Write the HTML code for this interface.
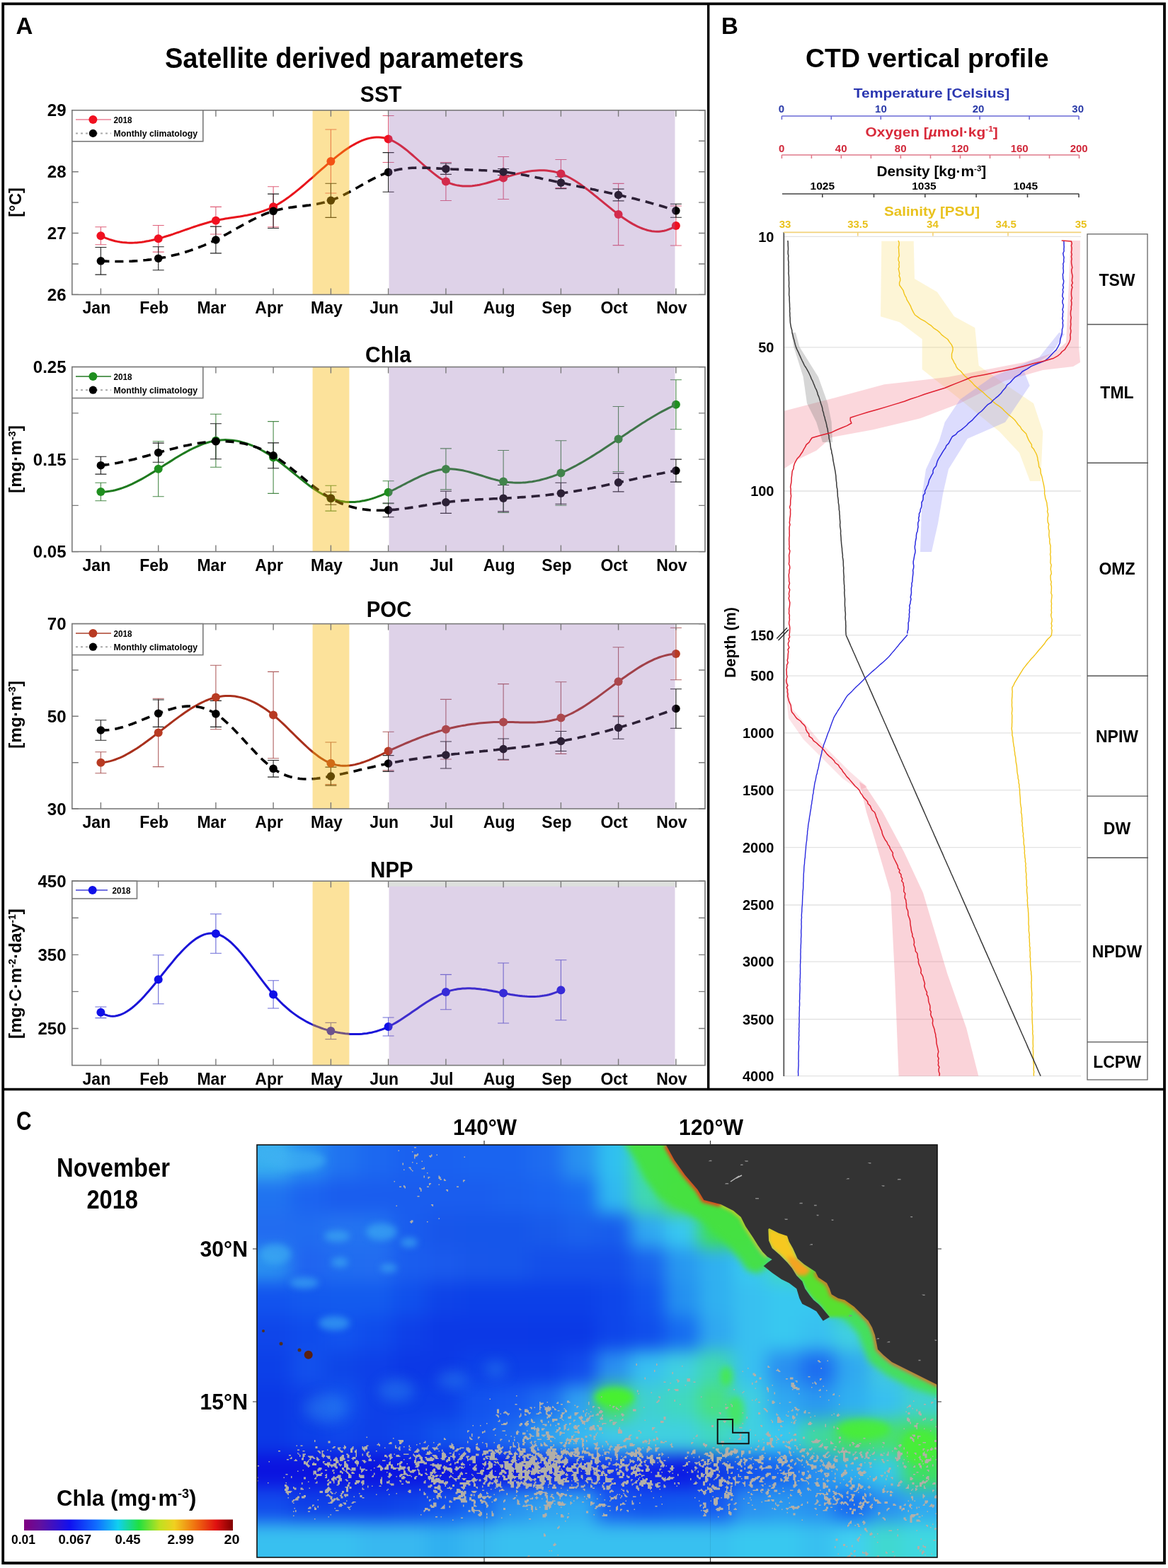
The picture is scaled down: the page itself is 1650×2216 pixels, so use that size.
<!DOCTYPE html><html><head><meta charset="utf-8"><title>Figure</title><style>html,body{margin:0;padding:0;background:#fff;overflow:hidden}svg{display:block}</style></head><body>
<svg width="1650" height="2216" viewBox="0 0 1650 2216" font-family='"Liberation Sans", Arial, sans-serif' font-weight="bold" fill="#000">
<rect width="1650" height="2216" fill="#fff"/>
<text x="22.5" y="48" font-size="33">A</text>
<text x="1019" y="48" font-size="33">B</text>
<text x="23" y="1597" font-size="36" textLength="21.5" lengthAdjust="spacingAndGlyphs">C</text>
<text x="233" y="95.8" font-size="40" textLength="507" lengthAdjust="spacingAndGlyphs">Satellite derived parameters</text>
<text x="1138" y="95.3" font-size="36" textLength="343.5" lengthAdjust="spacingAndGlyphs">CTD vertical profile</text>
<g>
<text x="508.8" y="143.6" font-size="32" textLength="58.6" lengthAdjust="spacingAndGlyphs">SST</text>
<path d="M142.4,320.7 V345.7 M134.4,320.7 H150.4 M134.4,345.7 H150.4 M223.7,318.5 V356.1 M215.7,318.5 H231.7 M215.7,356.1 H231.7 M304.9,292.4 V331 M296.9,292.4 H312.9 M296.9,331 H312.9 M386.1,263.7 V320.7 M378.1,263.7 H394.1 M378.1,320.7 H394.1 M467.4,183 V273 M459.4,183 H475.4 M459.4,273 H475.4 M548.6,163.5 V229.5 M540.6,163.5 H556.6 M540.6,229.5 H556.6 M629.9,229.5 V283.5 M621.9,229.5 H637.9 M621.9,283.5 H637.9 M711.1,221.5 V281.5 M703.1,221.5 H719.1 M703.1,281.5 H719.1 M792.4,225.5 V265.5 M784.4,225.5 H800.4 M784.4,265.5 H800.4 M873.6,259.4 V346.6 M865.6,259.4 H881.6 M865.6,346.6 H881.6 M954.9,291 V347 M946.9,291 H962.9 M946.9,347 H962.9" stroke="#e0607a" stroke-width="1.1" fill="none"/>
<path d="M142.4,349.5 V388.1 M134.4,349.5 H150.4 M134.4,388.1 H150.4 M223.7,348.7 V381.7 M215.7,348.7 H231.7 M215.7,381.7 H231.7 M304.9,320.1 V357.9 M296.9,320.1 H312.9 M296.9,357.9 H312.9 M386.1,274.1 V322.5 M378.1,274.1 H394.1 M378.1,322.5 H394.1 M467.4,259.2 V307.4 M459.4,259.2 H475.4 M459.4,307.4 H475.4 M548.6,215.6 V271.2 M540.6,215.6 H556.6 M540.6,271.2 H556.6 M629.9,231 V246.4 M621.9,231 H637.9 M621.9,246.4 H637.9 M711.1,238.5 V247.5 M703.1,238.5 H719.1 M703.1,247.5 H719.1 M792.4,249.8 V266.6 M784.4,249.8 H800.4 M784.4,266.6 H800.4 M873.6,267.1 V283.9 M865.6,267.1 H881.6 M865.6,283.9 H881.6 M954.9,288.3 V307.3 M946.9,288.3 H962.9 M946.9,307.3 H962.9" stroke="#222" stroke-width="1.1" fill="none"/>
<path d="M142.4,333.2 L145.8,334.8 L149.2,336.3 L152.6,337.6 L155.9,338.8 L159.3,339.8 L162.7,340.7 L166.1,341.4 L169.5,342 L172.9,342.5 L176.3,342.8 L179.6,343.1 L183,343.2 L186.4,343.2 L189.8,343.1 L193.2,342.9 L196.6,342.6 L200,342.2 L203.3,341.7 L206.7,341.1 L210.1,340.5 L213.5,339.8 L216.9,339 L220.3,338.2 L223.7,337.3 L227,336.4 L230.4,335.4 L233.8,334.3 L237.2,333.3 L240.6,332.2 L244,331.1 L247.3,329.9 L250.7,328.7 L254.1,327.6 L257.5,326.4 L260.9,325.2 L264.3,324 L267.7,322.8 L271,321.7 L274.4,320.5 L277.8,319.4 L281.2,318.3 L284.6,317.2 L288,316.2 L291.4,315.2 L294.7,314.2 L298.1,313.3 L301.5,312.5 L304.9,311.7 L308.3,311 L311.7,310.3 L315.1,309.7 L318.4,309.1 L321.8,308.6 L325.2,308 L328.6,307.5 L332,307 L335.4,306.5 L338.8,306 L342.1,305.4 L345.5,304.8 L348.9,304.2 L352.3,303.5 L355.7,302.8 L359.1,302 L362.5,301.1 L365.8,300.2 L369.2,299.1 L372.6,298 L376,296.7 L379.4,295.3 L382.8,293.8 L386.1,292.2 L389.5,290.4 L392.9,288.5 L396.3,286.4 L399.7,284.3 L403.1,282 L406.5,279.6 L409.8,277.1 L413.2,274.5 L416.6,271.9 L420,269.2 L423.4,266.4 L426.8,263.5 L430.2,260.6 L433.5,257.7 L436.9,254.7 L440.3,251.8 L443.7,248.8 L447.1,245.7 L450.5,242.7 L453.9,239.7 L457.2,236.8 L460.6,233.8 L464,230.9 L467.4,228 L470.8,225.2 L474.2,222.4 L477.6,219.7 L480.9,217.1 L484.3,214.5 L487.7,212.1 L491.1,209.8 L494.5,207.6 L497.9,205.5 L501.3,203.6 L504.6,201.8 L508,200.1 L511.4,198.7 L514.8,197.4 L518.2,196.3 L521.6,195.4 L525,194.7 L528.3,194.2 L531.7,194 L535.1,194 L538.5,194.2 L541.9,194.7 L545.3,195.5 L548.6,196.5 L552,197.8 L555.4,199.4 L558.8,201.2 L562.2,203.3 L565.6,205.5 L569,208 L572.3,210.5 L575.7,213.2 L579.1,216.1 L582.5,219 L585.9,222 L589.3,225 L592.7,228 L596,231 L599.4,234.1 L602.8,237 L606.2,239.9 L609.6,242.7 L613,245.4 L616.4,248 L619.7,250.4 L623.1,252.7 L626.5,254.7 L629.9,256.5 L633.3,258.1 L636.7,259.4 L640.1,260.5 L643.4,261.4 L646.8,262.1 L650.2,262.6 L653.6,263 L657,263.1 L660.4,263.1 L663.8,263 L667.1,262.7 L670.5,262.3 L673.9,261.8 L677.3,261.2 L680.7,260.4 L684.1,259.6 L687.5,258.8 L690.8,257.8 L694.2,256.8 L697.6,255.8 L701,254.7 L704.4,253.7 L707.8,252.6 L711.1,251.5 L714.5,250.4 L717.9,249.4 L721.3,248.4 L724.7,247.4 L728.1,246.4 L731.5,245.5 L734.8,244.7 L738.2,243.9 L741.6,243.2 L745,242.6 L748.4,242 L751.8,241.5 L755.2,241.2 L758.5,240.9 L761.9,240.8 L765.3,240.7 L768.7,240.8 L772.1,241 L775.5,241.4 L778.9,241.9 L782.2,242.5 L785.6,243.4 L789,244.3 L792.4,245.5 L795.8,246.8 L799.2,248.3 L802.6,250 L805.9,251.8 L809.3,253.8 L812.7,255.8 L816.1,258 L819.5,260.3 L822.9,262.7 L826.3,265.2 L829.6,267.7 L833,270.4 L836.4,273 L839.8,275.8 L843.2,278.5 L846.6,281.3 L850,284.1 L853.3,286.8 L856.7,289.6 L860.1,292.4 L863.5,295.1 L866.9,297.8 L870.3,300.4 L873.6,303 L877,305.5 L880.4,307.9 L883.8,310.2 L887.2,312.5 L890.6,314.6 L894,316.6 L897.3,318.4 L900.7,320.1 L904.1,321.7 L907.5,323 L910.9,324.2 L914.3,325.3 L917.7,326.1 L921,326.7 L924.4,327.1 L927.8,327.2 L931.2,327.2 L934.6,326.8 L938,326.2 L941.4,325.4 L944.7,324.2 L948.1,322.8 L951.5,321.1 L954.9,319" stroke="#e8141c" stroke-width="3" fill="none"/>
<circle cx="142.4" cy="333.2" r="6" fill="#f01020"/><circle cx="223.7" cy="337.3" r="6" fill="#f01020"/><circle cx="304.9" cy="311.7" r="6" fill="#f01020"/><circle cx="386.1" cy="292.2" r="6" fill="#f01020"/><circle cx="467.4" cy="228" r="6" fill="#f01020"/><circle cx="548.6" cy="196.5" r="6" fill="#f01020"/><circle cx="629.9" cy="256.5" r="6" fill="#f01020"/><circle cx="711.1" cy="251.5" r="6" fill="#f01020"/><circle cx="792.4" cy="245.5" r="6" fill="#f01020"/><circle cx="873.6" cy="303" r="6" fill="#f01020"/><circle cx="954.9" cy="319" r="6" fill="#f01020"/>
<path d="M142.4,368.8 L145.8,369 L149.2,369.1 L152.6,369.3 L155.9,369.4 L159.3,369.4 L162.7,369.5 L166.1,369.5 L169.5,369.5 L172.9,369.5 L176.3,369.4 L179.6,369.3 L183,369.2 L186.4,369.1 L189.8,368.9 L193.2,368.7 L196.6,368.4 L200,368.2 L203.3,367.8 L206.7,367.5 L210.1,367.1 L213.5,366.7 L216.9,366.2 L220.3,365.7 L223.7,365.2 L227,364.6 L230.4,364 L233.8,363.4 L237.2,362.7 L240.6,361.9 L244,361.1 L247.3,360.3 L250.7,359.5 L254.1,358.5 L257.5,357.6 L260.9,356.6 L264.3,355.5 L267.7,354.4 L271,353.3 L274.4,352.1 L277.8,350.8 L281.2,349.5 L284.6,348.2 L288,346.8 L291.4,345.3 L294.7,343.8 L298.1,342.3 L301.5,340.7 L304.9,339 L308.3,337.3 L311.7,335.5 L315.1,333.7 L318.4,331.8 L321.8,330 L325.2,328.1 L328.6,326.2 L332,324.2 L335.4,322.3 L338.8,320.4 L342.1,318.5 L345.5,316.6 L348.9,314.8 L352.3,313 L355.7,311.2 L359.1,309.5 L362.5,307.8 L365.8,306.2 L369.2,304.7 L372.6,303.2 L376,301.8 L379.4,300.6 L382.8,299.4 L386.1,298.3 L389.5,297.3 L392.9,296.5 L396.3,295.7 L399.7,295 L403.1,294.4 L406.5,293.8 L409.8,293.3 L413.2,292.9 L416.6,292.4 L420,292 L423.4,291.6 L426.8,291.3 L430.2,290.9 L433.5,290.4 L436.9,290 L440.3,289.5 L443.7,289 L447.1,288.5 L450.5,287.8 L453.9,287.1 L457.2,286.3 L460.6,285.4 L464,284.4 L467.4,283.3 L470.8,282.1 L474.2,280.7 L477.6,279.3 L480.9,277.7 L484.3,276.1 L487.7,274.4 L491.1,272.6 L494.5,270.8 L497.9,269 L501.3,267.1 L504.6,265.2 L508,263.3 L511.4,261.4 L514.8,259.5 L518.2,257.6 L521.6,255.7 L525,253.9 L528.3,252.2 L531.7,250.5 L535.1,248.9 L538.5,247.4 L541.9,245.9 L545.3,244.6 L548.6,243.4 L552,242.3 L555.4,241.4 L558.8,240.5 L562.2,239.8 L565.6,239.1 L569,238.6 L572.3,238.2 L575.7,237.8 L579.1,237.5 L582.5,237.3 L585.9,237.2 L589.3,237.1 L592.7,237.1 L596,237.1 L599.4,237.1 L602.8,237.3 L606.2,237.4 L609.6,237.5 L613,237.7 L616.4,237.9 L619.7,238.1 L623.1,238.3 L626.5,238.5 L629.9,238.7 L633.3,238.9 L636.7,239 L640.1,239.2 L643.4,239.3 L646.8,239.4 L650.2,239.5 L653.6,239.7 L657,239.8 L660.4,239.9 L663.8,240 L667.1,240.1 L670.5,240.2 L673.9,240.4 L677.3,240.5 L680.7,240.7 L684.1,240.8 L687.5,241 L690.8,241.2 L694.2,241.5 L697.6,241.7 L701,242 L704.4,242.3 L707.8,242.6 L711.1,243 L714.5,243.4 L717.9,243.8 L721.3,244.3 L724.7,244.8 L728.1,245.3 L731.5,245.8 L734.8,246.4 L738.2,247 L741.6,247.6 L745,248.3 L748.4,248.9 L751.8,249.6 L755.2,250.2 L758.5,250.9 L761.9,251.6 L765.3,252.4 L768.7,253.1 L772.1,253.8 L775.5,254.5 L778.9,255.3 L782.2,256 L785.6,256.7 L789,257.5 L792.4,258.2 L795.8,258.9 L799.2,259.6 L802.6,260.4 L805.9,261.1 L809.3,261.8 L812.7,262.5 L816.1,263.2 L819.5,263.9 L822.9,264.6 L826.3,265.3 L829.6,266 L833,266.7 L836.4,267.4 L839.8,268.1 L843.2,268.9 L846.6,269.6 L850,270.3 L853.3,271 L856.7,271.7 L860.1,272.5 L863.5,273.2 L866.9,274 L870.3,274.7 L873.6,275.5 L877,276.3 L880.4,277.1 L883.8,277.9 L887.2,278.7 L890.6,279.5 L894,280.3 L897.3,281.1 L900.7,282 L904.1,282.8 L907.5,283.7 L910.9,284.6 L914.3,285.5 L917.7,286.4 L921,287.4 L924.4,288.3 L927.8,289.3 L931.2,290.3 L934.6,291.3 L938,292.3 L941.4,293.4 L944.7,294.5 L948.1,295.6 L951.5,296.7 L954.9,297.8" stroke="#000" stroke-width="3.6" fill="none" stroke-dasharray="12 8"/>
<circle cx="142.4" cy="368.8" r="5.8" fill="#000"/><circle cx="223.7" cy="365.2" r="5.8" fill="#000"/><circle cx="304.9" cy="339" r="5.8" fill="#000"/><circle cx="386.1" cy="298.3" r="5.8" fill="#000"/><circle cx="467.4" cy="283.3" r="5.8" fill="#000"/><circle cx="548.6" cy="243.4" r="5.8" fill="#000"/><circle cx="629.9" cy="238.7" r="5.8" fill="#000"/><circle cx="711.1" cy="243" r="5.8" fill="#000"/><circle cx="792.4" cy="258.2" r="5.8" fill="#000"/><circle cx="873.6" cy="275.5" r="5.8" fill="#000"/><circle cx="954.9" cy="297.8" r="5.8" fill="#000"/>
<rect x="441.6" y="155.8" width="51.8" height="260.6" fill="rgb(247,182,5)" fill-opacity="0.4"/>
<rect x="549.5" y="155.8" width="404" height="260.6" fill="rgb(145,105,178)" fill-opacity="0.3"/>
<rect x="101.8" y="155.8" width="894.2" height="260.6" fill="none" stroke="#7a7a7a" stroke-width="1.6"/>
<path d="M142.4,416.4 v-9 M142.4,155.8 v9 M223.7,416.4 v-9 M223.7,155.8 v9 M304.9,416.4 v-9 M304.9,155.8 v9 M386.1,416.4 v-9 M386.1,155.8 v9 M467.4,416.4 v-9 M467.4,155.8 v9 M548.6,416.4 v-9 M548.6,155.8 v9 M629.9,416.4 v-9 M629.9,155.8 v9 M711.1,416.4 v-9 M711.1,155.8 v9 M792.4,416.4 v-9 M792.4,155.8 v9 M873.6,416.4 v-9 M873.6,155.8 v9 M954.9,416.4 v-9 M954.9,155.8 v9 M101.8,155.8 h9 M996,155.8 h-9 M101.8,242.7 h9 M996,242.7 h-9 M101.8,329.5 h9 M996,329.5 h-9 M101.8,416.4 h9 M996,416.4 h-9 M101.8,199.2 h9 M996,199.2 h-9 M101.8,286.1 h9 M996,286.1 h-9 M101.8,373 h9 M996,373 h-9" stroke="#7a7a7a" stroke-width="1.4" fill="none"/>
<text x="93.5" y="164.4" font-size="24" text-anchor="end">29</text>
<text x="93.5" y="251.3" font-size="24" text-anchor="end">28</text>
<text x="93.5" y="338.1" font-size="24" text-anchor="end">27</text>
<text x="93.5" y="425" font-size="24" text-anchor="end">26</text>
<text x="136.4" y="443.4" font-size="23" text-anchor="middle">Jan</text>
<text x="217.7" y="443.4" font-size="23" text-anchor="middle">Feb</text>
<text x="298.9" y="443.4" font-size="23" text-anchor="middle">Mar</text>
<text x="380.1" y="443.4" font-size="23" text-anchor="middle">Apr</text>
<text x="461.4" y="443.4" font-size="23" text-anchor="middle">May</text>
<text x="542.6" y="443.4" font-size="23" text-anchor="middle">Jun</text>
<text x="623.9" y="443.4" font-size="23" text-anchor="middle">Jul</text>
<text x="705.1" y="443.4" font-size="23" text-anchor="middle">Aug</text>
<text x="786.4" y="443.4" font-size="23" text-anchor="middle">Sep</text>
<text x="867.6" y="443.4" font-size="23" text-anchor="middle">Oct</text>
<text x="948.9" y="443.4" font-size="23" text-anchor="middle">Nov</text>
<text transform="translate(30,286) rotate(-90)" font-size="24" text-anchor="middle" textLength="41.7" lengthAdjust="spacingAndGlyphs">[°C]</text>
<rect x="101.8" y="155.8" width="185" height="44" fill="#fff" stroke="#7a7a7a" stroke-width="1.6"/><path d="M107,169.1 H157" stroke="#f0a0b0" stroke-width="2"/><circle cx="131.4" cy="169.1" r="6" fill="#f01020"/><path d="M107,188.4 H157" stroke="#aaa" stroke-width="2" stroke-dasharray="3 4"/><circle cx="131.4" cy="188.4" r="5.6" fill="#000"/><text x="160.5" y="174.1" font-size="13.5" textLength="26" lengthAdjust="spacingAndGlyphs">2018</text><text x="160.5" y="193.4" font-size="13.5" textLength="118.5" lengthAdjust="spacingAndGlyphs">Monthly climatology</text>
</g>
<g>
<text x="516.1" y="511.6" font-size="32" textLength="64.9" lengthAdjust="spacingAndGlyphs">Chla</text>
<path d="M142.4,682.3 V707.7 M134.4,682.3 H150.4 M134.4,707.7 H150.4 M223.7,623.8 V701.8 M215.7,623.8 H231.7 M215.7,701.8 H231.7 M304.9,585.2 V660.2 M296.9,585.2 H312.9 M296.9,660.2 H312.9 M386.1,595.6 V697.4 M378.1,595.6 H394.1 M378.1,697.4 H394.1 M467.4,686.3 V722.1 M459.4,686.3 H475.4 M459.4,722.1 H475.4 M548.6,679.7 V711.7 M540.6,679.7 H556.6 M540.6,711.7 H556.6 M629.9,633.9 V691.9 M621.9,633.9 H637.9 M621.9,691.9 H637.9 M711.1,636.5 V724.5 M703.1,636.5 H719.1 M703.1,724.5 H719.1 M792.4,622.8 V714.2 M784.4,622.8 H800.4 M784.4,714.2 H800.4 M873.6,574.5 V666.5 M865.6,574.5 H881.6 M865.6,666.5 H881.6 M954.9,536.8 V606.8 M946.9,536.8 H962.9 M946.9,606.8 H962.9" stroke="#4a8a4a" stroke-width="1.1" fill="none"/>
<path d="M142.4,645.3 V670.1 M134.4,645.3 H150.4 M134.4,670.1 H150.4 M223.7,626.1 V653.3 M215.7,626.1 H231.7 M215.7,653.3 H231.7 M304.9,598.8 V648.8 M296.9,598.8 H312.9 M296.9,648.8 H312.9 M386.1,625.9 V661.7 M378.1,625.9 H394.1 M378.1,661.7 H394.1 M467.4,695.2 V713.2 M459.4,695.2 H475.4 M459.4,713.2 H475.4 M548.6,711 V730.8 M540.6,711 H556.6 M540.6,730.8 H556.6 M629.9,694.2 V725.4 M621.9,694.2 H637.9 M621.9,725.4 H637.9 M711.1,685.5 V722.9 M703.1,685.5 H719.1 M703.1,722.9 H719.1 M792.4,682.2 V712.2 M784.4,682.2 H800.4 M784.4,712.2 H800.4 M873.6,668.9 V694.9 M865.6,668.9 H881.6 M865.6,694.9 H881.6 M954.9,649.1 V681.1 M946.9,649.1 H962.9 M946.9,681.1 H962.9" stroke="#222" stroke-width="1.1" fill="none"/>
<path d="M142.4,695 L145.8,695 L149.2,694.9 L152.6,694.5 L155.9,694.1 L159.3,693.5 L162.7,692.7 L166.1,691.8 L169.5,690.8 L172.9,689.7 L176.3,688.4 L179.6,687.1 L183,685.6 L186.4,684.1 L189.8,682.4 L193.2,680.7 L196.6,678.9 L200,677.1 L203.3,675.2 L206.7,673.2 L210.1,671.2 L213.5,669.1 L216.9,667.1 L220.3,664.9 L223.7,662.8 L227,660.7 L230.4,658.5 L233.8,656.3 L237.2,654.2 L240.6,652.1 L244,649.9 L247.3,647.8 L250.7,645.8 L254.1,643.8 L257.5,641.8 L260.9,639.9 L264.3,638 L267.7,636.2 L271,634.5 L274.4,632.8 L277.8,631.3 L281.2,629.8 L284.6,628.4 L288,627.2 L291.4,626 L294.7,625 L298.1,624.1 L301.5,623.3 L304.9,622.7 L308.3,622.2 L311.7,621.9 L315.1,621.7 L318.4,621.6 L321.8,621.7 L325.2,621.9 L328.6,622.2 L332,622.7 L335.4,623.3 L338.8,624 L342.1,624.9 L345.5,625.9 L348.9,627 L352.3,628.2 L355.7,629.5 L359.1,631 L362.5,632.5 L365.8,634.2 L369.2,636 L372.6,637.9 L376,639.9 L379.4,642 L382.8,644.2 L386.1,646.5 L389.5,648.9 L392.9,651.4 L396.3,653.9 L399.7,656.6 L403.1,659.2 L406.5,661.9 L409.8,664.7 L413.2,667.4 L416.6,670.2 L420,672.9 L423.4,675.7 L426.8,678.4 L430.2,681 L433.5,683.6 L436.9,686.2 L440.3,688.7 L443.7,691 L447.1,693.3 L450.5,695.5 L453.9,697.5 L457.2,699.4 L460.6,701.2 L464,702.8 L467.4,704.2 L470.8,705.5 L474.2,706.5 L477.6,707.4 L480.9,708.2 L484.3,708.7 L487.7,709.2 L491.1,709.4 L494.5,709.6 L497.9,709.5 L501.3,709.4 L504.6,709.1 L508,708.7 L511.4,708.1 L514.8,707.5 L518.2,706.7 L521.6,705.9 L525,704.9 L528.3,703.8 L531.7,702.7 L535.1,701.4 L538.5,700.1 L541.9,698.7 L545.3,697.2 L548.6,695.7 L552,694.1 L555.4,692.5 L558.8,690.8 L562.2,689 L565.6,687.3 L569,685.5 L572.3,683.8 L575.7,682 L579.1,680.3 L582.5,678.6 L585.9,676.9 L589.3,675.3 L592.7,673.7 L596,672.2 L599.4,670.8 L602.8,669.4 L606.2,668.2 L609.6,667 L613,666 L616.4,665.1 L619.7,664.3 L623.1,663.7 L626.5,663.2 L629.9,662.9 L633.3,662.8 L636.7,662.8 L640.1,662.9 L643.4,663.2 L646.8,663.7 L650.2,664.2 L653.6,664.8 L657,665.6 L660.4,666.4 L663.8,667.3 L667.1,668.2 L670.5,669.2 L673.9,670.2 L677.3,671.3 L680.7,672.3 L684.1,673.4 L687.5,674.5 L690.8,675.5 L694.2,676.5 L697.6,677.4 L701,678.3 L704.4,679.1 L707.8,679.9 L711.1,680.5 L714.5,681 L717.9,681.5 L721.3,681.8 L724.7,682.1 L728.1,682.2 L731.5,682.3 L734.8,682.2 L738.2,682.1 L741.6,681.9 L745,681.6 L748.4,681.1 L751.8,680.7 L755.2,680.1 L758.5,679.4 L761.9,678.7 L765.3,677.8 L768.7,676.9 L772.1,676 L775.5,674.9 L778.9,673.8 L782.2,672.6 L785.6,671.3 L789,669.9 L792.4,668.5 L795.8,667 L799.2,665.5 L802.6,663.8 L805.9,662.2 L809.3,660.4 L812.7,658.7 L816.1,656.8 L819.5,654.9 L822.9,653 L826.3,651 L829.6,649 L833,647 L836.4,644.9 L839.8,642.8 L843.2,640.6 L846.6,638.5 L850,636.3 L853.3,634.1 L856.7,631.8 L860.1,629.6 L863.5,627.3 L866.9,625.1 L870.3,622.8 L873.6,620.5 L877,618.2 L880.4,615.9 L883.8,613.7 L887.2,611.4 L890.6,609.1 L894,606.9 L897.3,604.7 L900.7,602.5 L904.1,600.3 L907.5,598.1 L910.9,596 L914.3,593.8 L917.7,591.8 L921,589.7 L924.4,587.7 L927.8,585.7 L931.2,583.8 L934.6,581.9 L938,580.1 L941.4,578.3 L944.7,576.6 L948.1,575 L951.5,573.3 L954.9,571.8" stroke="#1e7a1e" stroke-width="3" fill="none"/>
<circle cx="142.4" cy="695" r="6" fill="#1f8f1f"/><circle cx="223.7" cy="662.8" r="6" fill="#1f8f1f"/><circle cx="304.9" cy="622.7" r="6" fill="#1f8f1f"/><circle cx="386.1" cy="646.5" r="6" fill="#1f8f1f"/><circle cx="467.4" cy="704.2" r="6" fill="#1f8f1f"/><circle cx="548.6" cy="695.7" r="6" fill="#1f8f1f"/><circle cx="629.9" cy="662.9" r="6" fill="#1f8f1f"/><circle cx="711.1" cy="680.5" r="6" fill="#1f8f1f"/><circle cx="792.4" cy="668.5" r="6" fill="#1f8f1f"/><circle cx="873.6" cy="620.5" r="6" fill="#1f8f1f"/><circle cx="954.9" cy="571.8" r="6" fill="#1f8f1f"/>
<path d="M142.4,657.7 L145.8,657.3 L149.2,656.9 L152.6,656.5 L155.9,656 L159.3,655.4 L162.7,654.8 L166.1,654.2 L169.5,653.5 L172.9,652.8 L176.3,652.1 L179.6,651.3 L183,650.5 L186.4,649.7 L189.8,648.9 L193.2,648 L196.6,647.1 L200,646.2 L203.3,645.3 L206.7,644.4 L210.1,643.5 L213.5,642.5 L216.9,641.6 L220.3,640.6 L223.7,639.7 L227,638.8 L230.4,637.8 L233.8,636.9 L237.2,636 L240.6,635.1 L244,634.2 L247.3,633.4 L250.7,632.5 L254.1,631.7 L257.5,630.9 L260.9,630.1 L264.3,629.4 L267.7,628.7 L271,628 L274.4,627.4 L277.8,626.8 L281.2,626.2 L284.6,625.7 L288,625.3 L291.4,624.9 L294.7,624.5 L298.1,624.2 L301.5,624 L304.9,623.8 L308.3,623.7 L311.7,623.6 L315.1,623.6 L318.4,623.7 L321.8,623.9 L325.2,624.1 L328.6,624.4 L332,624.8 L335.4,625.2 L338.8,625.8 L342.1,626.4 L345.5,627.1 L348.9,628 L352.3,628.9 L355.7,629.9 L359.1,631 L362.5,632.2 L365.8,633.5 L369.2,635 L372.6,636.5 L376,638.1 L379.4,639.9 L382.8,641.8 L386.1,643.8 L389.5,645.9 L392.9,648.2 L396.3,650.5 L399.7,652.9 L403.1,655.4 L406.5,658 L409.8,660.7 L413.2,663.3 L416.6,666.1 L420,668.8 L423.4,671.6 L426.8,674.4 L430.2,677.1 L433.5,679.9 L436.9,682.6 L440.3,685.3 L443.7,687.9 L447.1,690.5 L450.5,693 L453.9,695.5 L457.2,697.8 L460.6,700.1 L464,702.2 L467.4,704.2 L470.8,706.1 L474.2,707.8 L477.6,709.4 L480.9,711 L484.3,712.3 L487.7,713.6 L491.1,714.8 L494.5,715.8 L497.9,716.7 L501.3,717.6 L504.6,718.3 L508,719 L511.4,719.6 L514.8,720 L518.2,720.4 L521.6,720.8 L525,721 L528.3,721.2 L531.7,721.3 L535.1,721.3 L538.5,721.3 L541.9,721.2 L545.3,721.1 L548.6,720.9 L552,720.7 L555.4,720.4 L558.8,720.1 L562.2,719.7 L565.6,719.4 L569,719 L572.3,718.5 L575.7,718.1 L579.1,717.6 L582.5,717.1 L585.9,716.6 L589.3,716 L592.7,715.5 L596,714.9 L599.4,714.4 L602.8,713.8 L606.2,713.3 L609.6,712.8 L613,712.2 L616.4,711.7 L619.7,711.2 L623.1,710.7 L626.5,710.2 L629.9,709.8 L633.3,709.4 L636.7,709 L640.1,708.6 L643.4,708.3 L646.8,708 L650.2,707.7 L653.6,707.4 L657,707.1 L660.4,706.9 L663.8,706.6 L667.1,706.4 L670.5,706.2 L673.9,706 L677.3,705.8 L680.7,705.7 L684.1,705.5 L687.5,705.3 L690.8,705.2 L694.2,705 L697.6,704.8 L701,704.7 L704.4,704.5 L707.8,704.4 L711.1,704.2 L714.5,704 L717.9,703.9 L721.3,703.7 L724.7,703.5 L728.1,703.3 L731.5,703.1 L734.8,702.8 L738.2,702.6 L741.6,702.4 L745,702.1 L748.4,701.9 L751.8,701.6 L755.2,701.3 L758.5,701 L761.9,700.7 L765.3,700.4 L768.7,700 L772.1,699.7 L775.5,699.3 L778.9,698.9 L782.2,698.5 L785.6,698.1 L789,697.7 L792.4,697.2 L795.8,696.7 L799.2,696.2 L802.6,695.7 L805.9,695.2 L809.3,694.6 L812.7,694.1 L816.1,693.5 L819.5,692.9 L822.9,692.3 L826.3,691.6 L829.6,691 L833,690.3 L836.4,689.7 L839.8,689 L843.2,688.3 L846.6,687.6 L850,687 L853.3,686.2 L856.7,685.5 L860.1,684.8 L863.5,684.1 L866.9,683.4 L870.3,682.6 L873.6,681.9 L877,681.2 L880.4,680.4 L883.8,679.7 L887.2,678.9 L890.6,678.2 L894,677.5 L897.3,676.7 L900.7,676 L904.1,675.3 L907.5,674.5 L910.9,673.8 L914.3,673.1 L917.7,672.4 L921,671.7 L924.4,671 L927.8,670.3 L931.2,669.6 L934.6,668.9 L938,668.2 L941.4,667.6 L944.7,666.9 L948.1,666.3 L951.5,665.7 L954.9,665.1" stroke="#000" stroke-width="3.6" fill="none" stroke-dasharray="12 8"/>
<circle cx="142.4" cy="657.7" r="5.8" fill="#000"/><circle cx="223.7" cy="639.7" r="5.8" fill="#000"/><circle cx="304.9" cy="623.8" r="5.8" fill="#000"/><circle cx="386.1" cy="643.8" r="5.8" fill="#000"/><circle cx="467.4" cy="704.2" r="5.8" fill="#000"/><circle cx="548.6" cy="720.9" r="5.8" fill="#000"/><circle cx="629.9" cy="709.8" r="5.8" fill="#000"/><circle cx="711.1" cy="704.2" r="5.8" fill="#000"/><circle cx="792.4" cy="697.2" r="5.8" fill="#000"/><circle cx="873.6" cy="681.9" r="5.8" fill="#000"/><circle cx="954.9" cy="665.1" r="5.8" fill="#000"/>
<rect x="441.6" y="518.6" width="51.8" height="261" fill="rgb(247,182,5)" fill-opacity="0.4"/>
<rect x="549.5" y="518.6" width="404" height="261" fill="rgb(145,105,178)" fill-opacity="0.3"/>
<rect x="101.8" y="518.6" width="894.2" height="261" fill="none" stroke="#7a7a7a" stroke-width="1.6"/>
<path d="M142.4,779.6 v-9 M142.4,518.6 v9 M223.7,779.6 v-9 M223.7,518.6 v9 M304.9,779.6 v-9 M304.9,518.6 v9 M386.1,779.6 v-9 M386.1,518.6 v9 M467.4,779.6 v-9 M467.4,518.6 v9 M548.6,779.6 v-9 M548.6,518.6 v9 M629.9,779.6 v-9 M629.9,518.6 v9 M711.1,779.6 v-9 M711.1,518.6 v9 M792.4,779.6 v-9 M792.4,518.6 v9 M873.6,779.6 v-9 M873.6,518.6 v9 M954.9,779.6 v-9 M954.9,518.6 v9 M101.8,518.6 h9 M996,518.6 h-9 M101.8,649.1 h9 M996,649.1 h-9 M101.8,779.6 h9 M996,779.6 h-9 M101.8,583.9 h9 M996,583.9 h-9 M101.8,714.4 h9 M996,714.4 h-9" stroke="#7a7a7a" stroke-width="1.4" fill="none"/>
<text x="93.5" y="527.2" font-size="24" text-anchor="end">0.25</text>
<text x="93.5" y="657.7" font-size="24" text-anchor="end">0.15</text>
<text x="93.5" y="788.2" font-size="24" text-anchor="end">0.05</text>
<text x="136.4" y="806.6" font-size="23" text-anchor="middle">Jan</text>
<text x="217.7" y="806.6" font-size="23" text-anchor="middle">Feb</text>
<text x="298.9" y="806.6" font-size="23" text-anchor="middle">Mar</text>
<text x="380.1" y="806.6" font-size="23" text-anchor="middle">Apr</text>
<text x="461.4" y="806.6" font-size="23" text-anchor="middle">May</text>
<text x="542.6" y="806.6" font-size="23" text-anchor="middle">Jun</text>
<text x="623.9" y="806.6" font-size="23" text-anchor="middle">Jul</text>
<text x="705.1" y="806.6" font-size="23" text-anchor="middle">Aug</text>
<text x="786.4" y="806.6" font-size="23" text-anchor="middle">Sep</text>
<text x="867.6" y="806.6" font-size="23" text-anchor="middle">Oct</text>
<text x="948.9" y="806.6" font-size="23" text-anchor="middle">Nov</text>
<text transform="translate(30,649) rotate(-90)" font-size="24" text-anchor="middle" textLength="96" lengthAdjust="spacingAndGlyphs">[mg·m<tspan dy="-8" font-size="14">-3</tspan><tspan dy="8">]</tspan></text>
<rect x="101.8" y="518.6" width="185" height="44" fill="#fff" stroke="#7a7a7a" stroke-width="1.6"/><path d="M107,531.9 H157" stroke="#5a9a5a" stroke-width="2"/><circle cx="131.4" cy="531.9" r="6" fill="#1f8f1f"/><path d="M107,551.2 H157" stroke="#aaa" stroke-width="2" stroke-dasharray="3 4"/><circle cx="131.4" cy="551.2" r="5.6" fill="#000"/><text x="160.5" y="536.9" font-size="13.5" textLength="26" lengthAdjust="spacingAndGlyphs">2018</text><text x="160.5" y="556.2" font-size="13.5" textLength="118.5" lengthAdjust="spacingAndGlyphs">Monthly climatology</text>
</g>
<g>
<text x="517.8" y="872.3" font-size="32" textLength="63.6" lengthAdjust="spacingAndGlyphs">POC</text>
<path d="M142.4,1062.8 V1092.8 M134.4,1062.8 H150.4 M134.4,1092.8 H150.4 M223.7,987.2 V1083.6 M215.7,987.2 H231.7 M215.7,1083.6 H231.7 M304.9,940.3 V1030.7 M296.9,940.3 H312.9 M296.9,1030.7 H312.9 M386.1,949.4 V1071.8 M378.1,949.4 H394.1 M378.1,1071.8 H394.1 M467.4,1049 V1108.6 M459.4,1049 H475.4 M459.4,1108.6 H475.4 M548.6,1034.3 V1088.9 M540.6,1034.3 H556.6 M540.6,1088.9 H556.6 M629.9,988.4 V1073 M621.9,988.4 H637.9 M621.9,1073 H637.9 M711.1,966.6 V1074.2 M703.1,966.6 H719.1 M703.1,1074.2 H719.1 M792.4,963.8 V1065.4 M784.4,963.8 H800.4 M784.4,1065.4 H800.4 M873.6,914.8 V1011.8 M865.6,914.8 H881.6 M865.6,1011.8 H881.6 M954.9,887.3 V960.7 M946.9,887.3 H962.9 M946.9,960.7 H962.9" stroke="#b06060" stroke-width="1.1" fill="none"/>
<path d="M142.4,1017.7 V1046.3 M134.4,1017.7 H150.4 M134.4,1046.3 H150.4 M223.7,989 V1027.4 M215.7,989 H231.7 M215.7,1027.4 H231.7 M304.9,990.4 V1027.4 M296.9,990.4 H312.9 M296.9,1027.4 H312.9 M386.1,1074.5 V1098.1 M378.1,1074.5 H394.1 M378.1,1098.1 H394.1 M467.4,1084.1 V1110.1 M459.4,1084.1 H475.4 M459.4,1110.1 H475.4 M548.6,1067.6 V1090.4 M540.6,1067.6 H556.6 M540.6,1090.4 H556.6 M629.9,1048 V1086 M621.9,1048 H637.9 M621.9,1086 H637.9 M711.1,1044 V1073.2 M703.1,1044 H719.1 M703.1,1073.2 H719.1 M792.4,1033.5 V1061.5 M784.4,1033.5 H800.4 M784.4,1061.5 H800.4 M873.6,1012.7 V1044.3 M865.6,1012.7 H881.6 M865.6,1044.3 H881.6 M954.9,973.7 V1029.3 M946.9,973.7 H962.9 M946.9,1029.3 H962.9" stroke="#222" stroke-width="1.1" fill="none"/>
<path d="M142.4,1077.8 L145.8,1077.5 L149.2,1077 L152.6,1076.4 L155.9,1075.6 L159.3,1074.6 L162.7,1073.5 L166.1,1072.2 L169.5,1070.8 L172.9,1069.3 L176.3,1067.6 L179.6,1065.8 L183,1063.9 L186.4,1061.9 L189.8,1059.8 L193.2,1057.7 L196.6,1055.4 L200,1053.1 L203.3,1050.7 L206.7,1048.2 L210.1,1045.7 L213.5,1043.2 L216.9,1040.6 L220.3,1038 L223.7,1035.4 L227,1032.8 L230.4,1030.1 L233.8,1027.5 L237.2,1024.8 L240.6,1022.2 L244,1019.6 L247.3,1017.1 L250.7,1014.6 L254.1,1012.1 L257.5,1009.7 L260.9,1007.3 L264.3,1005 L267.7,1002.8 L271,1000.6 L274.4,998.6 L277.8,996.7 L281.2,994.8 L284.6,993.1 L288,991.5 L291.4,990 L294.7,988.7 L298.1,987.5 L301.5,986.4 L304.9,985.5 L308.3,984.8 L311.7,984.2 L315.1,983.8 L318.4,983.5 L321.8,983.5 L325.2,983.5 L328.6,983.8 L332,984.1 L335.4,984.7 L338.8,985.4 L342.1,986.2 L345.5,987.2 L348.9,988.4 L352.3,989.7 L355.7,991.1 L359.1,992.7 L362.5,994.4 L365.8,996.3 L369.2,998.4 L372.6,1000.5 L376,1002.8 L379.4,1005.3 L382.8,1007.9 L386.1,1010.6 L389.5,1013.5 L392.9,1016.4 L396.3,1019.5 L399.7,1022.7 L403.1,1025.9 L406.5,1029.2 L409.8,1032.6 L413.2,1035.9 L416.6,1039.3 L420,1042.6 L423.4,1045.9 L426.8,1049.2 L430.2,1052.4 L433.5,1055.5 L436.9,1058.6 L440.3,1061.5 L443.7,1064.3 L447.1,1066.9 L450.5,1069.4 L453.9,1071.7 L457.2,1073.8 L460.6,1075.7 L464,1077.4 L467.4,1078.8 L470.8,1080 L474.2,1080.9 L477.6,1081.6 L480.9,1082 L484.3,1082.3 L487.7,1082.3 L491.1,1082.1 L494.5,1081.8 L497.9,1081.3 L501.3,1080.6 L504.6,1079.8 L508,1078.9 L511.4,1077.8 L514.8,1076.7 L518.2,1075.4 L521.6,1074.1 L525,1072.6 L528.3,1071.2 L531.7,1069.6 L535.1,1068.1 L538.5,1066.5 L541.9,1064.8 L545.3,1063.2 L548.6,1061.6 L552,1060 L555.4,1058.4 L558.8,1056.9 L562.2,1055.3 L565.6,1053.8 L569,1052.4 L572.3,1050.9 L575.7,1049.5 L579.1,1048.1 L582.5,1046.7 L585.9,1045.3 L589.3,1044 L592.7,1042.7 L596,1041.4 L599.4,1040.2 L602.8,1039 L606.2,1037.9 L609.6,1036.7 L613,1035.6 L616.4,1034.6 L619.7,1033.5 L623.1,1032.6 L626.5,1031.6 L629.9,1030.7 L633.3,1029.8 L636.7,1029 L640.1,1028.2 L643.4,1027.5 L646.8,1026.8 L650.2,1026.1 L653.6,1025.4 L657,1024.9 L660.4,1024.3 L663.8,1023.8 L667.1,1023.3 L670.5,1022.9 L673.9,1022.5 L677.3,1022.1 L680.7,1021.8 L684.1,1021.5 L687.5,1021.2 L690.8,1021 L694.2,1020.8 L697.6,1020.6 L701,1020.5 L704.4,1020.5 L707.8,1020.4 L711.1,1020.4 L714.5,1020.4 L717.9,1020.5 L721.3,1020.6 L724.7,1020.6 L728.1,1020.7 L731.5,1020.8 L734.8,1020.9 L738.2,1021 L741.6,1021 L745,1021.1 L748.4,1021.1 L751.8,1021 L755.2,1020.9 L758.5,1020.8 L761.9,1020.5 L765.3,1020.3 L768.7,1019.9 L772.1,1019.4 L775.5,1018.9 L778.9,1018.3 L782.2,1017.5 L785.6,1016.7 L789,1015.7 L792.4,1014.6 L795.8,1013.4 L799.2,1012 L802.6,1010.5 L805.9,1009 L809.3,1007.3 L812.7,1005.5 L816.1,1003.6 L819.5,1001.6 L822.9,999.6 L826.3,997.4 L829.6,995.2 L833,993 L836.4,990.6 L839.8,988.3 L843.2,985.9 L846.6,983.4 L850,980.9 L853.3,978.4 L856.7,975.9 L860.1,973.4 L863.5,970.9 L866.9,968.3 L870.3,965.8 L873.6,963.3 L877,960.8 L880.4,958.3 L883.8,955.9 L887.2,953.5 L890.6,951.2 L894,948.9 L897.3,946.7 L900.7,944.5 L904.1,942.4 L907.5,940.4 L910.9,938.5 L914.3,936.6 L917.7,934.9 L921,933.3 L924.4,931.7 L927.8,930.3 L931.2,929 L934.6,927.9 L938,926.9 L941.4,926 L944.7,925.2 L948.1,924.7 L951.5,924.2 L954.9,924" stroke="#a8301c" stroke-width="3" fill="none"/>
<circle cx="142.4" cy="1077.8" r="6" fill="#b83a22"/><circle cx="223.7" cy="1035.4" r="6" fill="#b83a22"/><circle cx="304.9" cy="985.5" r="6" fill="#b83a22"/><circle cx="386.1" cy="1010.6" r="6" fill="#b83a22"/><circle cx="467.4" cy="1078.8" r="6" fill="#b83a22"/><circle cx="548.6" cy="1061.6" r="6" fill="#b83a22"/><circle cx="629.9" cy="1030.7" r="6" fill="#b83a22"/><circle cx="711.1" cy="1020.4" r="6" fill="#b83a22"/><circle cx="792.4" cy="1014.6" r="6" fill="#b83a22"/><circle cx="873.6" cy="963.3" r="6" fill="#b83a22"/><circle cx="954.9" cy="924" r="6" fill="#b83a22"/>
<path d="M142.4,1032 L145.8,1032 L149.2,1031.9 L152.6,1031.7 L155.9,1031.3 L159.3,1030.8 L162.7,1030.2 L166.1,1029.4 L169.5,1028.6 L172.9,1027.7 L176.3,1026.6 L179.6,1025.5 L183,1024.4 L186.4,1023.2 L189.8,1021.9 L193.2,1020.6 L196.6,1019.2 L200,1017.8 L203.3,1016.4 L206.7,1015 L210.1,1013.6 L213.5,1012.2 L216.9,1010.9 L220.3,1009.5 L223.7,1008.2 L227,1006.9 L230.4,1005.7 L233.8,1004.5 L237.2,1003.4 L240.6,1002.4 L244,1001.5 L247.3,1000.6 L250.7,999.9 L254.1,999.3 L257.5,998.8 L260.9,998.4 L264.3,998.1 L267.7,998 L271,998.1 L274.4,998.3 L277.8,998.7 L281.2,999.3 L284.6,1000 L288,1000.9 L291.4,1002.1 L294.7,1003.5 L298.1,1005 L301.5,1006.9 L304.9,1008.9 L308.3,1011.2 L311.7,1013.7 L315.1,1016.4 L318.4,1019.3 L321.8,1022.4 L325.2,1025.6 L328.6,1029 L332,1032.5 L335.4,1036 L338.8,1039.6 L342.1,1043.3 L345.5,1047 L348.9,1050.7 L352.3,1054.4 L355.7,1058 L359.1,1061.6 L362.5,1065.2 L365.8,1068.6 L369.2,1072 L372.6,1075.2 L376,1078.2 L379.4,1081.1 L382.8,1083.8 L386.1,1086.3 L389.5,1088.6 L392.9,1090.6 L396.3,1092.4 L399.7,1094.1 L403.1,1095.5 L406.5,1096.7 L409.8,1097.8 L413.2,1098.7 L416.6,1099.4 L420,1100 L423.4,1100.5 L426.8,1100.8 L430.2,1101 L433.5,1101 L436.9,1101 L440.3,1100.8 L443.7,1100.6 L447.1,1100.3 L450.5,1099.9 L453.9,1099.4 L457.2,1098.9 L460.6,1098.3 L464,1097.7 L467.4,1097.1 L470.8,1096.4 L474.2,1095.8 L477.6,1095.1 L480.9,1094.3 L484.3,1093.6 L487.7,1092.8 L491.1,1092.1 L494.5,1091.3 L497.9,1090.5 L501.3,1089.7 L504.6,1088.9 L508,1088.1 L511.4,1087.4 L514.8,1086.6 L518.2,1085.8 L521.6,1085 L525,1084.2 L528.3,1083.4 L531.7,1082.6 L535.1,1081.9 L538.5,1081.1 L541.9,1080.4 L545.3,1079.7 L548.6,1079 L552,1078.3 L555.4,1077.7 L558.8,1077 L562.2,1076.4 L565.6,1075.8 L569,1075.2 L572.3,1074.7 L575.7,1074.1 L579.1,1073.6 L582.5,1073.1 L585.9,1072.6 L589.3,1072.1 L592.7,1071.6 L596,1071.1 L599.4,1070.7 L602.8,1070.2 L606.2,1069.8 L609.6,1069.4 L613,1069 L616.4,1068.6 L619.7,1068.2 L623.1,1067.8 L626.5,1067.4 L629.9,1067 L633.3,1066.6 L636.7,1066.3 L640.1,1065.9 L643.4,1065.5 L646.8,1065.2 L650.2,1064.8 L653.6,1064.5 L657,1064.1 L660.4,1063.8 L663.8,1063.4 L667.1,1063.1 L670.5,1062.8 L673.9,1062.4 L677.3,1062.1 L680.7,1061.7 L684.1,1061.4 L687.5,1061.1 L690.8,1060.7 L694.2,1060.4 L697.6,1060 L701,1059.7 L704.4,1059.3 L707.8,1059 L711.1,1058.6 L714.5,1058.2 L717.9,1057.9 L721.3,1057.5 L724.7,1057.1 L728.1,1056.7 L731.5,1056.3 L734.8,1055.9 L738.2,1055.5 L741.6,1055.1 L745,1054.7 L748.4,1054.2 L751.8,1053.8 L755.2,1053.3 L758.5,1052.9 L761.9,1052.4 L765.3,1051.9 L768.7,1051.4 L772.1,1050.9 L775.5,1050.4 L778.9,1049.8 L782.2,1049.3 L785.6,1048.7 L789,1048.1 L792.4,1047.5 L795.8,1046.9 L799.2,1046.3 L802.6,1045.6 L805.9,1044.9 L809.3,1044.3 L812.7,1043.6 L816.1,1042.9 L819.5,1042.1 L822.9,1041.4 L826.3,1040.6 L829.6,1039.9 L833,1039.1 L836.4,1038.3 L839.8,1037.5 L843.2,1036.6 L846.6,1035.8 L850,1034.9 L853.3,1034 L856.7,1033.2 L860.1,1032.3 L863.5,1031.3 L866.9,1030.4 L870.3,1029.5 L873.6,1028.5 L877,1027.5 L880.4,1026.5 L883.8,1025.5 L887.2,1024.5 L890.6,1023.5 L894,1022.5 L897.3,1021.4 L900.7,1020.3 L904.1,1019.2 L907.5,1018.2 L910.9,1017 L914.3,1015.9 L917.7,1014.8 L921,1013.6 L924.4,1012.5 L927.8,1011.3 L931.2,1010.1 L934.6,1008.9 L938,1007.7 L941.4,1006.5 L944.7,1005.3 L948.1,1004 L951.5,1002.8 L954.9,1001.5" stroke="#000" stroke-width="3.6" fill="none" stroke-dasharray="12 8"/>
<circle cx="142.4" cy="1032" r="5.8" fill="#000"/><circle cx="223.7" cy="1008.2" r="5.8" fill="#000"/><circle cx="304.9" cy="1008.9" r="5.8" fill="#000"/><circle cx="386.1" cy="1086.3" r="5.8" fill="#000"/><circle cx="467.4" cy="1097.1" r="5.8" fill="#000"/><circle cx="548.6" cy="1079" r="5.8" fill="#000"/><circle cx="629.9" cy="1067" r="5.8" fill="#000"/><circle cx="711.1" cy="1058.6" r="5.8" fill="#000"/><circle cx="792.4" cy="1047.5" r="5.8" fill="#000"/><circle cx="873.6" cy="1028.5" r="5.8" fill="#000"/><circle cx="954.9" cy="1001.5" r="5.8" fill="#000"/>
<rect x="441.6" y="881.6" width="51.8" height="261.4" fill="rgb(247,182,5)" fill-opacity="0.4"/>
<rect x="549.5" y="881.6" width="404" height="261.4" fill="rgb(145,105,178)" fill-opacity="0.3"/>
<rect x="101.8" y="881.6" width="894.2" height="261.4" fill="none" stroke="#7a7a7a" stroke-width="1.6"/>
<path d="M142.4,1143 v-9 M142.4,881.6 v9 M223.7,1143 v-9 M223.7,881.6 v9 M304.9,1143 v-9 M304.9,881.6 v9 M386.1,1143 v-9 M386.1,881.6 v9 M467.4,1143 v-9 M467.4,881.6 v9 M548.6,1143 v-9 M548.6,881.6 v9 M629.9,1143 v-9 M629.9,881.6 v9 M711.1,1143 v-9 M711.1,881.6 v9 M792.4,1143 v-9 M792.4,881.6 v9 M873.6,1143 v-9 M873.6,881.6 v9 M954.9,1143 v-9 M954.9,881.6 v9 M101.8,881.6 h9 M996,881.6 h-9 M101.8,1012.3 h9 M996,1012.3 h-9 M101.8,1143 h9 M996,1143 h-9 M101.8,947 h9 M996,947 h-9 M101.8,1077.7 h9 M996,1077.7 h-9" stroke="#7a7a7a" stroke-width="1.4" fill="none"/>
<text x="93.5" y="890.2" font-size="24" text-anchor="end">70</text>
<text x="93.5" y="1020.9" font-size="24" text-anchor="end">50</text>
<text x="93.5" y="1151.6" font-size="24" text-anchor="end">30</text>
<text x="136.4" y="1170" font-size="23" text-anchor="middle">Jan</text>
<text x="217.7" y="1170" font-size="23" text-anchor="middle">Feb</text>
<text x="298.9" y="1170" font-size="23" text-anchor="middle">Mar</text>
<text x="380.1" y="1170" font-size="23" text-anchor="middle">Apr</text>
<text x="461.4" y="1170" font-size="23" text-anchor="middle">May</text>
<text x="542.6" y="1170" font-size="23" text-anchor="middle">Jun</text>
<text x="623.9" y="1170" font-size="23" text-anchor="middle">Jul</text>
<text x="705.1" y="1170" font-size="23" text-anchor="middle">Aug</text>
<text x="786.4" y="1170" font-size="23" text-anchor="middle">Sep</text>
<text x="867.6" y="1170" font-size="23" text-anchor="middle">Oct</text>
<text x="948.9" y="1170" font-size="23" text-anchor="middle">Nov</text>
<text transform="translate(30,1010) rotate(-90)" font-size="24" text-anchor="middle" textLength="96" lengthAdjust="spacingAndGlyphs">[mg·m<tspan dy="-8" font-size="14">-3</tspan><tspan dy="8">]</tspan></text>
<rect x="101.8" y="881.6" width="185" height="44" fill="#fff" stroke="#7a7a7a" stroke-width="1.6"/><path d="M107,894.9 H157" stroke="#c07060" stroke-width="2"/><circle cx="131.4" cy="894.9" r="6" fill="#b83a22"/><path d="M107,914.2 H157" stroke="#aaa" stroke-width="2" stroke-dasharray="3 4"/><circle cx="131.4" cy="914.2" r="5.6" fill="#000"/><text x="160.5" y="899.9" font-size="13.5" textLength="26" lengthAdjust="spacingAndGlyphs">2018</text><text x="160.5" y="919.2" font-size="13.5" textLength="118.5" lengthAdjust="spacingAndGlyphs">Monthly climatology</text>
</g>
<g>
<text x="523.3" y="1239.5" font-size="32" textLength="60.2" lengthAdjust="spacingAndGlyphs">NPP</text>
<path d="M142.4,1423 V1438.6 M134.4,1423 H150.4 M134.4,1438.6 H150.4 M223.7,1349.8 V1418.8 M215.7,1349.8 H231.7 M215.7,1418.8 H231.7 M304.9,1291.8 V1347.2 M296.9,1291.8 H312.9 M296.9,1347.2 H312.9 M386.1,1385.8 V1425 M378.1,1385.8 H394.1 M378.1,1425 H394.1 M467.4,1445.4 V1468.6 M459.4,1445.4 H475.4 M459.4,1468.6 H475.4 M548.6,1438 V1464 M540.6,1438 H556.6 M540.6,1464 H556.6 M629.9,1377.4 V1426.8 M621.9,1377.4 H637.9 M621.9,1426.8 H637.9 M711.1,1361 V1446 M703.1,1361 H719.1 M703.1,1446 H719.1 M792.4,1356.8 V1441.8 M784.4,1356.8 H800.4 M784.4,1441.8 H800.4" stroke="#6a6ad8" stroke-width="1.1" fill="none"/>
<path d="M142.4,1430.8 L145.8,1432.8 L149.2,1434.3 L152.6,1435.4 L155.9,1436 L159.3,1436.2 L162.7,1435.9 L166.1,1435.3 L169.5,1434.3 L172.9,1433 L176.3,1431.3 L179.6,1429.3 L183,1427 L186.4,1424.5 L189.8,1421.7 L193.2,1418.7 L196.6,1415.4 L200,1412 L203.3,1408.4 L206.7,1404.6 L210.1,1400.8 L213.5,1396.8 L216.9,1392.7 L220.3,1388.5 L223.7,1384.3 L227,1380.1 L230.4,1375.8 L233.8,1371.6 L237.2,1367.3 L240.6,1363.2 L244,1359.1 L247.3,1355 L250.7,1351.1 L254.1,1347.4 L257.5,1343.7 L260.9,1340.3 L264.3,1337 L267.7,1333.9 L271,1331.1 L274.4,1328.5 L277.8,1326.1 L281.2,1324.1 L284.6,1322.4 L288,1320.9 L291.4,1319.9 L294.7,1319.2 L298.1,1318.9 L301.5,1319 L304.9,1319.5 L308.3,1320.5 L311.7,1321.8 L315.1,1323.6 L318.4,1325.8 L321.8,1328.2 L325.2,1331 L328.6,1334.1 L332,1337.5 L335.4,1341.1 L338.8,1344.9 L342.1,1348.8 L345.5,1353 L348.9,1357.3 L352.3,1361.6 L355.7,1366.1 L359.1,1370.6 L362.5,1375.1 L365.8,1379.7 L369.2,1384.2 L372.6,1388.6 L376,1393 L379.4,1397.3 L382.8,1401.4 L386.1,1405.4 L389.5,1409.2 L392.9,1412.8 L396.3,1416.3 L399.7,1419.6 L403.1,1422.7 L406.5,1425.7 L409.8,1428.5 L413.2,1431.1 L416.6,1433.6 L420,1436 L423.4,1438.2 L426.8,1440.3 L430.2,1442.3 L433.5,1444.2 L436.9,1445.9 L440.3,1447.5 L443.7,1449 L447.1,1450.4 L450.5,1451.7 L453.9,1453 L457.2,1454.1 L460.6,1455.1 L464,1456.1 L467.4,1457 L470.8,1457.8 L474.2,1458.6 L477.6,1459.2 L480.9,1459.8 L484.3,1460.3 L487.7,1460.8 L491.1,1461.1 L494.5,1461.4 L497.9,1461.5 L501.3,1461.6 L504.6,1461.6 L508,1461.4 L511.4,1461.2 L514.8,1460.8 L518.2,1460.4 L521.6,1459.8 L525,1459.2 L528.3,1458.4 L531.7,1457.5 L535.1,1456.4 L538.5,1455.3 L541.9,1454 L545.3,1452.6 L548.6,1451 L552,1449.3 L555.4,1447.5 L558.8,1445.6 L562.2,1443.6 L565.6,1441.5 L569,1439.3 L572.3,1437.1 L575.7,1434.8 L579.1,1432.5 L582.5,1430.1 L585.9,1427.8 L589.3,1425.4 L592.7,1423.1 L596,1420.8 L599.4,1418.5 L602.8,1416.3 L606.2,1414.2 L609.6,1412.1 L613,1410.1 L616.4,1408.3 L619.7,1406.5 L623.1,1404.9 L626.5,1403.4 L629.9,1402.1 L633.3,1400.9 L636.7,1399.9 L640.1,1399.1 L643.4,1398.4 L646.8,1397.8 L650.2,1397.4 L653.6,1397.1 L657,1396.9 L660.4,1396.8 L663.8,1396.8 L667.1,1396.9 L670.5,1397.1 L673.9,1397.4 L677.3,1397.7 L680.7,1398.2 L684.1,1398.6 L687.5,1399.1 L690.8,1399.7 L694.2,1400.3 L697.6,1400.9 L701,1401.5 L704.4,1402.2 L707.8,1402.8 L711.1,1403.5 L714.5,1404.1 L717.9,1404.8 L721.3,1405.4 L724.7,1405.9 L728.1,1406.5 L731.5,1407 L734.8,1407.4 L738.2,1407.8 L741.6,1408.1 L745,1408.3 L748.4,1408.4 L751.8,1408.5 L755.2,1408.4 L758.5,1408.3 L761.9,1408 L765.3,1407.6 L768.7,1407.1 L772.1,1406.5 L775.5,1405.7 L778.9,1404.7 L782.2,1403.6 L785.6,1402.4 L789,1400.9 L792.4,1399.3" stroke="#1a14d8" stroke-width="3" fill="none"/>
<circle cx="142.4" cy="1430.8" r="6" fill="#1010e8"/><circle cx="223.7" cy="1384.3" r="6" fill="#1010e8"/><circle cx="304.9" cy="1319.5" r="6" fill="#1010e8"/><circle cx="386.1" cy="1405.4" r="6" fill="#1010e8"/><circle cx="467.4" cy="1457" r="6" fill="#1010e8"/><circle cx="548.6" cy="1451" r="6" fill="#1010e8"/><circle cx="629.9" cy="1402.1" r="6" fill="#1010e8"/><circle cx="711.1" cy="1403.5" r="6" fill="#1010e8"/><circle cx="792.4" cy="1399.3" r="6" fill="#1010e8"/>
<rect x="441.6" y="1245.2" width="51.8" height="260.4" fill="rgb(247,182,5)" fill-opacity="0.4"/>
<rect x="549.5" y="1245.2" width="404" height="260.4" fill="rgb(145,105,178)" fill-opacity="0.3"/>
<rect x="549.5" y="1245.2" width="404" height="7.5" fill="rgb(221,224,221)"/>
<rect x="101.8" y="1245.2" width="894.2" height="260.4" fill="none" stroke="#7a7a7a" stroke-width="1.6"/>
<path d="M142.4,1505.6 v-9 M142.4,1245.2 v9 M223.7,1505.6 v-9 M223.7,1245.2 v9 M304.9,1505.6 v-9 M304.9,1245.2 v9 M386.1,1505.6 v-9 M386.1,1245.2 v9 M467.4,1505.6 v-9 M467.4,1245.2 v9 M548.6,1505.6 v-9 M548.6,1245.2 v9 M629.9,1505.6 v-9 M629.9,1245.2 v9 M711.1,1505.6 v-9 M711.1,1245.2 v9 M792.4,1505.6 v-9 M792.4,1245.2 v9 M873.6,1505.6 v-9 M873.6,1245.2 v9 M954.9,1505.6 v-9 M954.9,1245.2 v9 M101.8,1245.2 h9 M996,1245.2 h-9 M101.8,1349.4 h9 M996,1349.4 h-9 M101.8,1453.5 h9 M996,1453.5 h-9 M101.8,1297.3 h9 M996,1297.3 h-9 M101.8,1401.4 h9 M996,1401.4 h-9" stroke="#7a7a7a" stroke-width="1.4" fill="none"/>
<text x="93.5" y="1253.8" font-size="24" text-anchor="end">450</text>
<text x="93.5" y="1358" font-size="24" text-anchor="end">350</text>
<text x="93.5" y="1462.1" font-size="24" text-anchor="end">250</text>
<text x="136.4" y="1532.6" font-size="23" text-anchor="middle">Jan</text>
<text x="217.7" y="1532.6" font-size="23" text-anchor="middle">Feb</text>
<text x="298.9" y="1532.6" font-size="23" text-anchor="middle">Mar</text>
<text x="380.1" y="1532.6" font-size="23" text-anchor="middle">Apr</text>
<text x="461.4" y="1532.6" font-size="23" text-anchor="middle">May</text>
<text x="542.6" y="1532.6" font-size="23" text-anchor="middle">Jun</text>
<text x="623.9" y="1532.6" font-size="23" text-anchor="middle">Jul</text>
<text x="705.1" y="1532.6" font-size="23" text-anchor="middle">Aug</text>
<text x="786.4" y="1532.6" font-size="23" text-anchor="middle">Sep</text>
<text x="867.6" y="1532.6" font-size="23" text-anchor="middle">Oct</text>
<text x="948.9" y="1532.6" font-size="23" text-anchor="middle">Nov</text>
<text transform="translate(30,1376) rotate(-90)" font-size="24" text-anchor="middle" textLength="184" lengthAdjust="spacingAndGlyphs">[mg·C·m<tspan dy="-8" font-size="14">-2</tspan><tspan dy="8">·day</tspan><tspan dy="-8" font-size="14">-1</tspan><tspan dy="8">]</tspan></text>
<rect x="101.8" y="1245.2" width="91.7" height="24.8" fill="#fff" stroke="#7a7a7a" stroke-width="1.6"/><path d="M107,1258.1 H152" stroke="#7070e0" stroke-width="2"/><circle cx="130.7" cy="1258.1" r="6" fill="#1010e8"/><text x="158.5" y="1263.1" font-size="13.5" textLength="26" lengthAdjust="spacingAndGlyphs">2018</text>
</g>
<g id="panelB">
<path d="M1107.3,334.4 H1527 M1107.3,490.9 H1527 M1107.3,694 H1527 M1107.3,897.6 H1527 M1107.3,955.2 H1527 M1107.3,1035.8 H1527 M1107.3,1116.7 H1527 M1107.3,1197.7 H1527 M1107.3,1279 H1527 M1107.3,1359.2 H1527 M1107.3,1440.5 H1527 M1107.3,1520.7 H1527" stroke="#e2e2e2" stroke-width="1.3"/>
<path d="M1245.3,340.7 L1244,447.3 L1270.7,455.3 L1302.7,479.3 L1302.7,522 L1353.3,562 L1412,610 L1440,640 L1455,680 L1470,680 L1473.3,610 L1460,570 L1420,543.3 L1382.7,516.7 L1377.3,463.3 L1348,447.3 L1324,412.7 L1292,394 L1290.7,340.7 Z" fill="rgb(250,222,120)" fill-opacity="0.3" />
<path d="M1512,340 L1526,340 L1524,490 L1526,512 L1516,518 L1473.3,523 L1420,538 L1356,570 L1300,591.3 L1233.3,607.3 L1174.7,618 L1153.3,636.7 L1130,648 L1108,662 L1108,580.7 L1180,562 L1249.3,543.3 L1340,532.7 L1446.7,512 L1490,498 L1506,484 L1510,400 Z" fill="rgb(240,110,130)" fill-opacity="0.28" />
<path d="M1496,470 L1504,472 L1484.7,500 L1446.7,524.7 L1454.7,545 L1420,596.7 L1366.7,620 L1340,663 L1332,698 L1325,740 L1316,780 L1300,780 L1302.7,698 L1308,663.3 L1326.7,623.3 L1334.7,596.7 L1356,564.7 L1401.3,532.7 L1468,505 Z" fill="rgb(140,140,250)" fill-opacity="0.3" />
<path d="M1118,470 L1121.3,490 L1134.7,532.7 L1140,570 L1153.3,596.7 L1162,625 L1176,625 L1174.7,596.7 L1169.3,570 L1156,532.7 L1129.3,490 L1124,470 Z" fill="rgb(120,120,120)" fill-opacity="0.3" />
<path d="M1214,1105 L1223.8,1147.3 L1240,1200 L1258.2,1261.8 L1263.9,1376.4 L1269.6,1520.7 L1382.3,1520.7 L1365.1,1452.7 L1338.4,1376.4 L1304,1261.8 L1277.3,1204.5 L1246.7,1147.3 L1222,1110 Z" fill="rgb(240,110,130)" fill-opacity="0.3" />
<path d="M1112,960 L1118,1000 L1135,1020 L1160,1050 L1200,1090 L1225,1112 L1214,1117 L1190,1100 L1160,1070 L1135,1045 L1114,1015 L1108,960 Z" fill="rgb(240,110,130)" fill-opacity="0.2" />
<path d="M1269,340 L1270.2,343.1 L1270.1,346.2 L1269.3,349.2 L1269.7,352.3 L1269.7,355.4 L1270,358.5 L1270.3,361.5 L1269.2,364.6 L1269.1,367.7 L1270.4,370.8 L1269.8,373.8 L1270.4,376.9 L1269.2,380 L1270.1,383.3 L1270.8,386.6 L1270.2,389.9 L1271.6,393.1 L1271.7,396.4 L1270.5,399.7 L1270.7,403 L1273.5,406.8 L1276.1,410.7 L1277.1,414.5 L1278.4,417.6 L1280.2,420.6 L1281.1,423.6 L1283,426.7 L1284.9,429.8 L1286.5,432.8 L1287.6,435.9 L1289.1,438.9 L1290.6,441.9 L1292.5,445 L1296.8,448.1 L1301,451.2 L1306.9,454.2 L1311,457.3 L1315.7,460.4 L1318.8,463.6 L1323.9,466.8 L1327.5,469.9 L1330.2,473.1 L1334.3,476.3 L1338.8,479.5 L1341.3,483.3 L1344.2,487.1 L1345.9,490.9 L1346.1,494 L1345.5,497 L1344.5,500.1 L1344.5,503.1 L1344.6,506.2 L1346.5,509.3 L1347.8,512.3 L1349.9,515.4 L1350.9,518.4 L1353.2,521.5 L1357.4,524.8 L1360,528 L1362.9,531.3 L1366.8,534.6 L1370.4,537.9 L1373.6,541.1 L1376.4,544.4 L1380.3,547.7 L1384.2,550.9 L1388.5,554.2 L1391.9,557.5 L1395.5,560.8 L1399.5,564 L1402.5,567.3 L1406.4,570.6 L1411.3,573.8 L1415.5,577.1 L1418.7,580.4 L1422.2,583.7 L1425.7,586.9 L1430,590.2 L1433.5,593.5 L1435.9,596.7 L1438.2,600 L1441.4,603.2 L1443.1,606.5 L1446.3,609.7 L1449.7,613 L1450.7,616.1 L1452,619.1 L1453.3,622.2 L1455.2,625.2 L1457.4,628.3 L1457.4,631.4 L1460.2,634.4 L1461.8,637.5 L1463.5,640.5 L1464.8,643.6 L1465.7,646.8 L1466,650 L1466.9,653.1 L1467.4,656.3 L1467.6,659.5 L1469.7,662.7 L1470.1,665.9 L1470.3,669.1 L1471.5,672.2 L1472.3,675.4 L1472.9,678.6 L1473.7,681.8 L1474.4,685 L1475,688.2 L1475.5,691.3 L1475.7,694.5 L1475.5,697.7 L1476.3,700.9 L1476.7,704.1 L1477.8,707.3 L1478.8,710.5 L1479.1,713.6 L1479.6,716.8 L1480.1,720 L1479.5,723 L1480.6,726 L1480.6,729 L1479.9,732.1 L1480,735.1 L1480.3,738.1 L1481.7,741.1 L1481.1,744.1 L1481.2,747.1 L1482.2,750.2 L1482,753.2 L1481.8,756.2 L1482.2,759.2 L1483,762.2 L1482.7,765.2 L1483.1,768.3 L1484.1,771.3 L1483.9,774.3 L1483.9,777.3 L1484.2,780.3 L1483.5,783.4 L1484.2,786.4 L1484.3,789.4 L1484,792.4 L1483.9,795.5 L1485.2,798.5 L1484.6,801.5 L1484.2,804.6 L1484.9,807.6 L1485.3,810.6 L1484,813.6 L1484.1,816.7 L1484.3,819.7 L1485.3,822.7 L1484.5,825.8 L1485.4,828.8 L1485.4,831.8 L1485.2,834.9 L1484.8,837.9 L1486,840.9 L1485.8,843.9 L1485.4,847 L1485,850 L1485.6,853.1 L1485.2,856.3 L1485.5,859.4 L1485.1,862.5 L1485.6,865.7 L1484.7,868.8 L1485.1,871.9 L1486.1,875.1 L1486,878.2 L1485.1,881.3 L1486,884.5 L1485.1,887.6 L1486.1,890.7 L1485.8,893.9 L1485.4,897" stroke="#f2c418" stroke-width="1.4" fill="none" stroke-linejoin="round"/>
<path d="M1485.8,897.2 L1483.3,900.2 L1480.1,903.2 L1477.7,906.2 L1475.8,909.2 L1473.3,912.2 L1470.8,915.2 L1468,918.2 L1465.4,921.5 L1462.6,924.9 L1459.7,928.2 L1456.5,931.5 L1453.8,934.9 L1450.9,938.2 L1448.3,941.6 L1445.7,944.9 L1443.7,948.2 L1441.5,951.6 L1439.5,954.9 L1437.5,958.2 L1435.4,961.6 L1433.4,964.9 L1431.9,968.3 L1429.9,971.6 L1429.9,974.7 L1430.2,977.7 L1429.9,980.8 L1429.9,983.8 L1429.6,986.9 L1429.4,989.9 L1429.6,993 L1429.4,996 L1429.6,999.1 L1430,1002.2 L1429.7,1005.2 L1429.3,1008.3 L1429.8,1011.3 L1429.7,1014.4 L1429.6,1017.4 L1429.7,1020.5 L1429.5,1023.5 L1429.5,1026.6 L1429.1,1029.6 L1429.6,1032.7 L1430,1035.8 L1429.8,1038.8 L1430.7,1041.9 L1431,1044.9 L1431.2,1048 L1431.7,1051 L1432.1,1054.1 L1432.9,1057.1 L1432.9,1060.2 L1433.6,1063.3 L1433.7,1066.3 L1434.5,1069.4 L1434.9,1072.4 L1435,1075.5 L1435.5,1078.5 L1436.2,1081.6 L1436.5,1084.7 L1436.7,1087.7 L1436.9,1090.8 L1437.4,1093.8 L1438.1,1096.9 L1438.1,1099.9 L1439.1,1103 L1439,1106 L1439.9,1109.1 L1439.7,1112.1 L1440.5,1115.1 L1440.5,1118.1 L1440.6,1121.2 L1440.9,1124.2 L1441.2,1127.2 L1441.4,1130.2 L1441.4,1133.2 L1441.6,1136.2 L1442.1,1139.2 L1442.7,1142.2 L1442.7,1145.3 L1442.5,1148.3 L1443.4,1151.3 L1443.5,1154.3 L1443.9,1157.3 L1443.6,1160.3 L1444.3,1163.3 L1444,1166.3 L1444.7,1169.4 L1444.7,1172.4 L1444.9,1175.4 L1445.7,1178.4 L1445.3,1181.4 L1445.9,1184.4 L1446.4,1187.4 L1446.1,1190.5 L1446.4,1193.5 L1447.2,1196.5 L1447,1199.5 L1447.5,1202.5 L1447.2,1205.5 L1447.7,1208.5 L1447.8,1211.5 L1448.5,1214.6 L1448.3,1217.6 L1449.2,1220.6 L1448.7,1223.6 L1449.4,1226.7 L1449,1229.7 L1449.4,1232.8 L1450,1235.8 L1449.6,1238.9 L1449.8,1241.9 L1450.3,1245 L1450.2,1248 L1450.1,1251.1 L1451,1254.2 L1450.5,1257.2 L1450.6,1260.3 L1451,1263.3 L1451.3,1266.4 L1451.6,1269.4 L1451.2,1272.5 L1451.6,1275.6 L1451.5,1278.6 L1451.9,1281.7 L1452.4,1284.7 L1452.5,1287.8 L1452.8,1290.8 L1452.8,1293.9 L1453,1296.9 L1453.1,1300 L1453,1303.1 L1453,1306.1 L1453.5,1309.2 L1453.4,1312.2 L1453.3,1315.3 L1453.8,1318.3 L1454.3,1321.4 L1453.8,1324.4 L1454.3,1327.5 L1454.3,1330.6 L1454.6,1333.6 L1454.4,1336.7 L1455.2,1339.7 L1454.8,1342.8 L1455.3,1345.8 L1455.3,1348.9 L1455.1,1352 L1455.7,1355 L1455.5,1358.1 L1455.6,1361.1 L1455.7,1364.2 L1456,1367.2 L1456.1,1370.3 L1456.7,1373.3 L1456.7,1376.4 L1457.2,1379.4 L1457.2,1382.4 L1457.3,1385.4 L1456.8,1388.4 L1457.1,1391.4 L1457,1394.4 L1457.3,1397.4 L1457.4,1400.5 L1457.7,1403.5 L1457.7,1406.5 L1457.4,1409.5 L1457.6,1412.5 L1457.8,1415.5 L1457.4,1418.5 L1457.5,1421.5 L1457.9,1424.5 L1457.7,1427.5 L1458.3,1430.5 L1458,1433.5 L1458,1436.5 L1458.1,1439.5 L1458.2,1442.5 L1458.3,1445.5 L1458.6,1448.6 L1458.7,1451.6 L1458.6,1454.6 L1459,1457.6 L1458.7,1460.6 L1459.3,1463.6 L1459.4,1466.6 L1459.3,1469.6 L1459.2,1472.6 L1459.3,1475.6 L1459.5,1478.6 L1459.1,1481.6 L1459.5,1484.6 L1459.6,1487.6 L1459.5,1490.6 L1459.5,1493.6 L1460.1,1496.7 L1459.8,1499.7 L1460,1502.7 L1460.4,1505.7 L1460.3,1508.7 L1460.1,1511.7 L1460.7,1514.7 L1460.3,1517.7 L1460.5,1520.7" stroke="#f2c418" stroke-width="1.4" fill="none" stroke-linejoin="round"/>
<path d="M1112.9,340 L1113.2,343.1 L1113.2,346.2 L1113.4,349.2 L1113.5,352.3 L1113.2,355.4 L1113.2,358.5 L1113.8,361.5 L1113.5,364.6 L1113.6,367.7 L1114.1,370.8 L1113.8,373.8 L1114.1,376.9 L1114,380 L1114.2,383.1 L1113.9,386.2 L1114.3,389.2 L1114.5,392.3 L1114.4,395.4 L1114.6,398.5 L1114.6,401.5 L1114.4,404.6 L1114.8,407.7 L1114.8,410.8 L1114.7,413.8 L1114.6,416.9 L1115.2,420 L1115.1,423.3 L1115.3,426.5 L1115.5,429.8 L1115.5,433.1 L1115.8,436.4 L1115.5,439.6 L1115.9,442.9 L1115.8,446.2 L1116.2,449.4 L1116.2,452.7 L1116.4,456.2 L1117,459.6 L1117.6,463.1 L1118.7,466.5 L1119,470 L1120,473.5 L1120.7,477 L1121.8,480.4 L1122.6,483.9 L1123.5,487.4 L1124.6,490.9 L1126,494.1 L1127.6,497.3 L1128.9,500.4 L1130.4,503.6 L1131.8,506.8 L1133.3,510 L1134.9,513.2 L1136.3,516.3 L1138.5,519.5 L1140.3,522.7 L1142.1,525.8 L1143.6,529 L1145.1,532.2 L1146.2,535.3 L1148,538.5 L1149.2,541.7 L1150.5,544.8 L1151.7,548 L1153.4,551.2 L1154.6,554.4 L1155.3,557.6 L1156.8,560.9 L1157.8,564.1 L1158.8,567.3 L1159.7,570.5 L1160.9,573.8 L1161.8,577 L1162.2,580.3 L1163.4,583.5 L1163.9,586.8 L1165.1,590 L1165.7,593.3 L1166.8,596.6 L1167.6,599.9 L1168.1,603.1 L1169.2,606.4 L1169.5,609.7 L1170.1,613 L1171,616 L1171.1,619 L1171.8,622 L1172.4,625 L1173,628 L1173.3,631 L1173.7,634 L1174.7,637 L1174.9,640 L1175.9,643.3 L1176.5,646.6 L1176.8,650 L1177.5,653.3 L1178.1,656.6 L1178.8,660 L1179.4,663.3 L1180,666.6 L1180.4,669.7 L1180.9,672.9 L1181,676 L1181.3,679.2 L1181.8,682.3 L1181.8,685.4 L1182.2,688.6 L1182.9,691.7 L1183,694.9 L1183.3,698 L1183.3,701.2 L1183.9,704.3 L1184.3,707.4 L1184.3,710.6 L1185,713.7 L1185.3,716.9 L1185.3,720 L1185.9,723.1 L1185.9,726.2 L1186.3,729.2 L1186.3,732.3 L1186.6,735.4 L1186.9,738.5 L1186.6,741.5 L1186.8,744.6 L1187.4,747.7 L1187.7,750.8 L1187.5,753.8 L1187.8,756.9 L1188.1,760 L1188.2,763 L1188.5,766.1 L1188.7,769.1 L1189.1,772.1 L1189.5,775.2 L1189.6,778.2 L1189.9,781.2 L1190.4,784.3 L1190.3,787.3 L1190.9,790.3 L1191.3,793.4 L1191.3,796.4 L1191.4,799.6 L1191.8,802.7 L1191.6,805.9 L1191.7,809 L1192,812.2 L1192.3,815.3 L1192,818.5 L1192.3,821.6 L1192.4,824.8 L1192.8,827.9 L1192.7,831.1 L1193.1,834.2 L1192.8,837.4 L1193,840.5 L1193.3,843.7 L1193.6,846.8 L1193.5,850 L1193.4,853.2 L1193.5,856.3 L1193.9,859.5 L1193.8,862.7 L1194.3,865.9 L1194.4,869 L1194.1,872.2 L1194.3,875.4 L1194.7,878.6 L1194.7,881.7 L1194.9,884.9 L1194.8,888.1 L1194.8,891.3 L1195,894.4 L1195.2,897.6" stroke="#3a3a3a" stroke-width="1.5" fill="none" stroke-linejoin="round"/>
<path d="M1195.2,897.6 L1196.5,900.6 L1197.9,903.6 L1199.2,906.6 L1200.5,909.6 L1201.8,912.7 L1203.2,915.7 L1204.5,918.7 L1205.8,921.7 L1207.2,924.7 L1208.5,927.7 L1209.8,930.7 L1211.1,933.7 L1212.5,936.7 L1213.8,939.7 L1215.1,942.8 L1216.4,945.8 L1217.8,948.8 L1219.1,951.8 L1220.4,954.8 L1221.8,957.8 L1223.1,960.8 L1224.4,963.8 L1225.7,966.8 L1227.1,969.8 L1228.4,972.9 L1229.7,975.9 L1231.1,978.9 L1232.4,981.9 L1233.7,984.9 L1235,987.9 L1236.4,990.9 L1237.7,993.9 L1239,996.9 L1240.4,999.9 L1241.7,1003 L1243,1006 L1244.3,1009 L1245.7,1012 L1247,1015 L1248.3,1018 L1249.6,1021 L1251,1024 L1252.3,1027 L1253.6,1030 L1255,1033.1 L1256.3,1036.1 L1257.6,1039.1 L1258.9,1042.1 L1260.3,1045.1 L1261.6,1048.1 L1262.9,1051.1 L1264.3,1054.1 L1265.6,1057.1 L1266.9,1060.1 L1268.2,1063.2 L1269.6,1066.2 L1270.9,1069.2 L1272.2,1072.2 L1273.6,1075.2 L1274.9,1078.2 L1276.2,1081.2 L1277.5,1084.2 L1278.9,1087.2 L1280.2,1090.2 L1281.5,1093.3 L1282.8,1096.3 L1284.2,1099.3 L1285.5,1102.3 L1286.8,1105.3 L1288.2,1108.3 L1289.5,1111.3 L1290.8,1114.3 L1292.1,1117.3 L1293.5,1120.4 L1294.8,1123.4 L1296.1,1126.4 L1297.5,1129.4 L1298.8,1132.4 L1300.1,1135.4 L1301.4,1138.4 L1302.8,1141.4 L1304.1,1144.4 L1305.4,1147.4 L1306.8,1150.5 L1308.1,1153.5 L1309.4,1156.5 L1310.7,1159.5 L1312.1,1162.5 L1313.4,1165.5 L1314.7,1168.5 L1316,1171.5 L1317.4,1174.5 L1318.7,1177.5 L1320,1180.6 L1321.4,1183.6 L1322.7,1186.6 L1324,1189.6 L1325.3,1192.6 L1326.7,1195.6 L1328,1198.6 L1329.3,1201.6 L1330.7,1204.6 L1332,1207.6 L1333.3,1210.7 L1334.6,1213.7 L1336,1216.7 L1337.3,1219.7 L1338.6,1222.7 L1340,1225.7 L1341.3,1228.7 L1342.6,1231.7 L1343.9,1234.7 L1345.3,1237.7 L1346.6,1240.8 L1347.9,1243.8 L1349.3,1246.8 L1350.6,1249.8 L1351.9,1252.8 L1353.2,1255.8 L1354.6,1258.8 L1355.9,1261.8 L1357.2,1264.8 L1358.5,1267.8 L1359.9,1270.9 L1361.2,1273.9 L1362.5,1276.9 L1363.9,1279.9 L1365.2,1282.9 L1366.5,1285.9 L1367.8,1288.9 L1369.2,1291.9 L1370.5,1294.9 L1371.8,1297.9 L1373.2,1301 L1374.5,1304 L1375.8,1307 L1377.1,1310 L1378.5,1313 L1379.8,1316 L1381.1,1319 L1382.5,1322 L1383.8,1325 L1385.1,1328.1 L1386.4,1331.1 L1387.8,1334.1 L1389.1,1337.1 L1390.4,1340.1 L1391.7,1343.1 L1393.1,1346.1 L1394.4,1349.1 L1395.7,1352.1 L1397.1,1355.1 L1398.4,1358.2 L1399.7,1361.2 L1401,1364.2 L1402.4,1367.2 L1403.7,1370.2 L1405,1373.2 L1406.4,1376.2 L1407.7,1379.2 L1409,1382.2 L1410.3,1385.2 L1411.7,1388.3 L1413,1391.3 L1414.3,1394.3 L1415.7,1397.3 L1417,1400.3 L1418.3,1403.3 L1419.6,1406.3 L1421,1409.3 L1422.3,1412.3 L1423.6,1415.3 L1424.9,1418.4 L1426.3,1421.4 L1427.6,1424.4 L1428.9,1427.4 L1430.3,1430.4 L1431.6,1433.4 L1432.9,1436.4 L1434.2,1439.4 L1435.6,1442.4 L1436.9,1445.4 L1438.2,1448.5 L1439.6,1451.5 L1440.9,1454.5 L1442.2,1457.5 L1443.5,1460.5 L1444.9,1463.5 L1446.2,1466.5 L1447.5,1469.5 L1448.9,1472.5 L1450.2,1475.5 L1451.5,1478.6 L1452.8,1481.6 L1454.2,1484.6 L1455.5,1487.6 L1456.8,1490.6 L1458.1,1493.6 L1459.5,1496.6 L1460.8,1499.6 L1462.1,1502.6 L1463.5,1505.6 L1464.8,1508.7 L1466.1,1511.7 L1467.4,1514.7 L1468.8,1517.7 L1470.1,1520.7" stroke="#3a3a3a" stroke-width="1.5" fill="none" stroke-linejoin="round"/>
<path d="M1502.8,340 L1503,343 L1503,346 L1503.2,349 L1502.9,352 L1503.1,355 L1501.7,358 L1502.3,361 L1503.1,364 L1502.6,367 L1502.9,370 L1501.7,373 L1502.2,376 L1501.8,379 L1502.3,382 L1502.3,385 L1501.3,388 L1501.6,391 L1501.7,394 L1502.7,397 L1502.4,400 L1501.4,403.1 L1502.4,406.2 L1501.2,409.4 L1501.9,412.5 L1501.1,415.6 L1500.8,418.7 L1502.2,421.9 L1501,425 L1501,428.1 L1502.2,431.2 L1501.9,434.3 L1500.9,437.5 L1501.9,440.6 L1501.2,443.7 L1501.4,446.8 L1500.6,449.9 L1501.7,453.1 L1501.2,456.2 L1501.6,459.3 L1501.4,462.4 L1500.4,465.6 L1500.4,468.7 L1500.1,471.8 L1499.1,475.1 L1498.1,478.4 L1497.6,481.7 L1497.2,485 L1494.2,490.9 L1492,494.6 L1488.1,498.3 L1484.7,502 L1480.9,506 L1475.8,510 L1466,513.8 L1456.7,517.6 L1451.2,521.3 L1444.3,525 L1440.8,528.9 L1434.2,532.8 L1430.4,536.7 L1427.2,540.5 L1422.6,544.2 L1420.5,548 L1416.8,551.9 L1414.1,555.7 L1410.2,559.6 L1406.4,562.7 L1402.8,565.8 L1400.2,568.8 L1395.2,571.9 L1392.2,575 L1389.5,578 L1386.6,581 L1382.7,584 L1379.8,587 L1376.4,590.6 L1373.1,594.2 L1368.4,597.8 L1365.6,601 L1361.8,604.2 L1358.1,607.4 L1352.9,610.6 L1350.5,613.8 L1345.3,617 L1343.5,620.2 L1341.8,623.4 L1340.1,626.6 L1336.9,629.8 L1335.7,633 L1333.4,636.1 L1331.3,639.3 L1329.6,642.4 L1327.6,645.6 L1325.8,648.7 L1324.2,651.9 L1323.3,655 L1322.4,658.4 L1319.6,661.7 L1318,665 L1318.1,668.4 L1315.9,671.8 L1314.3,675.1 L1312.6,678.4 L1311.8,681.8 L1311,684.8 L1309.3,687.9 L1308.2,690.9 L1306.5,693.9 L1306.8,697 L1304.3,700 L1304.2,703.3 L1303.9,706.7 L1301.9,710 L1302,713.3 L1301.6,716.7 L1300.2,720 L1300,723.1 L1298.4,726.2 L1298.5,729.2 L1297.6,732.3 L1298.2,735.4 L1296.9,738.5 L1296.7,741.5 L1297.1,744.6 L1296.4,747.7 L1296.1,750.8 L1294.8,753.8 L1294.4,756.9 L1294.4,760 L1293.7,763 L1293.1,766.1 L1293,769.1 L1292.3,772.1 L1292.4,775.2 L1293.1,778.2 L1292.8,781.2 L1291.9,784.3 L1291.4,787.3 L1290.9,790.3 L1290.2,793.4 L1290.2,796.4 L1290.8,799.6 L1290.6,802.7 L1289.6,805.9 L1290,809 L1289.7,812.2 L1289.3,815.3 L1289,818.5 L1288.9,821.6 L1287.9,824.8 L1288.2,827.9 L1287.3,831.1 L1287.3,834.2 L1287.5,837.4 L1287.1,840.5 L1286.2,843.7 L1287,846.8 L1286.2,850 L1285.9,853 L1284.7,856.1 L1285.3,859.1 L1284.5,862.2 L1284.9,865.2 L1284.3,868.2 L1284.6,871.3 L1284,874.3 L1284,877.4 L1283,880.4 L1283.2,883.4 L1283.1,886.5 L1283,889.5 L1281.9,892.6 L1281.9,895.6" stroke="#2a2ae0" stroke-width="1.5" fill="none" stroke-linejoin="round"/>
<path d="M1282,897 L1279.3,900.3 L1276.4,903.5 L1273.6,906.8 L1270.7,910 L1268.2,913.3 L1265.4,916.6 L1262.8,919.8 L1259.8,923.1 L1257.3,926.3 L1254.3,929.6 L1250.9,932.8 L1247.3,936 L1243.6,939.1 L1240.1,942.3 L1236.5,945.5 L1232.8,948.6 L1229.3,951.8 L1225.8,955 L1222.4,958.1 L1219.5,961.2 L1216.2,964.4 L1213.1,967.5 L1209.7,970.6 L1206.5,973.7 L1203.6,976.9 L1200.4,980 L1197.1,983.1 L1195,986.1 L1193.2,989.2 L1191.4,992.2 L1189.4,995.3 L1187.7,998.4 L1185.7,1001.4 L1183.6,1004.5 L1181.9,1007.5 L1179.9,1010.6 L1178.2,1013.6 L1177,1016.8 L1175.7,1020.1 L1174.5,1023.3 L1173.4,1026.5 L1172.2,1029.8 L1171.1,1033 L1169.6,1036.2 L1168.5,1039.4 L1167.4,1042.7 L1166.2,1045.9 L1165.1,1049.1 L1163.7,1052.4 L1162.9,1055.6 L1162,1058.7 L1161.1,1061.8 L1160.6,1064.9 L1159.8,1068 L1159,1071.1 L1158.4,1074.2 L1157.6,1077.3 L1156.9,1080.4 L1156.4,1083.6 L1155.7,1086.7 L1154.7,1089.8 L1154.3,1092.9 L1153.2,1096 L1152.7,1099.1 L1152.2,1102.2 L1151.3,1105.3 L1150.7,1108.4 L1150.3,1111.4 L1149.8,1114.5 L1149.2,1117.5 L1149.1,1120.6 L1148.2,1123.6 L1147.9,1126.7 L1147.6,1129.7 L1146.9,1132.8 L1146.7,1135.8 L1145.9,1138.9 L1145.7,1142 L1145.2,1145 L1144.6,1148.1 L1144.3,1151.1 L1143.6,1154.2 L1143.3,1157.2 L1142.8,1160.3 L1142.2,1163.3 L1141.7,1166.4 L1141.5,1169.4 L1141.1,1172.4 L1140.6,1175.4 L1140.6,1178.4 L1140.1,1181.5 L1139.9,1184.5 L1139.7,1187.5 L1139.2,1190.5 L1138.8,1193.5 L1138.5,1196.5 L1138.4,1199.5 L1138,1202.5 L1137.7,1205.5 L1137.5,1208.5 L1137.4,1211.6 L1136.8,1214.6 L1136.6,1217.6 L1136.5,1220.6 L1136,1223.6 L1135.8,1226.7 L1135.7,1229.7 L1135.5,1232.8 L1135.2,1235.8 L1135.2,1238.9 L1135,1241.9 L1135.1,1245 L1134.7,1248 L1134.7,1251.1 L1134.7,1254.2 L1134.5,1257.2 L1134.1,1260.3 L1134.1,1263.3 L1133.8,1266.4 L1133.7,1269.4 L1133.6,1272.5 L1133.5,1275.6 L1133.4,1278.6 L1133,1281.7 L1132.8,1284.7 L1132.8,1287.8 L1132.5,1290.8 L1132.3,1293.9 L1132.5,1296.9 L1132,1300 L1132.2,1303 L1132,1306 L1132.2,1309 L1132.1,1312.1 L1131.7,1315.1 L1131.7,1318.1 L1131.9,1321.1 L1131.7,1324.1 L1131.5,1327.1 L1131.6,1330.2 L1131.5,1333.2 L1131.3,1336.2 L1131.3,1339.2 L1131,1342.2 L1131.1,1345.2 L1130.9,1348.3 L1131,1351.3 L1131,1354.3 L1130.7,1357.3 L1130.8,1360.3 L1130.5,1363.3 L1130.5,1366.3 L1130.6,1369.4 L1130.5,1372.4 L1130.6,1375.4 L1130.4,1378.4 L1130.4,1381.4 L1130.1,1384.4 L1130.3,1387.5 L1129.9,1390.5 L1130,1393.5 L1130.1,1396.5 L1130,1399.5 L1129.9,1402.5 L1129.7,1405.6 L1129.7,1408.6 L1129.7,1411.6 L1129.4,1414.6 L1129.6,1417.6 L1129.6,1420.7 L1129.3,1423.7 L1129.4,1426.7 L1129.2,1429.8 L1129.1,1432.8 L1129.2,1435.8 L1128.9,1438.9 L1129.1,1441.9 L1129.1,1444.9 L1128.8,1447.9 L1129,1451 L1128.6,1454 L1128.9,1457 L1128.6,1460.1 L1128.8,1463.1 L1128.5,1466.1 L1128.7,1469.2 L1128.3,1472.2 L1128.2,1475.2 L1128.5,1478.3 L1128.4,1481.3 L1128.3,1484.3 L1128,1487.4 L1128,1490.4 L1128,1493.4 L1127.9,1496.4 L1128.2,1499.5 L1128,1502.5 L1128.1,1505.5 L1127.9,1508.6 L1127.7,1511.6 L1127.5,1514.6 L1127.7,1517.7 L1127.6,1520.7" stroke="#2a2ae0" stroke-width="1.4" fill="none" stroke-linejoin="round"/>
<path d="M1499.7,340 L1513.4,341 L1514.3,344.1 L1513.4,347.2 L1514.1,350.3 L1513.9,353.4 L1513.4,356.5 L1514.2,359.6 L1513.4,362.7 L1514.1,365.8 L1513.5,368.9 L1513.6,372.1 L1514.2,375.2 L1514.8,378.3 L1513.7,381.4 L1513.9,384.5 L1514.6,387.6 L1515.1,390.7 L1514.6,393.8 L1514.3,396.9 L1515.3,400 L1513.7,403.1 L1514.9,406.1 L1513.9,409.2 L1513.5,412.2 L1513.4,415.3 L1513.6,418.3 L1514.3,421.4 L1513.2,424.5 L1513.8,427.5 L1513.8,430.6 L1513.2,433.6 L1513.4,436.7 L1512.6,439.8 L1512.4,442.8 L1512.6,445.9 L1513.3,448.9 L1512.7,452 L1512.5,455 L1512.8,458.1 L1512.5,461.2 L1512.2,464.2 L1512.9,467.3 L1512.6,470.3 L1511.8,473.4 L1512.2,476.4 L1512,479.5 L1510.7,483.3 L1508.6,487.1 L1506.1,490.9 L1504.4,493.9 L1500.2,497 L1497.9,500 L1494,503.1 L1488.6,506.2 L1475.8,510 L1459.8,513.8 L1445.5,517.7 L1430.4,521.5 L1411,525.3 L1392.4,529.2 L1372.4,533 L1365.4,536 L1357.6,539.1 L1349.9,542.1 L1342.1,545.2 L1335,548.2 L1316.2,554 L1305.9,557.3 L1296.7,560.6 L1286.1,564 L1277.6,567.3 L1264.8,571.1 L1252.6,574.9 L1239.5,578.7 L1226,582.5 L1213.5,586.4 L1201.3,590.2 L1201.2,594.1 L1202.9,598 L1196.5,601.6 L1188.8,604.8 L1181.1,608 L1174.6,611.2 L1160.3,615 L1147.1,618.8 L1144.8,622 L1143,625.2 L1139.1,628.4 L1137.5,631.7 L1135.5,634.9 L1133.9,638.2 L1131.6,641.5 L1129.5,644.8 L1126.3,648 L1124.4,651.3 L1122.4,655.1 L1121.3,659 L1121,662.3 L1119.3,665.5 L1118.9,668.8 L1118.6,672 L1118.1,675.3 L1118.1,678.5 L1117.8,681.8 L1117.2,685 L1116.6,688.2 L1117.2,691.3 L1117,694.5 L1117.1,697.7 L1117.6,700.9 L1117.1,704.1 L1116.7,707.3 L1116.7,710.5 L1116.6,713.6 L1115.5,716.8 L1116.7,720 L1116.5,723.1 L1116.6,726.2 L1116.4,729.2 L1115.8,732.3 L1115.7,735.4 L1115.2,738.5 L1116,741.5 L1115.1,744.6 L1115,747.7 L1115.2,750.8 L1115.1,753.8 L1115.3,756.9 L1114.8,760 L1114.7,763.1 L1114.9,766.2 L1114.8,769.2 L1115.2,772.3 L1114.6,775.4 L1115.9,778.5 L1115.4,781.5 L1114.6,784.6 L1114.8,787.7 L1114.9,790.8 L1114.9,793.8 L1114.4,796.9 L1115.6,800 L1115.8,803 L1114.9,806.1 L1115,809.1 L1114.3,812.1 L1114.4,815.2 L1114.7,818.2 L1114.6,821.2 L1115.5,824.2 L1114.5,827.3 L1114.2,830.3 L1115.7,833.3 L1115,836.4 L1114.4,839.4 L1115.1,842.4 L1114.2,845.5 L1115,848.5 L1115.8,851.5 L1115.6,854.6 L1115.3,857.6 L1114.6,860.6 L1114.8,863.7 L1114.5,866.7 L1115.4,869.7 L1115.1,872.8 L1115.4,875.8 L1114.7,878.8 L1114.6,881.8 L1115.5,884.9 L1115.8,887.9 L1115.6,890.9 L1115.5,894 L1115,897" stroke="#e02030" stroke-width="1.5" fill="none" stroke-linejoin="round"/>
<path d="M1114.5,897 L1115.7,900 L1113.9,903 L1114.9,906 L1113.4,909 L1113.6,912 L1114.9,915 L1113.1,918 L1113.8,921 L1113.3,924 L1113.1,927 L1113,930 L1112.2,933.3 L1113.2,936.6 L1111.5,939.9 L1111.6,943.2 L1110.9,946.5 L1111.2,949.8 L1111.2,953.1 L1112,956.4 L1111.1,959.4 L1110.8,962.5 L1111.3,965.5 L1112.9,968.6 L1111.3,971.6 L1112.6,974.7 L1112.3,977.8 L1113,980.8 L1112.6,983.9 L1113.5,986.9 L1114.2,990.2 L1115.6,993.4 L1117.2,996.7 L1117.6,1000 L1117.8,1003.3 L1118.7,1006.5 L1121.6,1009.8 L1123.7,1012.9 L1126.2,1015.9 L1130.8,1019 L1133.1,1022 L1136.5,1025.1 L1138.3,1028.2 L1138.6,1031.2 L1140.3,1034.3 L1142.8,1037.3 L1142.9,1040.4 L1147.3,1043.6 L1149.2,1046.8 L1153.5,1050 L1156.7,1053.1 L1160.4,1056.3 L1163.4,1059.5 L1165.8,1062.5 L1168.2,1065.6 L1171.2,1068.6 L1175,1071.7 L1178,1074.7 L1179.9,1078 L1184.3,1081.2 L1186.2,1084.5 L1189.3,1087.8 L1191.1,1091.1 L1193.9,1094.3 L1196.1,1097.6 L1199.5,1100.9 L1202.1,1104.1 L1205.1,1107.4 L1207.8,1110.7 L1211.4,1114 L1214.3,1117.2 L1215.6,1120.5 L1218.1,1123.6 L1219.7,1126.6 L1222.8,1129.7 L1225.5,1132.7 L1226.1,1135.8 L1229.3,1138.9 L1230.5,1141.9 L1232,1145 L1235.6,1148 L1236.9,1151.1 L1237.7,1154.4 L1239.4,1157.8 L1240.2,1161.1 L1241.8,1164.4 L1243,1167.8 L1244.2,1171.1 L1245.7,1174.5 L1246.3,1177.8 L1247.4,1180.9 L1248.9,1183.9 L1250.5,1187 L1252.9,1190 L1254.1,1193.1 L1256.5,1196.2 L1257.4,1199.2 L1259.4,1202.3 L1261.4,1205.3 L1261.1,1208.4 L1262.2,1211.5 L1263.6,1214.5 L1265.2,1217.6 L1266.7,1220.6 L1268.2,1223.7 L1268.6,1226.7 L1271,1229.8 L1270.2,1232.8 L1273,1235.9 L1272.9,1238.9 L1274.8,1241.9 L1273.7,1244.9 L1276.1,1247.9 L1276.2,1250.9 L1277.2,1253.9 L1276.9,1256.9 L1276.7,1259.9 L1278.8,1262.9 L1278.3,1265.9 L1278.1,1268.9 L1279.7,1271.9 L1280,1274.9 L1280.5,1277.9 L1280.4,1280.9 L1280.9,1283.9 L1282.5,1286.9 L1282.8,1289.9 L1282.8,1293 L1284,1296 L1285.2,1299 L1285.8,1302 L1285.9,1305 L1286.3,1308 L1286.9,1311.1 L1287.2,1314.1 L1287.8,1317.1 L1288.9,1320.1 L1288.8,1323.1 L1290.6,1326.1 L1291.2,1329.2 L1291.6,1332.2 L1291,1335.2 L1292.3,1338.2 L1293.2,1341.3 L1293.3,1344.3 L1295.8,1347.4 L1296.2,1350.4 L1296.4,1353.5 L1297.6,1356.5 L1297.3,1359.6 L1298.1,1362.6 L1299.5,1365.7 L1300.7,1368.8 L1301.3,1371.8 L1300.7,1374.9 L1302.7,1377.9 L1304.1,1381 L1304.5,1384 L1305.6,1387.1 L1306.5,1390.2 L1305.7,1393.2 L1306.6,1396.3 L1307.9,1399.3 L1309.5,1402.4 L1309.1,1405.4 L1311,1408.5 L1311.5,1411.5 L1311.6,1414.6 L1312.5,1417.7 L1313.7,1420.8 L1314,1424 L1313.6,1427.1 L1315.3,1430.2 L1314.6,1433.3 L1315.6,1436.5 L1317.4,1439.6 L1317.8,1442.7 L1317.3,1445.8 L1317.9,1448.9 L1319.1,1452.1 L1320.2,1455.2 L1320.5,1458.3 L1321.6,1461.4 L1321.8,1464.6 L1322.6,1467.7 L1322.8,1470.8 L1322.9,1473.9 L1323.6,1477.1 L1324.4,1480.2 L1325.1,1483.3 L1325.8,1486.4 L1324.9,1489.5 L1324.6,1492.7 L1326.1,1495.8 L1325.3,1498.9 L1325.8,1502 L1325.3,1505.1 L1326.9,1508.2 L1326,1511.3 L1326.2,1514.5 L1327.4,1517.6 L1326.9,1520.7" stroke="#e02030" stroke-width="1.5" fill="none" stroke-linejoin="round"/>
<path d="M1107.3,328 V1521" stroke="#555" stroke-width="1.8"/>
<path d="M1097.3,902.5 L1111.8,887.3 M1099.5,905 L1114,889.8" stroke="#222" stroke-width="1.3"/>
<text x="1093.5" y="341.6" font-size="20" text-anchor="end">10</text>
<text x="1093.5" y="498.1" font-size="20" text-anchor="end">50</text>
<text x="1093.5" y="701.2" font-size="20" text-anchor="end">100</text>
<text x="1093.5" y="904.8" font-size="20" text-anchor="end">150</text>
<text x="1093.5" y="962.4" font-size="20" text-anchor="end">500</text>
<text x="1093.5" y="1043" font-size="20" text-anchor="end">1000</text>
<text x="1093.5" y="1123.9" font-size="20" text-anchor="end">1500</text>
<text x="1093.5" y="1204.9" font-size="20" text-anchor="end">2000</text>
<text x="1093.5" y="1286.2" font-size="20" text-anchor="end">2500</text>
<text x="1093.5" y="1366.4" font-size="20" text-anchor="end">3000</text>
<text x="1093.5" y="1447.7" font-size="20" text-anchor="end">3500</text>
<text x="1093.5" y="1527.9" font-size="20" text-anchor="end">4000</text>
<text transform="translate(1039,908) rotate(-90)" font-size="22" text-anchor="middle" textLength="100" lengthAdjust="spacingAndGlyphs">Depth (m)</text>
<text x="1205.7" y="137.5" font-size="19" fill="#2a36b0" textLength="220.6" lengthAdjust="spacingAndGlyphs">Temperature [Celsius]</text>
<path d="M1104.4,164 H1524 M1104.4,164 v5 M1174.3,164 v5 M1244.3,164 v5 M1314.2,164 v5 M1384.1,164 v5 M1454.1,164 v5 M1524,164 v5" stroke="#6a6ad6" stroke-width="1.6" fill="none"/>
<text x="1103.9" y="158.5" font-size="15" fill="#2a3aa8" text-anchor="middle">0</text>
<text x="1244.4" y="158.5" font-size="15" fill="#2a3aa8" text-anchor="middle">10</text>
<text x="1382" y="158.5" font-size="15" fill="#2a3aa8" text-anchor="middle">20</text>
<text x="1522.7" y="158.5" font-size="15" fill="#2a3aa8" text-anchor="middle">30</text>
<text x="1222.6" y="193.3" font-size="19" fill="#d82a3a" textLength="187.2" lengthAdjust="spacingAndGlyphs">Oxygen [<tspan font-style="italic">µ</tspan>mol·kg<tspan dy="-7" font-size="11">-1</tspan><tspan dy="7">]</tspan></text>
<path d="M1104.4,219 H1524.5 M1104.4,219 v5 M1146.4,219 v5 M1188.4,219 v5 M1230.4,219 v5 M1272.4,219 v5 M1314.5,219 v5 M1356.5,219 v5 M1398.5,219 v5 M1440.5,219 v5 M1482.5,219 v5 M1524.5,219 v5" stroke="#e07a8a" stroke-width="1.6" fill="none"/>
<text x="1104.2" y="214.5" font-size="15" fill="#d0283a" text-anchor="middle">0</text>
<text x="1188.2" y="214.5" font-size="15" fill="#d0283a" text-anchor="middle">40</text>
<text x="1272.2" y="214.5" font-size="15" fill="#d0283a" text-anchor="middle">80</text>
<text x="1356.2" y="214.5" font-size="15" fill="#d0283a" text-anchor="middle">120</text>
<text x="1440.2" y="214.5" font-size="15" fill="#d0283a" text-anchor="middle">160</text>
<text x="1524.2" y="214.5" font-size="15" fill="#d0283a" text-anchor="middle">200</text>
<text x="1238.4" y="248.6" font-size="20" textLength="154.8" lengthAdjust="spacingAndGlyphs">Density [kg·m<tspan dy="-7" font-size="11">-3</tspan><tspan dy="7">]</tspan></text>
<path d="M1105,274 H1524.3 M1161.8,274 v5 M1234.5,274 v5 M1306.8,274 v5 M1379.1,274 v5 M1451.5,274 v5 M1524,274 v5" stroke="#444" stroke-width="1.6" fill="none"/>
<text x="1161.8" y="268.3" font-size="15.5" text-anchor="middle">1025</text>
<text x="1305.5" y="268.3" font-size="15.5" text-anchor="middle">1035</text>
<text x="1448.8" y="268.3" font-size="15.5" text-anchor="middle">1045</text>
<text x="1249" y="304.7" font-size="19" fill="#e9c21e" textLength="135" lengthAdjust="spacingAndGlyphs">Salinity [PSU]</text>
<path d="M1107,328.4 H1527.3 M1211.8,328.4 v5 M1317.9,328.4 v5 M1424,328.4 v5" stroke="#f2d27a" stroke-width="1.6" fill="none"/>
<text x="1109" y="322" font-size="15" fill="#e9c21e" text-anchor="middle">33</text>
<text x="1211.8" y="322" font-size="15" fill="#e9c21e" text-anchor="middle">33.5</text>
<text x="1317.4" y="322" font-size="15" fill="#e9c21e" text-anchor="middle">34</text>
<text x="1421.2" y="322" font-size="15" fill="#e9c21e" text-anchor="middle">34.5</text>
<text x="1527" y="322" font-size="15" fill="#e9c21e" text-anchor="middle">35</text>
<rect x="1536" y="330.8" width="85" height="1195.2" fill="none" stroke="#666" stroke-width="1.3"/>
<path d="M1536,458.5 H1622 M1536,654.3 H1622 M1536,955.2 H1622 M1536,1125.1 H1622 M1536,1212.2 H1622 M1536,1472.6 H1622" stroke="#555" stroke-width="1.4"/>
<text x="1578" y="403.8" font-size="23" text-anchor="middle">TSW</text>
<text x="1578" y="563.3" font-size="23" text-anchor="middle">TML</text>
<text x="1578" y="811.5" font-size="23" text-anchor="middle">OMZ</text>
<text x="1578" y="1048.7" font-size="23" text-anchor="middle">NPIW</text>
<text x="1578" y="1178.5" font-size="23" text-anchor="middle">DW</text>
<text x="1578" y="1353.3" font-size="23" text-anchor="middle">NPDW</text>
<text x="1578" y="1508.8" font-size="23" text-anchor="middle">LCPW</text>
</g>
<defs>
<clipPath id="mapclip"><rect x="363" y="1618" width="961" height="583"/></clipPath>
<filter id="gb" x="-10%" y="-10%" width="120%" height="120%" color-interpolation-filters="sRGB"><feGaussianBlur stdDeviation="12"/></filter>
<filter id="b10" x="-30%" y="-30%" width="160%" height="160%" color-interpolation-filters="sRGB"><feGaussianBlur stdDeviation="9"/></filter>
<filter id="b5" x="-30%" y="-30%" width="160%" height="160%" color-interpolation-filters="sRGB"><feGaussianBlur stdDeviation="5"/></filter>
<filter id="b3" x="-30%" y="-30%" width="160%" height="160%" color-interpolation-filters="sRGB"><feGaussianBlur stdDeviation="2.5"/></filter>
<linearGradient id="cbar" x1="0" x2="1" y1="0" y2="0"><stop offset="0" stop-color="#800080"/><stop offset="0.08" stop-color="#6010a0"/><stop offset="0.22" stop-color="#1010f0"/><stop offset="0.35" stop-color="#1070ff"/><stop offset="0.45" stop-color="#10d0f0"/><stop offset="0.55" stop-color="#20e040"/><stop offset="0.65" stop-color="#c0e020"/><stop offset="0.72" stop-color="#f0d020"/><stop offset="0.82" stop-color="#f07010"/><stop offset="0.92" stop-color="#e01010"/><stop offset="1" stop-color="#800000"/></linearGradient>
</defs>
<g clip-path="url(#mapclip)">
<g filter="url(#gb)"><rect x="314.4" y="1568.9" width="49" height="49.6" fill="#38b0f0"/><rect x="362.5" y="1568.9" width="49" height="49.6" fill="#38b0f0"/><rect x="410.6" y="1568.9" width="49" height="49.6" fill="#2890f0"/><rect x="458.6" y="1568.9" width="49" height="49.6" fill="#2073f0"/><rect x="506.6" y="1568.9" width="49" height="49.6" fill="#1c68f0"/><rect x="554.7" y="1568.9" width="49" height="49.6" fill="#1a61f0"/><rect x="602.8" y="1568.9" width="49" height="49.6" fill="#1a61f0"/><rect x="650.8" y="1568.9" width="49" height="49.6" fill="#1a64f0"/><rect x="698.8" y="1568.9" width="49" height="49.6" fill="#1a64f0"/><rect x="746.9" y="1568.9" width="49" height="49.6" fill="#1e6cf0"/><rect x="795" y="1568.9" width="49" height="49.6" fill="#2890f0"/><rect x="843" y="1568.9" width="49" height="49.6" fill="#30c0f0"/><rect x="891" y="1568.9" width="49" height="49.6" fill="#40e0a0"/><rect x="939.1" y="1568.9" width="49" height="49.6" fill="#40e050"/><rect x="987.1" y="1568.9" width="49" height="49.6" fill="#40e050"/><rect x="1035.2" y="1568.9" width="49" height="49.6" fill="#40e050"/><rect x="1083.2" y="1568.9" width="49" height="49.6" fill="#40e050"/><rect x="1131.3" y="1568.9" width="49" height="49.6" fill="#40e050"/><rect x="1179.3" y="1568.9" width="49" height="49.6" fill="#40e050"/><rect x="1227.4" y="1568.9" width="49" height="49.6" fill="#40e050"/><rect x="1275.4" y="1568.9" width="49" height="49.6" fill="#40e050"/><rect x="1323.5" y="1568.9" width="49" height="49.6" fill="#40e050"/><rect x="314.4" y="1617.5" width="49" height="49.6" fill="#38b0f0"/><rect x="362.5" y="1617.5" width="49" height="49.6" fill="#38b0f0"/><rect x="410.6" y="1617.5" width="49" height="49.6" fill="#2890f0"/><rect x="458.6" y="1617.5" width="49" height="49.6" fill="#2073f0"/><rect x="506.6" y="1617.5" width="49" height="49.6" fill="#1c68f0"/><rect x="554.7" y="1617.5" width="49" height="49.6" fill="#1a61f0"/><rect x="602.8" y="1617.5" width="49" height="49.6" fill="#1a61f0"/><rect x="650.8" y="1617.5" width="49" height="49.6" fill="#1a64f0"/><rect x="698.8" y="1617.5" width="49" height="49.6" fill="#1a64f0"/><rect x="746.9" y="1617.5" width="49" height="49.6" fill="#1e6cf0"/><rect x="795" y="1617.5" width="49" height="49.6" fill="#2890f0"/><rect x="843" y="1617.5" width="49" height="49.6" fill="#30c0f0"/><rect x="891" y="1617.5" width="49" height="49.6" fill="#40e0a0"/><rect x="939.1" y="1617.5" width="49" height="49.6" fill="#40e050"/><rect x="987.1" y="1617.5" width="49" height="49.6" fill="#40e050"/><rect x="1035.2" y="1617.5" width="49" height="49.6" fill="#40e050"/><rect x="1083.2" y="1617.5" width="49" height="49.6" fill="#40e050"/><rect x="1131.3" y="1617.5" width="49" height="49.6" fill="#40e050"/><rect x="1179.3" y="1617.5" width="49" height="49.6" fill="#40e050"/><rect x="1227.4" y="1617.5" width="49" height="49.6" fill="#40e050"/><rect x="1275.4" y="1617.5" width="49" height="49.6" fill="#40e050"/><rect x="1323.5" y="1617.5" width="49" height="49.6" fill="#40e050"/><rect x="314.4" y="1666.1" width="49" height="49.6" fill="#2073f0"/><rect x="362.5" y="1666.1" width="49" height="49.6" fill="#2073f0"/><rect x="410.6" y="1666.1" width="49" height="49.6" fill="#1c64f0"/><rect x="458.6" y="1666.1" width="49" height="49.6" fill="#1a5dee"/><rect x="506.6" y="1666.1" width="49" height="49.6" fill="#1a5dee"/><rect x="554.7" y="1666.1" width="49" height="49.6" fill="#1a5dee"/><rect x="602.8" y="1666.1" width="49" height="49.6" fill="#1a5dee"/><rect x="650.8" y="1666.1" width="49" height="49.6" fill="#1a5dee"/><rect x="698.8" y="1666.1" width="49" height="49.6" fill="#1a61ee"/><rect x="746.9" y="1666.1" width="49" height="49.6" fill="#1a64f0"/><rect x="795" y="1666.1" width="49" height="49.6" fill="#1a6cf0"/><rect x="843" y="1666.1" width="49" height="49.6" fill="#30b8f0"/><rect x="891" y="1666.1" width="49" height="49.6" fill="#40d8b0"/><rect x="939.1" y="1666.1" width="49" height="49.6" fill="#50e040"/><rect x="987.1" y="1666.1" width="49" height="49.6" fill="#48e040"/><rect x="1035.2" y="1666.1" width="49" height="49.6" fill="#48e040"/><rect x="1083.2" y="1666.1" width="49" height="49.6" fill="#48e040"/><rect x="1131.3" y="1666.1" width="49" height="49.6" fill="#48e040"/><rect x="1179.3" y="1666.1" width="49" height="49.6" fill="#48e040"/><rect x="1227.4" y="1666.1" width="49" height="49.6" fill="#48e040"/><rect x="1275.4" y="1666.1" width="49" height="49.6" fill="#48e040"/><rect x="1323.5" y="1666.1" width="49" height="49.6" fill="#48e040"/><rect x="314.4" y="1714.7" width="49" height="49.6" fill="#226cf0"/><rect x="362.5" y="1714.7" width="49" height="49.6" fill="#226cf0"/><rect x="410.6" y="1714.7" width="49" height="49.6" fill="#206cf0"/><rect x="458.6" y="1714.7" width="49" height="49.6" fill="#2473f0"/><rect x="506.6" y="1714.7" width="49" height="49.6" fill="#2273f0"/><rect x="554.7" y="1714.7" width="49" height="49.6" fill="#1a5dee"/><rect x="602.8" y="1714.7" width="49" height="49.6" fill="#1856ea"/><rect x="650.8" y="1714.7" width="49" height="49.6" fill="#1656ea"/><rect x="698.8" y="1714.7" width="49" height="49.6" fill="#1656ea"/><rect x="746.9" y="1714.7" width="49" height="49.6" fill="#185aea"/><rect x="795" y="1714.7" width="49" height="49.6" fill="#1a61ec"/><rect x="843" y="1714.7" width="49" height="49.6" fill="#185dec"/><rect x="891" y="1714.7" width="49" height="49.6" fill="#30a8f0"/><rect x="939.1" y="1714.7" width="49" height="49.6" fill="#38c8f0"/><rect x="987.1" y="1714.7" width="49" height="49.6" fill="#40e050"/><rect x="1035.2" y="1714.7" width="49" height="49.6" fill="#40e060"/><rect x="1083.2" y="1714.7" width="49" height="49.6" fill="#f0c020"/><rect x="1131.3" y="1714.7" width="49" height="49.6" fill="#f0c020"/><rect x="1179.3" y="1714.7" width="49" height="49.6" fill="#f0c020"/><rect x="1227.4" y="1714.7" width="49" height="49.6" fill="#f0c020"/><rect x="1275.4" y="1714.7" width="49" height="49.6" fill="#f0c020"/><rect x="1323.5" y="1714.7" width="49" height="49.6" fill="#f0c020"/><rect x="314.4" y="1763.2" width="49" height="49.6" fill="#2a90f0"/><rect x="362.5" y="1763.2" width="49" height="49.6" fill="#2a90f0"/><rect x="410.6" y="1763.2" width="49" height="49.6" fill="#2064f0"/><rect x="458.6" y="1763.2" width="49" height="49.6" fill="#206cf0"/><rect x="506.6" y="1763.2" width="49" height="49.6" fill="#226cf0"/><rect x="554.7" y="1763.2" width="49" height="49.6" fill="#1a5dee"/><rect x="602.8" y="1763.2" width="49" height="49.6" fill="#1a5aec"/><rect x="650.8" y="1763.2" width="49" height="49.6" fill="#1856ea"/><rect x="698.8" y="1763.2" width="49" height="49.6" fill="#1656ea"/><rect x="746.9" y="1763.2" width="49" height="49.6" fill="#144fea"/><rect x="795" y="1763.2" width="49" height="49.6" fill="#144fea"/><rect x="843" y="1763.2" width="49" height="49.6" fill="#144fea"/><rect x="891" y="1763.2" width="49" height="49.6" fill="#1a64ee"/><rect x="939.1" y="1763.2" width="49" height="49.6" fill="#2898f0"/><rect x="987.1" y="1763.2" width="49" height="49.6" fill="#30b0f0"/><rect x="1035.2" y="1763.2" width="49" height="49.6" fill="#38c8f0"/><rect x="1083.2" y="1763.2" width="49" height="49.6" fill="#40d8c0"/><rect x="1131.3" y="1763.2" width="49" height="49.6" fill="#50e040"/><rect x="1179.3" y="1763.2" width="49" height="49.6" fill="#e0c020"/><rect x="1227.4" y="1763.2" width="49" height="49.6" fill="#e0c020"/><rect x="1275.4" y="1763.2" width="49" height="49.6" fill="#e0c020"/><rect x="1323.5" y="1763.2" width="49" height="49.6" fill="#e0c020"/><rect x="314.4" y="1811.8" width="49" height="49.6" fill="#1253ee"/><rect x="362.5" y="1811.8" width="49" height="49.6" fill="#1253ee"/><rect x="410.6" y="1811.8" width="49" height="49.6" fill="#1359ee"/><rect x="458.6" y="1811.8" width="49" height="49.6" fill="#135bee"/><rect x="506.6" y="1811.8" width="49" height="49.6" fill="#135bee"/><rect x="554.7" y="1811.8" width="49" height="49.6" fill="#1050ec"/><rect x="602.8" y="1811.8" width="49" height="49.6" fill="#0e43e8"/><rect x="650.8" y="1811.8" width="49" height="49.6" fill="#0c40e8"/><rect x="698.8" y="1811.8" width="49" height="49.6" fill="#0c40e8"/><rect x="746.9" y="1811.8" width="49" height="49.6" fill="#0c40e8"/><rect x="795" y="1811.8" width="49" height="49.6" fill="#0c40e8"/><rect x="843" y="1811.8" width="49" height="49.6" fill="#0e46ea"/><rect x="891" y="1811.8" width="49" height="49.6" fill="#1256ee"/><rect x="939.1" y="1811.8" width="49" height="49.6" fill="#2490f0"/><rect x="987.1" y="1811.8" width="49" height="49.6" fill="#30b0f0"/><rect x="1035.2" y="1811.8" width="49" height="49.6" fill="#38c0f0"/><rect x="1083.2" y="1811.8" width="49" height="49.6" fill="#38c8f0"/><rect x="1131.3" y="1811.8" width="49" height="49.6" fill="#38c8f0"/><rect x="1179.3" y="1811.8" width="49" height="49.6" fill="#40e060"/><rect x="1227.4" y="1811.8" width="49" height="49.6" fill="#40e060"/><rect x="1275.4" y="1811.8" width="49" height="49.6" fill="#40e060"/><rect x="1323.5" y="1811.8" width="49" height="49.6" fill="#40e060"/><rect x="314.4" y="1860.4" width="49" height="49.6" fill="#0f46ea"/><rect x="362.5" y="1860.4" width="49" height="49.6" fill="#0f46ea"/><rect x="410.6" y="1860.4" width="49" height="49.6" fill="#0f4cec"/><rect x="458.6" y="1860.4" width="49" height="49.6" fill="#1253ee"/><rect x="506.6" y="1860.4" width="49" height="49.6" fill="#0f4cec"/><rect x="554.7" y="1860.4" width="49" height="49.6" fill="#0e40e8"/><rect x="602.8" y="1860.4" width="49" height="49.6" fill="#0c39e6"/><rect x="650.8" y="1860.4" width="49" height="49.6" fill="#0c39e6"/><rect x="698.8" y="1860.4" width="49" height="49.6" fill="#0c39e6"/><rect x="746.9" y="1860.4" width="49" height="49.6" fill="#0b39e6"/><rect x="795" y="1860.4" width="49" height="49.6" fill="#0b39e6"/><rect x="843" y="1860.4" width="49" height="49.6" fill="#0e46ea"/><rect x="891" y="1860.4" width="49" height="49.6" fill="#104eec"/><rect x="939.1" y="1860.4" width="49" height="49.6" fill="#166cf0"/><rect x="987.1" y="1860.4" width="49" height="49.6" fill="#30a8f0"/><rect x="1035.2" y="1860.4" width="49" height="49.6" fill="#38c0f0"/><rect x="1083.2" y="1860.4" width="49" height="49.6" fill="#38c8f0"/><rect x="1131.3" y="1860.4" width="49" height="49.6" fill="#38c0f0"/><rect x="1179.3" y="1860.4" width="49" height="49.6" fill="#40d0e0"/><rect x="1227.4" y="1860.4" width="49" height="49.6" fill="#40d890"/><rect x="1275.4" y="1860.4" width="49" height="49.6" fill="#40d890"/><rect x="1323.5" y="1860.4" width="49" height="49.6" fill="#40d890"/><rect x="314.4" y="1909" width="49" height="49.6" fill="#0c40e8"/><rect x="362.5" y="1909" width="49" height="49.6" fill="#0c40e8"/><rect x="410.6" y="1909" width="49" height="49.6" fill="#1250ec"/><rect x="458.6" y="1909" width="49" height="49.6" fill="#0e46e8"/><rect x="506.6" y="1909" width="49" height="49.6" fill="#0e40e8"/><rect x="554.7" y="1909" width="49" height="49.6" fill="#0c39e6"/><rect x="602.8" y="1909" width="49" height="49.6" fill="#0c39e6"/><rect x="650.8" y="1909" width="49" height="49.6" fill="#0c40e8"/><rect x="698.8" y="1909" width="49" height="49.6" fill="#0c40e8"/><rect x="746.9" y="1909" width="49" height="49.6" fill="#0c40e8"/><rect x="795" y="1909" width="49" height="49.6" fill="#124cec"/><rect x="843" y="1909" width="49" height="49.6" fill="#2a90f0"/><rect x="891" y="1909" width="49" height="49.6" fill="#38c0f0"/><rect x="939.1" y="1909" width="49" height="49.6" fill="#40d0e0"/><rect x="987.1" y="1909" width="49" height="49.6" fill="#40d8b0"/><rect x="1035.2" y="1909" width="49" height="49.6" fill="#38c0f0"/><rect x="1083.2" y="1909" width="49" height="49.6" fill="#2a90f0"/><rect x="1131.3" y="1909" width="49" height="49.6" fill="#1c6cf0"/><rect x="1179.3" y="1909" width="49" height="49.6" fill="#30a8f0"/><rect x="1227.4" y="1909" width="49" height="49.6" fill="#40c8e0"/><rect x="1275.4" y="1909" width="49" height="49.6" fill="#40d0c0"/><rect x="1323.5" y="1909" width="49" height="49.6" fill="#40d0c0"/><rect x="314.4" y="1957.6" width="49" height="49.6" fill="#0b39e6"/><rect x="362.5" y="1957.6" width="49" height="49.6" fill="#0b39e6"/><rect x="410.6" y="1957.6" width="49" height="49.6" fill="#0e40e8"/><rect x="458.6" y="1957.6" width="49" height="49.6" fill="#1253ee"/><rect x="506.6" y="1957.6" width="49" height="49.6" fill="#0e40e8"/><rect x="554.7" y="1957.6" width="49" height="49.6" fill="#0c40e8"/><rect x="602.8" y="1957.6" width="49" height="49.6" fill="#0c40e8"/><rect x="650.8" y="1957.6" width="49" height="49.6" fill="#1253ee"/><rect x="698.8" y="1957.6" width="49" height="49.6" fill="#1659f0"/><rect x="746.9" y="1957.6" width="49" height="49.6" fill="#1d6cf0"/><rect x="795" y="1957.6" width="49" height="49.6" fill="#30a0f0"/><rect x="843" y="1957.6" width="49" height="49.6" fill="#48e060"/><rect x="891" y="1957.6" width="49" height="49.6" fill="#40d0d0"/><rect x="939.1" y="1957.6" width="49" height="49.6" fill="#40d8c0"/><rect x="987.1" y="1957.6" width="49" height="49.6" fill="#48e080"/><rect x="1035.2" y="1957.6" width="49" height="49.6" fill="#40d0e0"/><rect x="1083.2" y="1957.6" width="49" height="49.6" fill="#30a8f0"/><rect x="1131.3" y="1957.6" width="49" height="49.6" fill="#2a98f0"/><rect x="1179.3" y="1957.6" width="49" height="49.6" fill="#30b0f0"/><rect x="1227.4" y="1957.6" width="49" height="49.6" fill="#38c0f0"/><rect x="1275.4" y="1957.6" width="49" height="49.6" fill="#40d0d0"/><rect x="1323.5" y="1957.6" width="49" height="49.6" fill="#40d0d0"/><rect x="314.4" y="2006.2" width="49" height="49.6" fill="#0b39e6"/><rect x="362.5" y="2006.2" width="49" height="49.6" fill="#0b39e6"/><rect x="410.6" y="2006.2" width="49" height="49.6" fill="#0c40e8"/><rect x="458.6" y="2006.2" width="49" height="49.6" fill="#0f46ea"/><rect x="506.6" y="2006.2" width="49" height="49.6" fill="#0e40e8"/><rect x="554.7" y="2006.2" width="49" height="49.6" fill="#0e46ea"/><rect x="602.8" y="2006.2" width="49" height="49.6" fill="#1053ec"/><rect x="650.8" y="2006.2" width="49" height="49.6" fill="#1659f0"/><rect x="698.8" y="2006.2" width="49" height="49.6" fill="#1d6cf0"/><rect x="746.9" y="2006.2" width="49" height="49.6" fill="#30a0f0"/><rect x="795" y="2006.2" width="49" height="49.6" fill="#38b8f0"/><rect x="843" y="2006.2" width="49" height="49.6" fill="#40c8e8"/><rect x="891" y="2006.2" width="49" height="49.6" fill="#40d0e0"/><rect x="939.1" y="2006.2" width="49" height="49.6" fill="#40d0e0"/><rect x="987.1" y="2006.2" width="49" height="49.6" fill="#40d8c0"/><rect x="1035.2" y="2006.2" width="49" height="49.6" fill="#40d0e0"/><rect x="1083.2" y="2006.2" width="49" height="49.6" fill="#38c8f0"/><rect x="1131.3" y="2006.2" width="49" height="49.6" fill="#40d8a0"/><rect x="1179.3" y="2006.2" width="49" height="49.6" fill="#48e060"/><rect x="1227.4" y="2006.2" width="49" height="49.6" fill="#48e070"/><rect x="1275.4" y="2006.2" width="49" height="49.6" fill="#48e060"/><rect x="1323.5" y="2006.2" width="49" height="49.6" fill="#48e060"/><rect x="314.4" y="2054.8" width="49" height="49.6" fill="#0b13e0"/><rect x="362.5" y="2054.8" width="49" height="49.6" fill="#0b13e0"/><rect x="410.6" y="2054.8" width="49" height="49.6" fill="#0b13e0"/><rect x="458.6" y="2054.8" width="49" height="49.6" fill="#0b13e0"/><rect x="506.6" y="2054.8" width="49" height="49.6" fill="#0b13e0"/><rect x="554.7" y="2054.8" width="49" height="49.6" fill="#0b13e0"/><rect x="602.8" y="2054.8" width="49" height="49.6" fill="#0b13e0"/><rect x="650.8" y="2054.8" width="49" height="49.6" fill="#0c16e2"/><rect x="698.8" y="2054.8" width="49" height="49.6" fill="#0e19e4"/><rect x="746.9" y="2054.8" width="49" height="49.6" fill="#0e20e8"/><rect x="795" y="2054.8" width="49" height="49.6" fill="#0e26e8"/><rect x="843" y="2054.8" width="49" height="49.6" fill="#1233ec"/><rect x="891" y="2054.8" width="49" height="49.6" fill="#0e20e8"/><rect x="939.1" y="2054.8" width="49" height="49.6" fill="#0b19e4"/><rect x="987.1" y="2054.8" width="49" height="49.6" fill="#0e39e6"/><rect x="1035.2" y="2054.8" width="49" height="49.6" fill="#1253ee"/><rect x="1083.2" y="2054.8" width="49" height="49.6" fill="#1666f0"/><rect x="1131.3" y="2054.8" width="49" height="49.6" fill="#2890f0"/><rect x="1179.3" y="2054.8" width="49" height="49.6" fill="#30b0f0"/><rect x="1227.4" y="2054.8" width="49" height="49.6" fill="#38c8e8"/><rect x="1275.4" y="2054.8" width="49" height="49.6" fill="#40e060"/><rect x="1323.5" y="2054.8" width="49" height="49.6" fill="#40e060"/><rect x="314.4" y="2103.3" width="49" height="49.6" fill="#124cec"/><rect x="362.5" y="2103.3" width="49" height="49.6" fill="#124cec"/><rect x="410.6" y="2103.3" width="49" height="49.6" fill="#0e40e8"/><rect x="458.6" y="2103.3" width="49" height="49.6" fill="#0e40e8"/><rect x="506.6" y="2103.3" width="49" height="49.6" fill="#0e40e8"/><rect x="554.7" y="2103.3" width="49" height="49.6" fill="#0f46ea"/><rect x="602.8" y="2103.3" width="49" height="49.6" fill="#1253ee"/><rect x="650.8" y="2103.3" width="49" height="49.6" fill="#1766f0"/><rect x="698.8" y="2103.3" width="49" height="49.6" fill="#2890f0"/><rect x="746.9" y="2103.3" width="49" height="49.6" fill="#30a0f0"/><rect x="795" y="2103.3" width="49" height="49.6" fill="#30a8f0"/><rect x="843" y="2103.3" width="49" height="49.6" fill="#1659f0"/><rect x="891" y="2103.3" width="49" height="49.6" fill="#1253ee"/><rect x="939.1" y="2103.3" width="49" height="49.6" fill="#1259ee"/><rect x="987.1" y="2103.3" width="49" height="49.6" fill="#1659f0"/><rect x="1035.2" y="2103.3" width="49" height="49.6" fill="#2a90f0"/><rect x="1083.2" y="2103.3" width="49" height="49.6" fill="#2a98f0"/><rect x="1131.3" y="2103.3" width="49" height="49.6" fill="#2890f0"/><rect x="1179.3" y="2103.3" width="49" height="49.6" fill="#1666f0"/><rect x="1227.4" y="2103.3" width="49" height="49.6" fill="#2a90f0"/><rect x="1275.4" y="2103.3" width="49" height="49.6" fill="#30a8f0"/><rect x="1323.5" y="2103.3" width="49" height="49.6" fill="#30a8f0"/><rect x="314.4" y="2151.9" width="49" height="49.6" fill="#38c0f0"/><rect x="362.5" y="2151.9" width="49" height="49.6" fill="#38c0f0"/><rect x="410.6" y="2151.9" width="49" height="49.6" fill="#38c0f0"/><rect x="458.6" y="2151.9" width="49" height="49.6" fill="#38c0f0"/><rect x="506.6" y="2151.9" width="49" height="49.6" fill="#38b8f0"/><rect x="554.7" y="2151.9" width="49" height="49.6" fill="#38b8f0"/><rect x="602.8" y="2151.9" width="49" height="49.6" fill="#30b0f0"/><rect x="650.8" y="2151.9" width="49" height="49.6" fill="#38b8f0"/><rect x="698.8" y="2151.9" width="49" height="49.6" fill="#38c0f0"/><rect x="746.9" y="2151.9" width="49" height="49.6" fill="#38c0f0"/><rect x="795" y="2151.9" width="49" height="49.6" fill="#38c0f0"/><rect x="843" y="2151.9" width="49" height="49.6" fill="#38c0f0"/><rect x="891" y="2151.9" width="49" height="49.6" fill="#38c0f0"/><rect x="939.1" y="2151.9" width="49" height="49.6" fill="#38c0f0"/><rect x="987.1" y="2151.9" width="49" height="49.6" fill="#38c0f0"/><rect x="1035.2" y="2151.9" width="49" height="49.6" fill="#38c8f0"/><rect x="1083.2" y="2151.9" width="49" height="49.6" fill="#38c8f0"/><rect x="1131.3" y="2151.9" width="49" height="49.6" fill="#38c0f0"/><rect x="1179.3" y="2151.9" width="49" height="49.6" fill="#40d0f0"/><rect x="1227.4" y="2151.9" width="49" height="49.6" fill="#40d8d0"/><rect x="1275.4" y="2151.9" width="49" height="49.6" fill="#40d8e0"/><rect x="1323.5" y="2151.9" width="49" height="49.6" fill="#40d8e0"/><rect x="314.4" y="2200.5" width="49" height="49.6" fill="#38c0f0"/><rect x="362.5" y="2200.5" width="49" height="49.6" fill="#38c0f0"/><rect x="410.6" y="2200.5" width="49" height="49.6" fill="#38c0f0"/><rect x="458.6" y="2200.5" width="49" height="49.6" fill="#38c0f0"/><rect x="506.6" y="2200.5" width="49" height="49.6" fill="#38b8f0"/><rect x="554.7" y="2200.5" width="49" height="49.6" fill="#38b8f0"/><rect x="602.8" y="2200.5" width="49" height="49.6" fill="#30b0f0"/><rect x="650.8" y="2200.5" width="49" height="49.6" fill="#38b8f0"/><rect x="698.8" y="2200.5" width="49" height="49.6" fill="#38c0f0"/><rect x="746.9" y="2200.5" width="49" height="49.6" fill="#38c0f0"/><rect x="795" y="2200.5" width="49" height="49.6" fill="#38c0f0"/><rect x="843" y="2200.5" width="49" height="49.6" fill="#38c0f0"/><rect x="891" y="2200.5" width="49" height="49.6" fill="#38c0f0"/><rect x="939.1" y="2200.5" width="49" height="49.6" fill="#38c0f0"/><rect x="987.1" y="2200.5" width="49" height="49.6" fill="#38c0f0"/><rect x="1035.2" y="2200.5" width="49" height="49.6" fill="#38c8f0"/><rect x="1083.2" y="2200.5" width="49" height="49.6" fill="#38c8f0"/><rect x="1131.3" y="2200.5" width="49" height="49.6" fill="#38c0f0"/><rect x="1179.3" y="2200.5" width="49" height="49.6" fill="#40d0f0"/><rect x="1227.4" y="2200.5" width="49" height="49.6" fill="#40d8d0"/><rect x="1275.4" y="2200.5" width="49" height="49.6" fill="#40d8e0"/><rect x="1323.5" y="2200.5" width="49" height="49.6" fill="#40d8e0"/></g>
<g filter="url(#b10)" fill="#3aa0f2" fill-opacity="0.35">
<ellipse cx="460" cy="1990" rx="30" ry="20"/>
<ellipse cx="560" cy="1965" rx="26" ry="16"/>
<ellipse cx="640" cy="1950" rx="22" ry="13"/>
<ellipse cx="700" cy="1935" rx="16" ry="11"/>
</g>
<g filter="url(#b5)" fill="#40b0f2" fill-opacity="0.6">
<ellipse cx="539" cy="1741" rx="22" ry="12"/>
<ellipse cx="578" cy="1756" rx="12" ry="7"/>
<ellipse cx="389" cy="1772" rx="22" ry="14"/>
<ellipse cx="476" cy="1747" rx="18" ry="8"/>
<ellipse cx="480" cy="1784" rx="12" ry="7"/>
<ellipse cx="549" cy="1792" rx="12" ry="6"/>
<ellipse cx="472" cy="1870" rx="22" ry="10"/>
<ellipse cx="430" cy="1813" rx="20" ry="8"/>
<ellipse cx="420" cy="1640" rx="40" ry="14"/>
<ellipse cx="380" cy="1630" rx="25" ry="12"/>
</g>
<g filter="url(#b5)">
<path d="M875,1605 L945,1605 L953,1640 L968,1660.5 L985.5,1681 L994.4,1696 L1018,1702 L1036,1711 L1046.7,1720 L1053.3,1733.3 L1064,1749.3 L1070.7,1760 L1077.3,1769.3 L1090.7,1780 L1085,1790 L1070,1800 L1055,1795 L1045,1780 L1030,1762 L1010,1742 L990,1724 L960,1708 L930,1692 L912,1668 L898,1640 Z" fill="#46e040" fill-opacity="0.95" />
<path d="M1170,1828 L1184,1834.7 L1193.3,1837.3 L1206.7,1846.7 L1216,1856 L1226.7,1866.7 L1232,1876 L1236,1886.7 L1238.7,1900 L1240,1907 L1260,1925 L1290,1940 L1330,1957 L1330,1975 L1290,1962 L1255,1945 L1228,1925 L1220,1905 L1212,1885 L1195,1865 L1175,1850 Z" fill="#46e050" fill-opacity="0.9" />
</g>
<g filter="url(#b5)" fill="#48f030">
<ellipse cx="868" cy="1975" rx="28" ry="13"/>
<ellipse cx="1026" cy="1945" rx="9" ry="14" fill-opacity="0.7"/>
<ellipse cx="1040" cy="1995" rx="12" ry="22" fill-opacity="0.6"/>
<ellipse cx="1220" cy="2020" rx="38" ry="14" fill-opacity="0.8"/>
<ellipse cx="1300" cy="2045" rx="28" ry="25" fill-opacity="0.8"/>
</g>
<g filter="url(#b3)">
<path d="M1085.3,1737.3 L1086.7,1736 L1100,1742.7 L1112,1746.7 L1114.7,1754.7 L1120,1764 L1126.7,1778.7 L1136,1786.7 L1144,1792 L1152,1797.3 L1156,1805.3 L1168,1813.3 L1172,1821.3 L1174.7,1829.3 L1184,1834.7 L1193.3,1837.3 L1206.7,1846.7 L1200,1860 L1170,1862 L1160,1846.7 L1156,1842.7 L1149.3,1837.3 L1144,1830.7 L1137.3,1821.3 L1133.3,1810.7 L1125.3,1802.7 L1118.7,1792 L1112,1784 L1101.3,1773.3 L1090.7,1764 L1086,1753.3 Z" fill="#58e030" fill-opacity="1.0" />
<path d="M1085.3,1737.3 L1086.7,1736 L1100,1742.7 L1112,1746.7 L1114.7,1754.7 L1120,1764 L1126.7,1778.7 L1136,1786.7 L1144,1794 L1130,1800 L1118.7,1792 L1112,1784 L1101.3,1773.3 L1090.7,1764 L1086,1753.3 Z" fill="#f6c820" fill-opacity="1.0" />
<path d="M1112,1775 L1126.7,1778.7 L1136,1786.7 L1146,1795 L1138,1803 L1125.3,1802.7 L1116,1790 Z" fill="#f4a020" fill-opacity="0.9" />
</g>
<path d="M585,1621h3v1.5h-3zM562.5,1625.5h1.5v1.5h-1.5zM582,1627h1.5v1.5h-1.5zM589.5,1630h1.5v1.5h-1.5zM585,1631.5h6v1.5h-6zM609,1631.5h1.5v1.5h-1.5zM616.5,1631.5h1.5v1.5h-1.5zM585,1633h4.5v1.5h-4.5zM606,1633h4.5v1.5h-4.5zM585,1634.5h1.5v1.5h-1.5zM607.5,1634.5h1.5v1.5h-1.5zM655.5,1634.5h1.5v1.5h-1.5zM585,1636h1.5v1.5h-1.5zM595.5,1640.5h1.5v1.5h-1.5zM582,1642h1.5v1.5h-1.5zM568.5,1643.5h1.5v1.5h-1.5zM588,1643.5h1.5v1.5h-1.5zM568.5,1645h1.5v1.5h-1.5zM577.5,1649.5h3v1.5h-3zM598.5,1649.5h1.5v1.5h-1.5zM579,1651h1.5v1.5h-1.5zM595.5,1651h4.5v1.5h-4.5zM570,1652.5h1.5v1.5h-1.5zM580.5,1652.5h1.5v1.5h-1.5zM582,1654h1.5v1.5h-1.5zM603,1657h1.5v1.5h-1.5zM598.5,1661.5h1.5v1.5h-1.5zM619.5,1661.5h1.5v1.5h-1.5zM598.5,1663h1.5v1.5h-1.5zM604.5,1663h3v1.5h-3zM619.5,1663h3v1.5h-3zM604.5,1664.5h1.5v1.5h-1.5zM619.5,1664.5h3v1.5h-3zM621,1666h3v1.5h-3zM627,1666h1.5v1.5h-1.5zM627,1667.5h3v1.5h-3zM654,1667.5h3v1.5h-3zM556.5,1669h1.5v1.5h-1.5zM654,1669h1.5v1.5h-1.5zM606,1672h3v1.5h-3zM606,1673.5h1.5v1.5h-1.5zM619.5,1673.5h1.5v1.5h-1.5zM570,1675h1.5v1.5h-1.5zM564,1676.5h3v1.5h-3zM570,1676.5h3v1.5h-3zM603,1676.5h3v1.5h-3zM645,1676.5h3v1.5h-3zM571.5,1678h1.5v1.5h-1.5zM592.5,1678h1.5v1.5h-1.5zM592.5,1679.5h3v1.5h-3zM594,1681h1.5v1.5h-1.5zM630,1681h3v1.5h-3zM594,1682.5h1.5v1.5h-1.5zM631.5,1682.5h1.5v1.5h-1.5zM589.5,1690h3v1.5h-3zM609,1702h3v1.5h-3zM559.5,1703.5h1.5v1.5h-1.5zM610.5,1703.5h1.5v1.5h-1.5zM619.5,1721.5h1.5v1.5h-1.5zM580.5,1724.5h3v1.5h-3zM579,1726h4.5v1.5h-4.5zM603,1726h1.5v1.5h-1.5zM580.5,1727.5h1.5v1.5h-1.5zM1155,1922.5h3v1.5h-3zM1168.5,1922.5h1.5v1.5h-1.5zM1156.5,1924h3v1.5h-3zM898.5,1927h1.5v1.5h-1.5zM927,1927h1.5v1.5h-1.5zM898.5,1928.5h1.5v1.5h-1.5zM927,1928.5h1.5v1.5h-1.5zM963,1930h1.5v1.5h-1.5zM1084.5,1930h1.5v1.5h-1.5zM1084.5,1931.5h3v1.5h-3zM1056,1933h1.5v1.5h-1.5zM1159.5,1933h1.5v1.5h-1.5zM1098,1934.5h1.5v1.5h-1.5zM924,1936h1.5v1.5h-1.5zM1096.5,1936h4.5v1.5h-4.5zM924,1937.5h1.5v1.5h-1.5zM1048.5,1937.5h1.5v1.5h-1.5zM1099.5,1937.5h3v1.5h-3zM949.5,1939h1.5v1.5h-1.5zM949.5,1940.5h1.5v1.5h-1.5zM1063.5,1940.5h3v1.5h-3zM1063.5,1942h4.5v1.5h-4.5zM1065,1943.5h3v1.5h-3zM1141.5,1945h3v1.5h-3zM910.5,1946.5h1.5v1.5h-1.5zM1072.5,1946.5h3v1.5h-3zM1116,1946.5h4.5v1.5h-4.5zM910.5,1948h1.5v1.5h-1.5zM970.5,1948h4.5v1.5h-4.5zM1072.5,1948h3v1.5h-3zM1110,1948h3v1.5h-3zM1116,1948h4.5v1.5h-4.5zM1158,1948h3v1.5h-3zM955.5,1949.5h3v1.5h-3zM970.5,1949.5h4.5v1.5h-4.5zM1158,1949.5h1.5v1.5h-1.5zM957,1951h3v1.5h-3zM970.5,1951h4.5v1.5h-4.5zM1068,1951h1.5v1.5h-1.5zM1123.5,1951h3v1.5h-3zM937.5,1952.5h3v1.5h-3zM957,1952.5h1.5v1.5h-1.5zM979.5,1952.5h3v1.5h-3zM1066.5,1952.5h3v1.5h-3zM1125,1952.5h1.5v1.5h-1.5zM1150.5,1952.5h1.5v1.5h-1.5zM946.5,1954h1.5v1.5h-1.5zM1062,1954h1.5v1.5h-1.5zM1117.5,1954h4.5v1.5h-4.5zM1147.5,1954h1.5v1.5h-1.5zM1150.5,1954h3v1.5h-3zM1062,1955.5h1.5v1.5h-1.5zM1117.5,1955.5h4.5v1.5h-4.5zM1152,1955.5h1.5v1.5h-1.5zM967.5,1957h1.5v1.5h-1.5zM1090.5,1957h1.5v1.5h-1.5zM1117.5,1957h6v1.5h-6zM1117.5,1958.5h6v1.5h-6zM1162.5,1958.5h1.5v1.5h-1.5zM1083,1960h1.5v1.5h-1.5zM1119,1960h7.5v1.5h-7.5zM1146,1960h1.5v1.5h-1.5zM1066.5,1961.5h1.5v1.5h-1.5zM1083,1961.5h3v1.5h-3zM1120.5,1961.5h9v1.5h-9zM943.5,1963h3v1.5h-3zM952.5,1963h6v1.5h-6zM1036.5,1963h1.5v1.5h-1.5zM1083,1963h3v1.5h-3zM1119,1963h1.5v1.5h-1.5zM1125,1963h4.5v1.5h-4.5zM1158,1963h1.5v1.5h-1.5zM900,1964.5h1.5v1.5h-1.5zM943.5,1964.5h1.5v1.5h-1.5zM954,1964.5h4.5v1.5h-4.5zM1084.5,1964.5h1.5v1.5h-1.5zM1156.5,1964.5h3v1.5h-3zM1167,1964.5h1.5v1.5h-1.5zM900,1966h1.5v1.5h-1.5zM1050,1966h1.5v1.5h-1.5zM1084.5,1966h1.5v1.5h-1.5zM919.5,1967.5h1.5v1.5h-1.5zM1048.5,1967.5h1.5v1.5h-1.5zM1093.5,1967.5h1.5v1.5h-1.5zM901.5,1969h1.5v1.5h-1.5zM1093.5,1969h1.5v1.5h-1.5zM1128,1969h1.5v1.5h-1.5zM1177.5,1969h1.5v1.5h-1.5zM1176,1970.5h3v1.5h-3zM729,1972h1.5v1.5h-1.5zM1185,1972h1.5v1.5h-1.5zM849,1973.5h1.5v1.5h-1.5zM930,1973.5h3v1.5h-3zM990,1973.5h1.5v1.5h-1.5zM1158,1973.5h1.5v1.5h-1.5zM931.5,1975h1.5v1.5h-1.5zM691.5,1976.5h1.5v1.5h-1.5zM1068,1976.5h1.5v1.5h-1.5zM1320,1976.5h1.5v1.5h-1.5zM930,1978h1.5v1.5h-1.5zM952.5,1978h1.5v1.5h-1.5zM1062,1978h1.5v1.5h-1.5zM1066.5,1978h1.5v1.5h-1.5zM1084.5,1978h1.5v1.5h-1.5zM1170,1978h1.5v1.5h-1.5zM801,1979.5h3v1.5h-3zM928.5,1979.5h3v1.5h-3zM952.5,1979.5h1.5v1.5h-1.5zM1090.5,1979.5h3v1.5h-3zM1290,1979.5h1.5v1.5h-1.5zM762,1981h1.5v1.5h-1.5zM772.5,1981h1.5v1.5h-1.5zM787.5,1981h1.5v1.5h-1.5zM801,1981h4.5v1.5h-4.5zM831,1981h1.5v1.5h-1.5zM927,1981h3v1.5h-3zM1071,1981h3v1.5h-3zM1090.5,1981h4.5v1.5h-4.5zM1114.5,1981h3v1.5h-3zM1315.5,1981h3v1.5h-3zM762,1982.5h6v1.5h-6zM786,1982.5h3v1.5h-3zM831,1982.5h1.5v1.5h-1.5zM1090.5,1982.5h3v1.5h-3zM1101,1982.5h1.5v1.5h-1.5zM1315.5,1982.5h1.5v1.5h-1.5zM727.5,1984h3v1.5h-3zM762,1984h4.5v1.5h-4.5zM792,1984h3v1.5h-3zM831,1984h1.5v1.5h-1.5zM960,1984h1.5v1.5h-1.5zM1024.5,1984h1.5v1.5h-1.5zM1032,1984h1.5v1.5h-1.5zM1185,1984h1.5v1.5h-1.5zM1305,1984h3v1.5h-3zM762,1985.5h1.5v1.5h-1.5zM811.5,1985.5h1.5v1.5h-1.5zM861,1985.5h1.5v1.5h-1.5zM1033.5,1985.5h1.5v1.5h-1.5zM1284,1985.5h3v1.5h-3zM762,1987h1.5v1.5h-1.5zM768,1987h1.5v1.5h-1.5zM774,1987h1.5v1.5h-1.5zM780,1987h1.5v1.5h-1.5zM814.5,1987h3v1.5h-3zM837,1987h3v1.5h-3zM865.5,1987h3v1.5h-3zM876,1987h1.5v1.5h-1.5zM1033.5,1987h1.5v1.5h-1.5zM1282.5,1987h4.5v1.5h-4.5zM748.5,1988.5h3v1.5h-3zM754.5,1988.5h1.5v1.5h-1.5zM762,1988.5h3v1.5h-3zM769.5,1988.5h9v1.5h-9zM780,1988.5h3v1.5h-3zM814.5,1988.5h1.5v1.5h-1.5zM837,1988.5h1.5v1.5h-1.5zM844.5,1988.5h3v1.5h-3zM865.5,1988.5h1.5v1.5h-1.5zM870,1988.5h1.5v1.5h-1.5zM909,1988.5h1.5v1.5h-1.5zM1005,1988.5h1.5v1.5h-1.5zM1024.5,1988.5h4.5v1.5h-4.5zM1122,1988.5h3v1.5h-3zM1281,1988.5h1.5v1.5h-1.5zM733.5,1990h1.5v1.5h-1.5zM750,1990h1.5v1.5h-1.5zM762,1990h1.5v1.5h-1.5zM769.5,1990h9v1.5h-9zM783,1990h1.5v1.5h-1.5zM796.5,1990h1.5v1.5h-1.5zM846,1990h1.5v1.5h-1.5zM870,1990h3v1.5h-3zM1024.5,1990h3v1.5h-3zM1078.5,1990h3v1.5h-3zM1123.5,1990h3v1.5h-3zM1288.5,1990h1.5v1.5h-1.5zM702,1991.5h3v1.5h-3zM733.5,1991.5h3v1.5h-3zM741,1991.5h4.5v1.5h-4.5zM762,1991.5h1.5v1.5h-1.5zM769.5,1991.5h9v1.5h-9zM783,1991.5h3v1.5h-3zM798,1991.5h1.5v1.5h-1.5zM828,1991.5h1.5v1.5h-1.5zM873,1991.5h1.5v1.5h-1.5zM894,1991.5h4.5v1.5h-4.5zM1080,1991.5h3v1.5h-3zM1119,1991.5h1.5v1.5h-1.5zM1123.5,1991.5h6v1.5h-6zM1294.5,1991.5h1.5v1.5h-1.5zM702,1993h3v1.5h-3zM741,1993h6v1.5h-6zM771,1993h6v1.5h-6zM787.5,1993h3v1.5h-3zM798,1993h3v1.5h-3zM823.5,1993h1.5v1.5h-1.5zM847.5,1993h3v1.5h-3zM894,1993h4.5v1.5h-4.5zM1081.5,1993h3v1.5h-3zM1117.5,1993h3v1.5h-3zM1126.5,1993h1.5v1.5h-1.5zM1137,1993h1.5v1.5h-1.5zM1294.5,1993h1.5v1.5h-1.5zM702,1994.5h3v1.5h-3zM712.5,1994.5h3v1.5h-3zM741,1994.5h6v1.5h-6zM762,1994.5h1.5v1.5h-1.5zM771,1994.5h3v1.5h-3zM798,1994.5h3v1.5h-3zM823.5,1994.5h1.5v1.5h-1.5zM834,1994.5h1.5v1.5h-1.5zM846,1994.5h6v1.5h-6zM1083,1994.5h1.5v1.5h-1.5zM1113,1994.5h1.5v1.5h-1.5zM1135.5,1994.5h3v1.5h-3zM1279.5,1994.5h1.5v1.5h-1.5zM1297.5,1994.5h3v1.5h-3zM702,1996h3v1.5h-3zM711,1996h6v1.5h-6zM745.5,1996h4.5v1.5h-4.5zM760.5,1996h4.5v1.5h-4.5zM771,1996h1.5v1.5h-1.5zM778.5,1996h1.5v1.5h-1.5zM793.5,1996h4.5v1.5h-4.5zM811.5,1996h6v1.5h-6zM828,1996h1.5v1.5h-1.5zM846,1996h4.5v1.5h-4.5zM1015.5,1996h3v1.5h-3zM1048.5,1996h1.5v1.5h-1.5zM1071,1996h3v1.5h-3zM1135.5,1996h3v1.5h-3zM1141.5,1996h3v1.5h-3zM1282.5,1996h3v1.5h-3zM1297.5,1996h3v1.5h-3zM706.5,1997.5h1.5v1.5h-1.5zM715.5,1997.5h4.5v1.5h-4.5zM735,1997.5h1.5v1.5h-1.5zM741,1997.5h1.5v1.5h-1.5zM747,1997.5h1.5v1.5h-1.5zM757.5,1997.5h4.5v1.5h-4.5zM771,1997.5h3v1.5h-3zM778.5,1997.5h1.5v1.5h-1.5zM793.5,1997.5h3v1.5h-3zM811.5,1997.5h4.5v1.5h-4.5zM826.5,1997.5h1.5v1.5h-1.5zM831,1997.5h1.5v1.5h-1.5zM843,1997.5h3v1.5h-3zM877.5,1997.5h3v1.5h-3zM1017,1997.5h1.5v1.5h-1.5zM1071,1997.5h3v1.5h-3zM1096.5,1997.5h1.5v1.5h-1.5zM1125,1997.5h1.5v1.5h-1.5zM1177.5,1997.5h1.5v1.5h-1.5zM1183.5,1997.5h1.5v1.5h-1.5zM1282.5,1997.5h3v1.5h-3zM1297.5,1997.5h4.5v1.5h-4.5zM700.5,1999h3v1.5h-3zM717,1999h1.5v1.5h-1.5zM735,1999h1.5v1.5h-1.5zM741,1999h3v1.5h-3zM772.5,1999h6v1.5h-6zM792,1999h3v1.5h-3zM811.5,1999h3v1.5h-3zM826.5,1999h1.5v1.5h-1.5zM837,1999h1.5v1.5h-1.5zM841.5,1999h4.5v1.5h-4.5zM850.5,1999h1.5v1.5h-1.5zM877.5,1999h4.5v1.5h-4.5zM1096.5,1999h3v1.5h-3zM1110,1999h1.5v1.5h-1.5zM1125,1999h1.5v1.5h-1.5zM1174.5,1999h1.5v1.5h-1.5zM1182,1999h4.5v1.5h-4.5zM1299,1999h3v1.5h-3zM702,2000.5h3v1.5h-3zM733.5,2000.5h3v1.5h-3zM774,2000.5h4.5v1.5h-4.5zM792,2000.5h3v1.5h-3zM805.5,2000.5h1.5v1.5h-1.5zM820.5,2000.5h1.5v1.5h-1.5zM826.5,2000.5h1.5v1.5h-1.5zM832.5,2000.5h6v1.5h-6zM850.5,2000.5h1.5v1.5h-1.5zM868.5,2000.5h1.5v1.5h-1.5zM879,2000.5h1.5v1.5h-1.5zM1111.5,2000.5h3v1.5h-3zM1119,2000.5h3v1.5h-3zM1150.5,2000.5h1.5v1.5h-1.5zM1182,2000.5h3v1.5h-3zM703.5,2002h1.5v1.5h-1.5zM733.5,2002h1.5v1.5h-1.5zM772.5,2002h4.5v1.5h-4.5zM792,2002h3v1.5h-3zM802.5,2002h4.5v1.5h-4.5zM817.5,2002h6v1.5h-6zM832.5,2002h1.5v1.5h-1.5zM849,2002h1.5v1.5h-1.5zM937.5,2002h3v1.5h-3zM1054.5,2002h1.5v1.5h-1.5zM1098,2002h3v1.5h-3zM1119,2002h4.5v1.5h-4.5zM1144.5,2002h1.5v1.5h-1.5zM772.5,2003.5h1.5v1.5h-1.5zM790.5,2003.5h3v1.5h-3zM802.5,2003.5h4.5v1.5h-4.5zM817.5,2003.5h6v1.5h-6zM829.5,2003.5h4.5v1.5h-4.5zM847.5,2003.5h4.5v1.5h-4.5zM937.5,2003.5h3v1.5h-3zM1054.5,2003.5h1.5v1.5h-1.5zM1098,2003.5h4.5v1.5h-4.5zM1119,2003.5h4.5v1.5h-4.5zM1281,2003.5h3v1.5h-3zM1306.5,2003.5h1.5v1.5h-1.5zM750,2005h1.5v1.5h-1.5zM780,2005h7.5v1.5h-7.5zM793.5,2005h1.5v1.5h-1.5zM819,2005h3v1.5h-3zM828,2005h4.5v1.5h-4.5zM847.5,2005h4.5v1.5h-4.5zM879,2005h1.5v1.5h-1.5zM937.5,2005h3v1.5h-3zM1098,2005h4.5v1.5h-4.5zM1120.5,2005h1.5v1.5h-1.5zM1281,2005h4.5v1.5h-4.5zM1303.5,2005h4.5v1.5h-4.5zM1315.5,2005h3v1.5h-3zM705,2006.5h1.5v1.5h-1.5zM750,2006.5h3v1.5h-3zM763.5,2006.5h3v1.5h-3zM780,2006.5h7.5v1.5h-7.5zM795,2006.5h1.5v1.5h-1.5zM810,2006.5h3v1.5h-3zM820.5,2006.5h3v1.5h-3zM828,2006.5h4.5v1.5h-4.5zM861,2006.5h4.5v1.5h-4.5zM877.5,2006.5h3v1.5h-3zM910.5,2006.5h1.5v1.5h-1.5zM1089,2006.5h1.5v1.5h-1.5zM1098,2006.5h6v1.5h-6zM1123.5,2006.5h1.5v1.5h-1.5zM1281,2006.5h4.5v1.5h-4.5zM1303.5,2006.5h1.5v1.5h-1.5zM1314,2006.5h3v1.5h-3zM703.5,2008h3v1.5h-3zM744,2008h3v1.5h-3zM750,2008h3v1.5h-3zM763.5,2008h3v1.5h-3zM774,2008h1.5v1.5h-1.5zM780,2008h3v1.5h-3zM810,2008h1.5v1.5h-1.5zM820.5,2008h10.5v1.5h-10.5zM846,2008h1.5v1.5h-1.5zM861,2008h1.5v1.5h-1.5zM933,2008h4.5v1.5h-4.5zM1021.5,2008h4.5v1.5h-4.5zM1090.5,2008h1.5v1.5h-1.5zM1098,2008h9v1.5h-9zM1122,2008h1.5v1.5h-1.5zM1282.5,2008h3v1.5h-3zM715.5,2009.5h1.5v1.5h-1.5zM742.5,2009.5h3v1.5h-3zM751.5,2009.5h4.5v1.5h-4.5zM765,2009.5h1.5v1.5h-1.5zM774,2009.5h1.5v1.5h-1.5zM822,2009.5h4.5v1.5h-4.5zM865.5,2009.5h6v1.5h-6zM933,2009.5h4.5v1.5h-4.5zM1023,2009.5h1.5v1.5h-1.5zM1090.5,2009.5h1.5v1.5h-1.5zM1098,2009.5h6v1.5h-6zM1117.5,2009.5h1.5v1.5h-1.5zM1120.5,2009.5h3v1.5h-3zM1143,2009.5h3v1.5h-3zM1285.5,2009.5h1.5v1.5h-1.5zM687,2011h1.5v1.5h-1.5zM711,2011h6v1.5h-6zM735,2011h3v1.5h-3zM741,2011h6v1.5h-6zM787.5,2011h3v1.5h-3zM804,2011h3v1.5h-3zM822,2011h4.5v1.5h-4.5zM850.5,2011h6v1.5h-6zM865.5,2011h4.5v1.5h-4.5zM1048.5,2011h1.5v1.5h-1.5zM1120.5,2011h3v1.5h-3zM1141.5,2011h6v1.5h-6zM1285.5,2011h1.5v1.5h-1.5zM1294.5,2011h3v1.5h-3zM708,2012.5h7.5v1.5h-7.5zM733.5,2012.5h4.5v1.5h-4.5zM741,2012.5h6v1.5h-6zM766.5,2012.5h6v1.5h-6zM777,2012.5h1.5v1.5h-1.5zM787.5,2012.5h3v1.5h-3zM798,2012.5h3v1.5h-3zM804,2012.5h1.5v1.5h-1.5zM825,2012.5h1.5v1.5h-1.5zM850.5,2012.5h1.5v1.5h-1.5zM865.5,2012.5h3v1.5h-3zM1141.5,2012.5h4.5v1.5h-4.5zM1165.5,2012.5h1.5v1.5h-1.5zM1294.5,2012.5h1.5v1.5h-1.5zM667.5,2014h1.5v1.5h-1.5zM678,2014h1.5v1.5h-1.5zM733.5,2014h3v1.5h-3zM742.5,2014h3v1.5h-3zM769.5,2014h3v1.5h-3zM777,2014h1.5v1.5h-1.5zM784.5,2014h1.5v1.5h-1.5zM796.5,2014h3v1.5h-3zM811.5,2014h3v1.5h-3zM816,2014h3v1.5h-3zM837,2014h3v1.5h-3zM843,2014h3v1.5h-3zM1005,2014h3v1.5h-3zM1074,2014h3v1.5h-3zM1102.5,2014h1.5v1.5h-1.5zM1165.5,2014h1.5v1.5h-1.5zM1291.5,2014h4.5v1.5h-4.5zM754.5,2015.5h1.5v1.5h-1.5zM796.5,2015.5h3v1.5h-3zM810,2015.5h7.5v1.5h-7.5zM834,2015.5h6v1.5h-6zM844.5,2015.5h1.5v1.5h-1.5zM1005,2015.5h3v1.5h-3zM1075.5,2015.5h1.5v1.5h-1.5zM1102.5,2015.5h3v1.5h-3zM1165.5,2015.5h1.5v1.5h-1.5zM1177.5,2015.5h1.5v1.5h-1.5zM1291.5,2015.5h4.5v1.5h-4.5zM1321.5,2015.5h3v1.5h-3zM750,2017h6v1.5h-6zM759,2017h1.5v1.5h-1.5zM789,2017h3v1.5h-3zM796.5,2017h3v1.5h-3zM810,2017h6v1.5h-6zM832.5,2017h7.5v1.5h-7.5zM846,2017h4.5v1.5h-4.5zM874.5,2017h1.5v1.5h-1.5zM921,2017h4.5v1.5h-4.5zM1044,2017h4.5v1.5h-4.5zM1177.5,2017h1.5v1.5h-1.5zM1182,2017h1.5v1.5h-1.5zM1294.5,2017h1.5v1.5h-1.5zM1323,2017h1.5v1.5h-1.5zM697.5,2018.5h3v1.5h-3zM750,2018.5h12v1.5h-12zM765,2018.5h4.5v1.5h-4.5zM789,2018.5h3v1.5h-3zM796.5,2018.5h3v1.5h-3zM802.5,2018.5h1.5v1.5h-1.5zM811.5,2018.5h4.5v1.5h-4.5zM826.5,2018.5h1.5v1.5h-1.5zM832.5,2018.5h9v1.5h-9zM846,2018.5h4.5v1.5h-4.5zM874.5,2018.5h1.5v1.5h-1.5zM921,2018.5h3v1.5h-3zM1182,2018.5h3v1.5h-3zM1276.5,2018.5h1.5v1.5h-1.5zM1294.5,2018.5h1.5v1.5h-1.5zM1305,2018.5h1.5v1.5h-1.5zM696,2020h3v1.5h-3zM754.5,2020h1.5v1.5h-1.5zM757.5,2020h4.5v1.5h-4.5zM765,2020h3v1.5h-3zM786,2020h4.5v1.5h-4.5zM796.5,2020h1.5v1.5h-1.5zM801,2020h3v1.5h-3zM816,2020h1.5v1.5h-1.5zM832.5,2020h4.5v1.5h-4.5zM838.5,2020h3v1.5h-3zM846,2020h4.5v1.5h-4.5zM873,2020h4.5v1.5h-4.5zM921,2020h1.5v1.5h-1.5zM1059,2020h1.5v1.5h-1.5zM1099.5,2020h1.5v1.5h-1.5zM660,2021.5h3v1.5h-3zM684,2021.5h1.5v1.5h-1.5zM709.5,2021.5h4.5v1.5h-4.5zM730.5,2021.5h1.5v1.5h-1.5zM744,2021.5h1.5v1.5h-1.5zM757.5,2021.5h4.5v1.5h-4.5zM786,2021.5h3v1.5h-3zM816,2021.5h1.5v1.5h-1.5zM873,2021.5h6v1.5h-6zM901.5,2021.5h3v1.5h-3zM1050,2021.5h1.5v1.5h-1.5zM1149,2021.5h1.5v1.5h-1.5zM1314,2021.5h1.5v1.5h-1.5zM660,2023h1.5v1.5h-1.5zM681,2023h4.5v1.5h-4.5zM729,2023h4.5v1.5h-4.5zM757.5,2023h3v1.5h-3zM771,2023h4.5v1.5h-4.5zM784.5,2023h3v1.5h-3zM790.5,2023h3v1.5h-3zM811.5,2023h7.5v1.5h-7.5zM873,2023h6v1.5h-6zM904.5,2023h1.5v1.5h-1.5zM925.5,2023h3v1.5h-3zM1084.5,2023h1.5v1.5h-1.5zM681,2024.5h1.5v1.5h-1.5zM729,2024.5h3v1.5h-3zM738,2024.5h4.5v1.5h-4.5zM757.5,2024.5h4.5v1.5h-4.5zM771,2024.5h4.5v1.5h-4.5zM790.5,2024.5h7.5v1.5h-7.5zM816,2024.5h3v1.5h-3zM843,2024.5h1.5v1.5h-1.5zM850.5,2024.5h1.5v1.5h-1.5zM873,2024.5h6v1.5h-6zM904.5,2024.5h1.5v1.5h-1.5zM1083,2024.5h3v1.5h-3zM1114.5,2024.5h1.5v1.5h-1.5zM666,2026h1.5v1.5h-1.5zM729,2026h3v1.5h-3zM738,2026h4.5v1.5h-4.5zM747,2026h3v1.5h-3zM757.5,2026h4.5v1.5h-4.5zM771,2026h4.5v1.5h-4.5zM790.5,2026h3v1.5h-3zM841.5,2026h1.5v1.5h-1.5zM1045.5,2026h1.5v1.5h-1.5zM1081.5,2026h6v1.5h-6zM1122,2026h3v1.5h-3zM666,2027.5h1.5v1.5h-1.5zM699,2027.5h1.5v1.5h-1.5zM714,2027.5h1.5v1.5h-1.5zM748.5,2027.5h3v1.5h-3zM757.5,2027.5h4.5v1.5h-4.5zM765,2027.5h6v1.5h-6zM772.5,2027.5h4.5v1.5h-4.5zM790.5,2027.5h1.5v1.5h-1.5zM810,2027.5h1.5v1.5h-1.5zM832.5,2027.5h3v1.5h-3zM841.5,2027.5h1.5v1.5h-1.5zM889.5,2027.5h3v1.5h-3zM984,2027.5h1.5v1.5h-1.5zM1044,2027.5h4.5v1.5h-4.5zM1066.5,2027.5h1.5v1.5h-1.5zM1083,2027.5h6v1.5h-6zM1102.5,2027.5h3v1.5h-3zM1120.5,2027.5h4.5v1.5h-4.5zM1288.5,2027.5h4.5v1.5h-4.5zM666,2029h1.5v1.5h-1.5zM721.5,2029h1.5v1.5h-1.5zM741,2029h3v1.5h-3zM748.5,2029h6v1.5h-6zM757.5,2029h4.5v1.5h-4.5zM766.5,2029h3v1.5h-3zM772.5,2029h9v1.5h-9zM807,2029h3v1.5h-3zM826.5,2029h3v1.5h-3zM834,2029h1.5v1.5h-1.5zM838.5,2029h3v1.5h-3zM888,2029h3v1.5h-3zM982.5,2029h3v1.5h-3zM1045.5,2029h1.5v1.5h-1.5zM1084.5,2029h4.5v1.5h-4.5zM1095,2029h1.5v1.5h-1.5zM1102.5,2029h1.5v1.5h-1.5zM1290,2029h3v1.5h-3zM1296,2029h4.5v1.5h-4.5zM517.5,2030.5h1.5v1.5h-1.5zM663,2030.5h1.5v1.5h-1.5zM675,2030.5h3v1.5h-3zM726,2030.5h1.5v1.5h-1.5zM739.5,2030.5h6v1.5h-6zM748.5,2030.5h1.5v1.5h-1.5zM772.5,2030.5h10.5v1.5h-10.5zM807,2030.5h3v1.5h-3zM826.5,2030.5h3v1.5h-3zM838.5,2030.5h3v1.5h-3zM888,2030.5h1.5v1.5h-1.5zM898.5,2030.5h3v1.5h-3zM927,2030.5h1.5v1.5h-1.5zM1045.5,2030.5h1.5v1.5h-1.5zM1050,2030.5h1.5v1.5h-1.5zM1096.5,2030.5h1.5v1.5h-1.5zM1134,2030.5h3v1.5h-3zM1185,2030.5h3v1.5h-3zM1285.5,2030.5h3v1.5h-3zM1296,2030.5h1.5v1.5h-1.5zM1323,2030.5h1.5v1.5h-1.5zM555,2032h1.5v1.5h-1.5zM627,2032h1.5v1.5h-1.5zM663,2032h3v1.5h-3zM675,2032h1.5v1.5h-1.5zM739.5,2032h10.5v1.5h-10.5zM774,2032h3v1.5h-3zM783,2032h1.5v1.5h-1.5zM801,2032h1.5v1.5h-1.5zM807,2032h1.5v1.5h-1.5zM813,2032h6v1.5h-6zM820.5,2032h3v1.5h-3zM838.5,2032h1.5v1.5h-1.5zM883.5,2032h7.5v1.5h-7.5zM898.5,2032h3v1.5h-3zM927,2032h3v1.5h-3zM979.5,2032h1.5v1.5h-1.5zM1030.5,2032h1.5v1.5h-1.5zM1044,2032h3v1.5h-3zM1087.5,2032h4.5v1.5h-4.5zM1098,2032h1.5v1.5h-1.5zM1134,2032h3v1.5h-3zM1185,2032h3v1.5h-3zM1219.5,2032h3v1.5h-3zM1285.5,2032h4.5v1.5h-4.5zM1296,2032h1.5v1.5h-1.5zM627,2033.5h3v1.5h-3zM664.5,2033.5h3v1.5h-3zM706.5,2033.5h3v1.5h-3zM726,2033.5h1.5v1.5h-1.5zM738,2033.5h3v1.5h-3zM744,2033.5h3v1.5h-3zM759,2033.5h6v1.5h-6zM772.5,2033.5h4.5v1.5h-4.5zM799.5,2033.5h18v1.5h-18zM820.5,2033.5h4.5v1.5h-4.5zM838.5,2033.5h3v1.5h-3zM882,2033.5h9v1.5h-9zM916.5,2033.5h1.5v1.5h-1.5zM922.5,2033.5h3v1.5h-3zM927,2033.5h3v1.5h-3zM1042.5,2033.5h4.5v1.5h-4.5zM1077,2033.5h1.5v1.5h-1.5zM1087.5,2033.5h4.5v1.5h-4.5zM1098,2033.5h3v1.5h-3zM1117.5,2033.5h3v1.5h-3zM1122,2033.5h3v1.5h-3zM1152,2033.5h3v1.5h-3zM1167,2033.5h1.5v1.5h-1.5zM1288.5,2033.5h3v1.5h-3zM444,2035h1.5v1.5h-1.5zM562.5,2035h7.5v1.5h-7.5zM706.5,2035h1.5v1.5h-1.5zM718.5,2035h1.5v1.5h-1.5zM726,2035h1.5v1.5h-1.5zM738,2035h3v1.5h-3zM777,2035h1.5v1.5h-1.5zM799.5,2035h7.5v1.5h-7.5zM810,2035h6v1.5h-6zM822,2035h3v1.5h-3zM828,2035h1.5v1.5h-1.5zM880.5,2035h4.5v1.5h-4.5zM910.5,2035h3v1.5h-3zM916.5,2035h3v1.5h-3zM922.5,2035h3v1.5h-3zM1071,2035h1.5v1.5h-1.5zM1087.5,2035h4.5v1.5h-4.5zM1096.5,2035h1.5v1.5h-1.5zM1116,2035h4.5v1.5h-4.5zM1122,2035h3v1.5h-3zM1150.5,2035h9v1.5h-9zM1288.5,2035h3v1.5h-3zM1320,2035h3v1.5h-3zM444,2036.5h1.5v1.5h-1.5zM463.5,2036.5h3v1.5h-3zM564,2036.5h6v1.5h-6zM600,2036.5h1.5v1.5h-1.5zM660,2036.5h1.5v1.5h-1.5zM718.5,2036.5h1.5v1.5h-1.5zM738,2036.5h3v1.5h-3zM750,2036.5h1.5v1.5h-1.5zM754.5,2036.5h3v1.5h-3zM777,2036.5h3v1.5h-3zM799.5,2036.5h1.5v1.5h-1.5zM804,2036.5h3v1.5h-3zM811.5,2036.5h4.5v1.5h-4.5zM822,2036.5h3v1.5h-3zM828,2036.5h1.5v1.5h-1.5zM855,2036.5h3v1.5h-3zM880.5,2036.5h3v1.5h-3zM907.5,2036.5h7.5v1.5h-7.5zM916.5,2036.5h1.5v1.5h-1.5zM933,2036.5h3v1.5h-3zM939,2036.5h3v1.5h-3zM1018.5,2036.5h4.5v1.5h-4.5zM1071,2036.5h1.5v1.5h-1.5zM1087.5,2036.5h3v1.5h-3zM1105.5,2036.5h3v1.5h-3zM1110,2036.5h1.5v1.5h-1.5zM1113,2036.5h4.5v1.5h-4.5zM1146,2036.5h12v1.5h-12zM1173,2036.5h1.5v1.5h-1.5zM1185,2036.5h3v1.5h-3zM1290,2036.5h1.5v1.5h-1.5zM1320,2036.5h3v1.5h-3zM463.5,2038h3v1.5h-3zM550.5,2038h3v1.5h-3zM564,2038h4.5v1.5h-4.5zM598.5,2038h3v1.5h-3zM612,2038h1.5v1.5h-1.5zM660,2038h1.5v1.5h-1.5zM681,2038h1.5v1.5h-1.5zM697.5,2038h1.5v1.5h-1.5zM724.5,2038h1.5v1.5h-1.5zM730.5,2038h1.5v1.5h-1.5zM739.5,2038h3v1.5h-3zM748.5,2038h3v1.5h-3zM754.5,2038h1.5v1.5h-1.5zM768,2038h1.5v1.5h-1.5zM790.5,2038h4.5v1.5h-4.5zM798,2038h3v1.5h-3zM802.5,2038h3v1.5h-3zM813,2038h1.5v1.5h-1.5zM822,2038h1.5v1.5h-1.5zM843,2038h1.5v1.5h-1.5zM856.5,2038h1.5v1.5h-1.5zM907.5,2038h3v1.5h-3zM912,2038h1.5v1.5h-1.5zM916.5,2038h1.5v1.5h-1.5zM933,2038h6v1.5h-6zM976.5,2038h3v1.5h-3zM1018.5,2038h4.5v1.5h-4.5zM1078.5,2038h1.5v1.5h-1.5zM1083,2038h7.5v1.5h-7.5zM1096.5,2038h1.5v1.5h-1.5zM1105.5,2038h3v1.5h-3zM1111.5,2038h4.5v1.5h-4.5zM1147.5,2038h9v1.5h-9zM1173,2038h3v1.5h-3zM1185,2038h1.5v1.5h-1.5zM1203,2038h3v1.5h-3zM1246.5,2038h3v1.5h-3zM1303.5,2038h4.5v1.5h-4.5zM534,2039.5h1.5v1.5h-1.5zM549,2039.5h4.5v1.5h-4.5zM564,2039.5h3v1.5h-3zM592.5,2039.5h1.5v1.5h-1.5zM619.5,2039.5h3v1.5h-3zM637.5,2039.5h1.5v1.5h-1.5zM673.5,2039.5h1.5v1.5h-1.5zM685.5,2039.5h3v1.5h-3zM724.5,2039.5h1.5v1.5h-1.5zM732,2039.5h1.5v1.5h-1.5zM738,2039.5h3v1.5h-3zM750,2039.5h1.5v1.5h-1.5zM756,2039.5h1.5v1.5h-1.5zM763.5,2039.5h1.5v1.5h-1.5zM768,2039.5h3v1.5h-3zM792,2039.5h1.5v1.5h-1.5zM798,2039.5h3v1.5h-3zM802.5,2039.5h3v1.5h-3zM810,2039.5h1.5v1.5h-1.5zM813,2039.5h1.5v1.5h-1.5zM822,2039.5h3v1.5h-3zM838.5,2039.5h6v1.5h-6zM858,2039.5h1.5v1.5h-1.5zM889.5,2039.5h4.5v1.5h-4.5zM915,2039.5h3v1.5h-3zM948,2039.5h1.5v1.5h-1.5zM976.5,2039.5h1.5v1.5h-1.5zM993,2039.5h3v1.5h-3zM1083,2039.5h7.5v1.5h-7.5zM1114.5,2039.5h1.5v1.5h-1.5zM1161,2039.5h1.5v1.5h-1.5zM1173,2039.5h4.5v1.5h-4.5zM1204.5,2039.5h3v1.5h-3zM1213.5,2039.5h3v1.5h-3zM1228.5,2039.5h1.5v1.5h-1.5zM1248,2039.5h1.5v1.5h-1.5zM532.5,2041h4.5v1.5h-4.5zM588,2041h1.5v1.5h-1.5zM618,2041h4.5v1.5h-4.5zM637.5,2041h3v1.5h-3zM672,2041h3v1.5h-3zM687,2041h1.5v1.5h-1.5zM703.5,2041h3v1.5h-3zM724.5,2041h1.5v1.5h-1.5zM732,2041h1.5v1.5h-1.5zM738,2041h3v1.5h-3zM751.5,2041h1.5v1.5h-1.5zM754.5,2041h3v1.5h-3zM763.5,2041h3v1.5h-3zM768,2041h4.5v1.5h-4.5zM781.5,2041h1.5v1.5h-1.5zM796.5,2041h3v1.5h-3zM822,2041h3v1.5h-3zM840,2041h4.5v1.5h-4.5zM858,2041h1.5v1.5h-1.5zM871.5,2041h4.5v1.5h-4.5zM889.5,2041h7.5v1.5h-7.5zM925.5,2041h1.5v1.5h-1.5zM946.5,2041h3v1.5h-3zM993,2041h6v1.5h-6zM1012.5,2041h1.5v1.5h-1.5zM1020,2041h1.5v1.5h-1.5zM1083,2041h3v1.5h-3zM1087.5,2041h3v1.5h-3zM1129.5,2041h1.5v1.5h-1.5zM1159.5,2041h3v1.5h-3zM1200,2041h1.5v1.5h-1.5zM1204.5,2041h1.5v1.5h-1.5zM1210.5,2041h3v1.5h-3zM1270.5,2041h3v1.5h-3zM1297.5,2041h3v1.5h-3zM418.5,2042.5h1.5v1.5h-1.5zM424.5,2042.5h3v1.5h-3zM486,2042.5h1.5v1.5h-1.5zM517.5,2042.5h3v1.5h-3zM535.5,2042.5h1.5v1.5h-1.5zM558,2042.5h1.5v1.5h-1.5zM577.5,2042.5h1.5v1.5h-1.5zM604.5,2042.5h1.5v1.5h-1.5zM618,2042.5h1.5v1.5h-1.5zM634.5,2042.5h6v1.5h-6zM687,2042.5h1.5v1.5h-1.5zM702,2042.5h4.5v1.5h-4.5zM724.5,2042.5h3v1.5h-3zM732,2042.5h1.5v1.5h-1.5zM751.5,2042.5h7.5v1.5h-7.5zM763.5,2042.5h3v1.5h-3zM769.5,2042.5h4.5v1.5h-4.5zM781.5,2042.5h1.5v1.5h-1.5zM795,2042.5h4.5v1.5h-4.5zM822,2042.5h3v1.5h-3zM841.5,2042.5h3v1.5h-3zM850.5,2042.5h1.5v1.5h-1.5zM862.5,2042.5h1.5v1.5h-1.5zM871.5,2042.5h3v1.5h-3zM880.5,2042.5h4.5v1.5h-4.5zM889.5,2042.5h6v1.5h-6zM925.5,2042.5h1.5v1.5h-1.5zM948,2042.5h1.5v1.5h-1.5zM994.5,2042.5h4.5v1.5h-4.5zM1020,2042.5h1.5v1.5h-1.5zM1071,2042.5h1.5v1.5h-1.5zM1089,2042.5h3v1.5h-3zM1108.5,2042.5h3v1.5h-3zM1122,2042.5h3v1.5h-3zM1158,2042.5h4.5v1.5h-4.5zM1200,2042.5h1.5v1.5h-1.5zM1209,2042.5h6v1.5h-6zM1269,2042.5h4.5v1.5h-4.5zM445.5,2044h3v1.5h-3zM471,2044h3v1.5h-3zM486,2044h3v1.5h-3zM498,2044h1.5v1.5h-1.5zM511.5,2044h1.5v1.5h-1.5zM514.5,2044h4.5v1.5h-4.5zM558,2044h1.5v1.5h-1.5zM564,2044h1.5v1.5h-1.5zM570,2044h1.5v1.5h-1.5zM577.5,2044h1.5v1.5h-1.5zM603,2044h1.5v1.5h-1.5zM616.5,2044h1.5v1.5h-1.5zM634.5,2044h7.5v1.5h-7.5zM672,2044h3v1.5h-3zM687,2044h1.5v1.5h-1.5zM702,2044h4.5v1.5h-4.5zM709.5,2044h1.5v1.5h-1.5zM720,2044h3v1.5h-3zM724.5,2044h4.5v1.5h-4.5zM732,2044h1.5v1.5h-1.5zM750,2044h6v1.5h-6zM777,2044h4.5v1.5h-4.5zM796.5,2044h3v1.5h-3zM822,2044h1.5v1.5h-1.5zM841.5,2044h1.5v1.5h-1.5zM850.5,2044h1.5v1.5h-1.5zM861,2044h4.5v1.5h-4.5zM868.5,2044h16.5v1.5h-16.5zM915,2044h3v1.5h-3zM948,2044h3v1.5h-3zM996,2044h1.5v1.5h-1.5zM1069.5,2044h3v1.5h-3zM1078.5,2044h1.5v1.5h-1.5zM1089,2044h4.5v1.5h-4.5zM1110,2044h6v1.5h-6zM1125,2044h1.5v1.5h-1.5zM1156.5,2044h4.5v1.5h-4.5zM1164,2044h6v1.5h-6zM1179,2044h3v1.5h-3zM1207.5,2044h6v1.5h-6zM1246.5,2044h1.5v1.5h-1.5zM1270.5,2044h1.5v1.5h-1.5zM1323,2044h1.5v1.5h-1.5zM445.5,2045.5h3v1.5h-3zM469.5,2045.5h3v1.5h-3zM477,2045.5h4.5v1.5h-4.5zM484.5,2045.5h4.5v1.5h-4.5zM496.5,2045.5h3v1.5h-3zM511.5,2045.5h7.5v1.5h-7.5zM543,2045.5h1.5v1.5h-1.5zM558,2045.5h3v1.5h-3zM562.5,2045.5h3v1.5h-3zM579,2045.5h1.5v1.5h-1.5zM595.5,2045.5h9v1.5h-9zM610.5,2045.5h7.5v1.5h-7.5zM636,2045.5h6v1.5h-6zM649.5,2045.5h6v1.5h-6zM658.5,2045.5h4.5v1.5h-4.5zM672,2045.5h4.5v1.5h-4.5zM702,2045.5h9v1.5h-9zM720,2045.5h1.5v1.5h-1.5zM732,2045.5h3v1.5h-3zM748.5,2045.5h6v1.5h-6zM759,2045.5h1.5v1.5h-1.5zM777,2045.5h3v1.5h-3zM814.5,2045.5h3v1.5h-3zM823.5,2045.5h1.5v1.5h-1.5zM828,2045.5h3v1.5h-3zM840,2045.5h7.5v1.5h-7.5zM861,2045.5h1.5v1.5h-1.5zM868.5,2045.5h10.5v1.5h-10.5zM883.5,2045.5h1.5v1.5h-1.5zM900,2045.5h4.5v1.5h-4.5zM907.5,2045.5h1.5v1.5h-1.5zM915,2045.5h4.5v1.5h-4.5zM925.5,2045.5h6v1.5h-6zM1006.5,2045.5h3v1.5h-3zM1026,2045.5h4.5v1.5h-4.5zM1060.5,2045.5h1.5v1.5h-1.5zM1077,2045.5h3v1.5h-3zM1113,2045.5h4.5v1.5h-4.5zM1125,2045.5h1.5v1.5h-1.5zM1146,2045.5h1.5v1.5h-1.5zM1164,2045.5h4.5v1.5h-4.5zM1189.5,2045.5h3v1.5h-3zM1233,2045.5h1.5v1.5h-1.5zM1263,2045.5h3v1.5h-3zM1276.5,2045.5h1.5v1.5h-1.5zM1315.5,2045.5h1.5v1.5h-1.5zM1320,2045.5h3v1.5h-3zM477,2047h3v1.5h-3zM486,2047h1.5v1.5h-1.5zM495,2047h4.5v1.5h-4.5zM511.5,2047h7.5v1.5h-7.5zM562.5,2047h3v1.5h-3zM577.5,2047h1.5v1.5h-1.5zM589.5,2047h1.5v1.5h-1.5zM595.5,2047h9v1.5h-9zM612,2047h7.5v1.5h-7.5zM639,2047h3v1.5h-3zM645,2047h6v1.5h-6zM658.5,2047h6v1.5h-6zM672,2047h6v1.5h-6zM703.5,2047h6v1.5h-6zM720,2047h1.5v1.5h-1.5zM730.5,2047h4.5v1.5h-4.5zM736.5,2047h6v1.5h-6zM750,2047h4.5v1.5h-4.5zM759,2047h1.5v1.5h-1.5zM774,2047h12v1.5h-12zM792,2047h1.5v1.5h-1.5zM798,2047h1.5v1.5h-1.5zM802.5,2047h1.5v1.5h-1.5zM810,2047h7.5v1.5h-7.5zM823.5,2047h1.5v1.5h-1.5zM828,2047h3v1.5h-3zM840,2047h6v1.5h-6zM859.5,2047h3v1.5h-3zM867,2047h9v1.5h-9zM900,2047h6v1.5h-6zM913.5,2047h7.5v1.5h-7.5zM925.5,2047h4.5v1.5h-4.5zM1011,2047h4.5v1.5h-4.5zM1024.5,2047h6v1.5h-6zM1036.5,2047h3v1.5h-3zM1066.5,2047h3v1.5h-3zM1077,2047h3v1.5h-3zM1114.5,2047h3v1.5h-3zM1125,2047h3v1.5h-3zM1132.5,2047h6v1.5h-6zM1143,2047h4.5v1.5h-4.5zM1165.5,2047h3v1.5h-3zM1177.5,2047h3v1.5h-3zM1189.5,2047h3v1.5h-3zM1263,2047h4.5v1.5h-4.5zM1276.5,2047h1.5v1.5h-1.5zM1303.5,2047h3v1.5h-3zM1314,2047h4.5v1.5h-4.5zM1320,2047h4.5v1.5h-4.5zM420,2048.5h3v1.5h-3zM462,2048.5h1.5v1.5h-1.5zM478.5,2048.5h3v1.5h-3zM495,2048.5h3v1.5h-3zM502.5,2048.5h1.5v1.5h-1.5zM513,2048.5h3v1.5h-3zM564,2048.5h1.5v1.5h-1.5zM577.5,2048.5h3v1.5h-3zM588,2048.5h4.5v1.5h-4.5zM598.5,2048.5h1.5v1.5h-1.5zM613.5,2048.5h1.5v1.5h-1.5zM624,2048.5h1.5v1.5h-1.5zM643.5,2048.5h4.5v1.5h-4.5zM658.5,2048.5h6v1.5h-6zM673.5,2048.5h4.5v1.5h-4.5zM690,2048.5h6v1.5h-6zM699,2048.5h9v1.5h-9zM730.5,2048.5h4.5v1.5h-4.5zM738,2048.5h4.5v1.5h-4.5zM750,2048.5h6v1.5h-6zM759,2048.5h3v1.5h-3zM772.5,2048.5h6v1.5h-6zM780,2048.5h6v1.5h-6zM795,2048.5h4.5v1.5h-4.5zM811.5,2048.5h6v1.5h-6zM823.5,2048.5h1.5v1.5h-1.5zM843,2048.5h1.5v1.5h-1.5zM852,2048.5h1.5v1.5h-1.5zM861,2048.5h1.5v1.5h-1.5zM867,2048.5h7.5v1.5h-7.5zM897,2048.5h3v1.5h-3zM901.5,2048.5h4.5v1.5h-4.5zM913.5,2048.5h4.5v1.5h-4.5zM925.5,2048.5h3v1.5h-3zM979.5,2048.5h3v1.5h-3zM1011,2048.5h4.5v1.5h-4.5zM1024.5,2048.5h4.5v1.5h-4.5zM1036.5,2048.5h6v1.5h-6zM1066.5,2048.5h3v1.5h-3zM1075.5,2048.5h4.5v1.5h-4.5zM1131,2048.5h6v1.5h-6zM1143,2048.5h3v1.5h-3zM1177.5,2048.5h3v1.5h-3zM1189.5,2048.5h1.5v1.5h-1.5zM1194,2048.5h1.5v1.5h-1.5zM1227,2048.5h1.5v1.5h-1.5zM1303.5,2048.5h1.5v1.5h-1.5zM1309.5,2048.5h3v1.5h-3zM1314,2048.5h3v1.5h-3zM1323,2048.5h1.5v1.5h-1.5zM393,2050h3v1.5h-3zM427.5,2050h3v1.5h-3zM448.5,2050h3v1.5h-3zM454.5,2050h3v1.5h-3zM466.5,2050h1.5v1.5h-1.5zM480,2050h4.5v1.5h-4.5zM495,2050h3v1.5h-3zM501,2050h3v1.5h-3zM514.5,2050h1.5v1.5h-1.5zM531,2050h1.5v1.5h-1.5zM586.5,2050h6v1.5h-6zM606,2050h1.5v1.5h-1.5zM619.5,2050h1.5v1.5h-1.5zM624,2050h1.5v1.5h-1.5zM642,2050h4.5v1.5h-4.5zM660,2050h4.5v1.5h-4.5zM682.5,2050h15v1.5h-15zM699,2050h6v1.5h-6zM706.5,2050h3v1.5h-3zM718.5,2050h3v1.5h-3zM732,2050h10.5v1.5h-10.5zM750,2050h7.5v1.5h-7.5zM772.5,2050h6v1.5h-6zM780,2050h4.5v1.5h-4.5zM792,2050h10.5v1.5h-10.5zM811.5,2050h6v1.5h-6zM822,2050h6v1.5h-6zM843,2050h1.5v1.5h-1.5zM868.5,2050h6v1.5h-6zM897,2050h3v1.5h-3zM901.5,2050h3v1.5h-3zM913.5,2050h3v1.5h-3zM925.5,2050h3v1.5h-3zM978,2050h4.5v1.5h-4.5zM1012.5,2050h3v1.5h-3zM1024.5,2050h4.5v1.5h-4.5zM1032,2050h10.5v1.5h-10.5zM1047,2050h4.5v1.5h-4.5zM1057.5,2050h3v1.5h-3zM1114.5,2050h1.5v1.5h-1.5zM1129.5,2050h7.5v1.5h-7.5zM1183.5,2050h1.5v1.5h-1.5zM1188,2050h9v1.5h-9zM1260,2050h1.5v1.5h-1.5zM1269,2050h1.5v1.5h-1.5zM1309.5,2050h1.5v1.5h-1.5zM1323,2050h1.5v1.5h-1.5zM450,2051.5h3v1.5h-3zM454.5,2051.5h1.5v1.5h-1.5zM481.5,2051.5h3v1.5h-3zM495,2051.5h3v1.5h-3zM501,2051.5h3v1.5h-3zM519,2051.5h3v1.5h-3zM585,2051.5h6v1.5h-6zM603,2051.5h6v1.5h-6zM625.5,2051.5h1.5v1.5h-1.5zM640.5,2051.5h1.5v1.5h-1.5zM655.5,2051.5h1.5v1.5h-1.5zM661.5,2051.5h3v1.5h-3zM682.5,2051.5h7.5v1.5h-7.5zM694.5,2051.5h4.5v1.5h-4.5zM700.5,2051.5h9v1.5h-9zM712.5,2051.5h9v1.5h-9zM727.5,2051.5h1.5v1.5h-1.5zM733.5,2051.5h9v1.5h-9zM751.5,2051.5h6v1.5h-6zM771,2051.5h15v1.5h-15zM792,2051.5h12v1.5h-12zM805.5,2051.5h13.5v1.5h-13.5zM822,2051.5h10.5v1.5h-10.5zM843,2051.5h1.5v1.5h-1.5zM853.5,2051.5h7.5v1.5h-7.5zM868.5,2051.5h4.5v1.5h-4.5zM885,2051.5h1.5v1.5h-1.5zM891,2051.5h4.5v1.5h-4.5zM897,2051.5h7.5v1.5h-7.5zM913.5,2051.5h1.5v1.5h-1.5zM970.5,2051.5h3v1.5h-3zM978,2051.5h4.5v1.5h-4.5zM1002,2051.5h3v1.5h-3zM1014,2051.5h3v1.5h-3zM1024.5,2051.5h4.5v1.5h-4.5zM1030.5,2051.5h12v1.5h-12zM1047,2051.5h4.5v1.5h-4.5zM1057.5,2051.5h3v1.5h-3zM1098,2051.5h4.5v1.5h-4.5zM1114.5,2051.5h3v1.5h-3zM1120.5,2051.5h1.5v1.5h-1.5zM1129.5,2051.5h3v1.5h-3zM1140,2051.5h1.5v1.5h-1.5zM1168.5,2051.5h3v1.5h-3zM1183.5,2051.5h18v1.5h-18zM1207.5,2051.5h3v1.5h-3zM1215,2051.5h3v1.5h-3zM1224,2051.5h3v1.5h-3zM1234.5,2051.5h1.5v1.5h-1.5zM1254,2051.5h1.5v1.5h-1.5zM1267.5,2051.5h4.5v1.5h-4.5zM1281,2051.5h1.5v1.5h-1.5zM1305,2051.5h1.5v1.5h-1.5zM420,2053h1.5v1.5h-1.5zM451.5,2053h1.5v1.5h-1.5zM454.5,2053h1.5v1.5h-1.5zM502.5,2053h1.5v1.5h-1.5zM517.5,2053h3v1.5h-3zM603,2053h7.5v1.5h-7.5zM624,2053h4.5v1.5h-4.5zM634.5,2053h3v1.5h-3zM640.5,2053h1.5v1.5h-1.5zM654,2053h4.5v1.5h-4.5zM682.5,2053h7.5v1.5h-7.5zM693,2053h7.5v1.5h-7.5zM703.5,2053h4.5v1.5h-4.5zM711,2053h4.5v1.5h-4.5zM718.5,2053h4.5v1.5h-4.5zM726,2053h4.5v1.5h-4.5zM733.5,2053h6v1.5h-6zM753,2053h9v1.5h-9zM771,2053h16.5v1.5h-16.5zM792,2053h18v1.5h-18zM811.5,2053h7.5v1.5h-7.5zM822,2053h1.5v1.5h-1.5zM825,2053h9v1.5h-9zM843,2053h3v1.5h-3zM853.5,2053h3v1.5h-3zM859.5,2053h1.5v1.5h-1.5zM868.5,2053h3v1.5h-3zM883.5,2053h22.5v1.5h-22.5zM934.5,2053h1.5v1.5h-1.5zM970.5,2053h3v1.5h-3zM976.5,2053h6v1.5h-6zM996,2053h4.5v1.5h-4.5zM1002,2053h4.5v1.5h-4.5zM1015.5,2053h4.5v1.5h-4.5zM1024.5,2053h10.5v1.5h-10.5zM1036.5,2053h4.5v1.5h-4.5zM1047,2053h4.5v1.5h-4.5zM1057.5,2053h3v1.5h-3zM1080,2053h1.5v1.5h-1.5zM1099.5,2053h3v1.5h-3zM1114.5,2053h3v1.5h-3zM1138.5,2053h4.5v1.5h-4.5zM1149,2053h1.5v1.5h-1.5zM1167,2053h3v1.5h-3zM1185,2053h1.5v1.5h-1.5zM1191,2053h3v1.5h-3zM1198.5,2053h3v1.5h-3zM1207.5,2053h1.5v1.5h-1.5zM1213.5,2053h3v1.5h-3zM1222.5,2053h4.5v1.5h-4.5zM1233,2053h3v1.5h-3zM1248,2053h1.5v1.5h-1.5zM1254,2053h1.5v1.5h-1.5zM1267.5,2053h7.5v1.5h-7.5zM1281,2053h1.5v1.5h-1.5zM1291.5,2053h3v1.5h-3zM1303.5,2053h3v1.5h-3zM421.5,2054.5h1.5v1.5h-1.5zM427.5,2054.5h4.5v1.5h-4.5zM454.5,2054.5h3v1.5h-3zM489,2054.5h3v1.5h-3zM502.5,2054.5h1.5v1.5h-1.5zM511.5,2054.5h1.5v1.5h-1.5zM517.5,2054.5h3v1.5h-3zM550.5,2054.5h3v1.5h-3zM556.5,2054.5h1.5v1.5h-1.5zM570,2054.5h7.5v1.5h-7.5zM583.5,2054.5h1.5v1.5h-1.5zM591,2054.5h1.5v1.5h-1.5zM601.5,2054.5h6v1.5h-6zM624,2054.5h6v1.5h-6zM639,2054.5h3v1.5h-3zM648,2054.5h1.5v1.5h-1.5zM652.5,2054.5h6v1.5h-6zM672,2054.5h4.5v1.5h-4.5zM681,2054.5h6v1.5h-6zM693,2054.5h6v1.5h-6zM705,2054.5h1.5v1.5h-1.5zM712.5,2054.5h1.5v1.5h-1.5zM718.5,2054.5h6v1.5h-6zM726,2054.5h6v1.5h-6zM733.5,2054.5h6v1.5h-6zM744,2054.5h6v1.5h-6zM756,2054.5h9v1.5h-9zM772.5,2054.5h15v1.5h-15zM793.5,2054.5h3v1.5h-3zM799.5,2054.5h1.5v1.5h-1.5zM802.5,2054.5h10.5v1.5h-10.5zM814.5,2054.5h4.5v1.5h-4.5zM831,2054.5h7.5v1.5h-7.5zM843,2054.5h4.5v1.5h-4.5zM853.5,2054.5h3v1.5h-3zM868.5,2054.5h4.5v1.5h-4.5zM886.5,2054.5h13.5v1.5h-13.5zM901.5,2054.5h6v1.5h-6zM930,2054.5h3v1.5h-3zM934.5,2054.5h3v1.5h-3zM976.5,2054.5h1.5v1.5h-1.5zM994.5,2054.5h6v1.5h-6zM1003.5,2054.5h4.5v1.5h-4.5zM1020,2054.5h1.5v1.5h-1.5zM1023,2054.5h12v1.5h-12zM1047,2054.5h3v1.5h-3zM1101,2054.5h1.5v1.5h-1.5zM1116,2054.5h1.5v1.5h-1.5zM1140,2054.5h3v1.5h-3zM1165.5,2054.5h3v1.5h-3zM1191,2054.5h3v1.5h-3zM1204.5,2054.5h3v1.5h-3zM1215,2054.5h3v1.5h-3zM1222.5,2054.5h3v1.5h-3zM1231.5,2054.5h3v1.5h-3zM1243.5,2054.5h3v1.5h-3zM1252.5,2054.5h3v1.5h-3zM1267.5,2054.5h7.5v1.5h-7.5zM1293,2054.5h1.5v1.5h-1.5zM1303.5,2054.5h6v1.5h-6zM408,2056h3v1.5h-3zM423,2056h1.5v1.5h-1.5zM427.5,2056h3v1.5h-3zM454.5,2056h4.5v1.5h-4.5zM483,2056h3v1.5h-3zM490.5,2056h3v1.5h-3zM502.5,2056h1.5v1.5h-1.5zM511.5,2056h1.5v1.5h-1.5zM517.5,2056h3v1.5h-3zM522,2056h1.5v1.5h-1.5zM543,2056h3v1.5h-3zM549,2056h4.5v1.5h-4.5zM559.5,2056h4.5v1.5h-4.5zM583.5,2056h3v1.5h-3zM588,2056h6v1.5h-6zM610.5,2056h6v1.5h-6zM624,2056h6v1.5h-6zM639,2056h3v1.5h-3zM651,2056h6v1.5h-6zM672,2056h4.5v1.5h-4.5zM681,2056h1.5v1.5h-1.5zM693,2056h6v1.5h-6zM717,2056h1.5v1.5h-1.5zM726,2056h3v1.5h-3zM733.5,2056h4.5v1.5h-4.5zM739.5,2056h13.5v1.5h-13.5zM756,2056h1.5v1.5h-1.5zM759,2056h7.5v1.5h-7.5zM772.5,2056h12v1.5h-12zM786,2056h4.5v1.5h-4.5zM792,2056h3v1.5h-3zM804,2056h4.5v1.5h-4.5zM810,2056h7.5v1.5h-7.5zM831,2056h7.5v1.5h-7.5zM843,2056h6v1.5h-6zM850.5,2056h1.5v1.5h-1.5zM868.5,2056h4.5v1.5h-4.5zM889.5,2056h10.5v1.5h-10.5zM903,2056h4.5v1.5h-4.5zM919.5,2056h3v1.5h-3zM930,2056h1.5v1.5h-1.5zM934.5,2056h1.5v1.5h-1.5zM997.5,2056h10.5v1.5h-10.5zM1020,2056h10.5v1.5h-10.5zM1032,2056h1.5v1.5h-1.5zM1047,2056h1.5v1.5h-1.5zM1075.5,2056h3v1.5h-3zM1107,2056h3v1.5h-3zM1116,2056h3v1.5h-3zM1132.5,2056h3v1.5h-3zM1140,2056h1.5v1.5h-1.5zM1147.5,2056h1.5v1.5h-1.5zM1153.5,2056h1.5v1.5h-1.5zM1162.5,2056h4.5v1.5h-4.5zM1171.5,2056h1.5v1.5h-1.5zM1191,2056h3v1.5h-3zM1204.5,2056h1.5v1.5h-1.5zM1215,2056h3v1.5h-3zM1222.5,2056h3v1.5h-3zM1228.5,2056h1.5v1.5h-1.5zM1243.5,2056h4.5v1.5h-4.5zM1252.5,2056h3v1.5h-3zM1267.5,2056h6v1.5h-6zM1303.5,2056h6v1.5h-6zM423,2057.5h1.5v1.5h-1.5zM427.5,2057.5h3v1.5h-3zM435,2057.5h7.5v1.5h-7.5zM454.5,2057.5h4.5v1.5h-4.5zM460.5,2057.5h6v1.5h-6zM481.5,2057.5h4.5v1.5h-4.5zM490.5,2057.5h3v1.5h-3zM502.5,2057.5h1.5v1.5h-1.5zM519,2057.5h4.5v1.5h-4.5zM543,2057.5h4.5v1.5h-4.5zM549,2057.5h4.5v1.5h-4.5zM559.5,2057.5h6v1.5h-6zM585,2057.5h10.5v1.5h-10.5zM612,2057.5h6v1.5h-6zM624,2057.5h7.5v1.5h-7.5zM636,2057.5h7.5v1.5h-7.5zM649.5,2057.5h6v1.5h-6zM658.5,2057.5h4.5v1.5h-4.5zM666,2057.5h6v1.5h-6zM685.5,2057.5h13.5v1.5h-13.5zM715.5,2057.5h4.5v1.5h-4.5zM724.5,2057.5h4.5v1.5h-4.5zM732,2057.5h3v1.5h-3zM738,2057.5h9v1.5h-9zM751.5,2057.5h6v1.5h-6zM760.5,2057.5h6v1.5h-6zM775.5,2057.5h19.5v1.5h-19.5zM805.5,2057.5h3v1.5h-3zM811.5,2057.5h13.5v1.5h-13.5zM835.5,2057.5h3v1.5h-3zM843,2057.5h4.5v1.5h-4.5zM870,2057.5h3v1.5h-3zM877.5,2057.5h1.5v1.5h-1.5zM882,2057.5h3v1.5h-3zM891,2057.5h3v1.5h-3zM895.5,2057.5h4.5v1.5h-4.5zM903,2057.5h6v1.5h-6zM913.5,2057.5h1.5v1.5h-1.5zM918,2057.5h4.5v1.5h-4.5zM970.5,2057.5h1.5v1.5h-1.5zM987,2057.5h1.5v1.5h-1.5zM1000.5,2057.5h7.5v1.5h-7.5zM1020,2057.5h7.5v1.5h-7.5zM1041,2057.5h3v1.5h-3zM1047,2057.5h1.5v1.5h-1.5zM1072.5,2057.5h6v1.5h-6zM1102.5,2057.5h9v1.5h-9zM1132.5,2057.5h4.5v1.5h-4.5zM1146,2057.5h4.5v1.5h-4.5zM1153.5,2057.5h3v1.5h-3zM1162.5,2057.5h4.5v1.5h-4.5zM1170,2057.5h1.5v1.5h-1.5zM1179,2057.5h4.5v1.5h-4.5zM1191,2057.5h3v1.5h-3zM1216.5,2057.5h3v1.5h-3zM1222.5,2057.5h3v1.5h-3zM1267.5,2057.5h4.5v1.5h-4.5zM1281,2057.5h1.5v1.5h-1.5zM1299,2057.5h1.5v1.5h-1.5zM1306.5,2057.5h3v1.5h-3zM1317,2057.5h1.5v1.5h-1.5zM411,2059h1.5v1.5h-1.5zM427.5,2059h1.5v1.5h-1.5zM436.5,2059h7.5v1.5h-7.5zM447,2059h1.5v1.5h-1.5zM456,2059h1.5v1.5h-1.5zM462,2059h4.5v1.5h-4.5zM474,2059h1.5v1.5h-1.5zM480,2059h6v1.5h-6zM490.5,2059h3v1.5h-3zM498,2059h4.5v1.5h-4.5zM520.5,2059h1.5v1.5h-1.5zM546,2059h1.5v1.5h-1.5zM550.5,2059h4.5v1.5h-4.5zM579,2059h1.5v1.5h-1.5zM586.5,2059h3v1.5h-3zM592.5,2059h4.5v1.5h-4.5zM600,2059h3v1.5h-3zM607.5,2059h3v1.5h-3zM613.5,2059h4.5v1.5h-4.5zM624,2059h6v1.5h-6zM633,2059h3v1.5h-3zM639,2059h4.5v1.5h-4.5zM649.5,2059h4.5v1.5h-4.5zM658.5,2059h3v1.5h-3zM664.5,2059h7.5v1.5h-7.5zM685.5,2059h3v1.5h-3zM691.5,2059h7.5v1.5h-7.5zM715.5,2059h4.5v1.5h-4.5zM723,2059h6v1.5h-6zM733.5,2059h1.5v1.5h-1.5zM738,2059h4.5v1.5h-4.5zM744,2059h3v1.5h-3zM750,2059h7.5v1.5h-7.5zM762,2059h6v1.5h-6zM769.5,2059h3v1.5h-3zM775.5,2059h19.5v1.5h-19.5zM798,2059h1.5v1.5h-1.5zM817.5,2059h7.5v1.5h-7.5zM835.5,2059h4.5v1.5h-4.5zM841.5,2059h4.5v1.5h-4.5zM855,2059h6v1.5h-6zM870,2059h3v1.5h-3zM880.5,2059h4.5v1.5h-4.5zM900,2059h3v1.5h-3zM906,2059h3v1.5h-3zM913.5,2059h9v1.5h-9zM927,2059h6v1.5h-6zM943.5,2059h1.5v1.5h-1.5zM967.5,2059h3v1.5h-3zM979.5,2059h1.5v1.5h-1.5zM987,2059h1.5v1.5h-1.5zM1003.5,2059h4.5v1.5h-4.5zM1012.5,2059h7.5v1.5h-7.5zM1024.5,2059h1.5v1.5h-1.5zM1039.5,2059h4.5v1.5h-4.5zM1062,2059h1.5v1.5h-1.5zM1072.5,2059h7.5v1.5h-7.5zM1087.5,2059h1.5v1.5h-1.5zM1095,2059h1.5v1.5h-1.5zM1101,2059h1.5v1.5h-1.5zM1105.5,2059h6v1.5h-6zM1135.5,2059h1.5v1.5h-1.5zM1144.5,2059h4.5v1.5h-4.5zM1153.5,2059h3v1.5h-3zM1164,2059h6v1.5h-6zM1179,2059h1.5v1.5h-1.5zM1191,2059h3v1.5h-3zM1207.5,2059h4.5v1.5h-4.5zM1216.5,2059h3v1.5h-3zM1222.5,2059h6v1.5h-6zM1264.5,2059h1.5v1.5h-1.5zM1267.5,2059h4.5v1.5h-4.5zM1297.5,2059h3v1.5h-3zM1306.5,2059h3v1.5h-3zM409.5,2060.5h3v1.5h-3zM426,2060.5h3v1.5h-3zM438,2060.5h1.5v1.5h-1.5zM442.5,2060.5h3v1.5h-3zM447,2060.5h3v1.5h-3zM463.5,2060.5h3v1.5h-3zM472.5,2060.5h4.5v1.5h-4.5zM480,2060.5h7.5v1.5h-7.5zM496.5,2060.5h6v1.5h-6zM522,2060.5h1.5v1.5h-1.5zM550.5,2060.5h3v1.5h-3zM577.5,2060.5h3v1.5h-3zM586.5,2060.5h1.5v1.5h-1.5zM592.5,2060.5h4.5v1.5h-4.5zM601.5,2060.5h12v1.5h-12zM615,2060.5h4.5v1.5h-4.5zM622.5,2060.5h6v1.5h-6zM633,2060.5h3v1.5h-3zM640.5,2060.5h1.5v1.5h-1.5zM648,2060.5h6v1.5h-6zM660,2060.5h1.5v1.5h-1.5zM663,2060.5h9v1.5h-9zM682.5,2060.5h3v1.5h-3zM687,2060.5h3v1.5h-3zM691.5,2060.5h10.5v1.5h-10.5zM714,2060.5h4.5v1.5h-4.5zM724.5,2060.5h4.5v1.5h-4.5zM739.5,2060.5h3v1.5h-3zM745.5,2060.5h13.5v1.5h-13.5zM763.5,2060.5h9v1.5h-9zM775.5,2060.5h9v1.5h-9zM786,2060.5h7.5v1.5h-7.5zM798,2060.5h3v1.5h-3zM816,2060.5h3v1.5h-3zM822,2060.5h1.5v1.5h-1.5zM835.5,2060.5h10.5v1.5h-10.5zM855,2060.5h9v1.5h-9zM871.5,2060.5h1.5v1.5h-1.5zM879,2060.5h1.5v1.5h-1.5zM900,2060.5h4.5v1.5h-4.5zM913.5,2060.5h9v1.5h-9zM927,2060.5h6v1.5h-6zM967.5,2060.5h3v1.5h-3zM1003.5,2060.5h4.5v1.5h-4.5zM1012.5,2060.5h7.5v1.5h-7.5zM1050,2060.5h3v1.5h-3zM1057.5,2060.5h4.5v1.5h-4.5zM1072.5,2060.5h6v1.5h-6zM1086,2060.5h3v1.5h-3zM1099.5,2060.5h4.5v1.5h-4.5zM1105.5,2060.5h6v1.5h-6zM1125,2060.5h3v1.5h-3zM1144.5,2060.5h4.5v1.5h-4.5zM1153.5,2060.5h3v1.5h-3zM1177.5,2060.5h3v1.5h-3zM1191,2060.5h7.5v1.5h-7.5zM1206,2060.5h6v1.5h-6zM1221,2060.5h1.5v1.5h-1.5zM1225.5,2060.5h3v1.5h-3zM1264.5,2060.5h7.5v1.5h-7.5zM1299,2060.5h1.5v1.5h-1.5zM1314,2060.5h1.5v1.5h-1.5zM1323,2060.5h1.5v1.5h-1.5zM405,2062h3v1.5h-3zM417,2062h1.5v1.5h-1.5zM426,2062h3v1.5h-3zM436.5,2062h3v1.5h-3zM447,2062h4.5v1.5h-4.5zM466.5,2062h1.5v1.5h-1.5zM471,2062h6v1.5h-6zM480,2062h7.5v1.5h-7.5zM498,2062h1.5v1.5h-1.5zM520.5,2062h4.5v1.5h-4.5zM550.5,2062h1.5v1.5h-1.5zM570,2062h1.5v1.5h-1.5zM586.5,2062h1.5v1.5h-1.5zM594,2062h3v1.5h-3zM601.5,2062h12v1.5h-12zM624,2062h4.5v1.5h-4.5zM631.5,2062h4.5v1.5h-4.5zM640.5,2062h1.5v1.5h-1.5zM646.5,2062h6v1.5h-6zM660,2062h12v1.5h-12zM682.5,2062h3v1.5h-3zM691.5,2062h12v1.5h-12zM723,2062h6v1.5h-6zM732,2062h1.5v1.5h-1.5zM739.5,2062h3v1.5h-3zM748.5,2062h10.5v1.5h-10.5zM763.5,2062h7.5v1.5h-7.5zM774,2062h9v1.5h-9zM787.5,2062h4.5v1.5h-4.5zM796.5,2062h6v1.5h-6zM814.5,2062h3v1.5h-3zM822,2062h3v1.5h-3zM840,2062h6v1.5h-6zM855,2062h3v1.5h-3zM862.5,2062h1.5v1.5h-1.5zM870,2062h3v1.5h-3zM876,2062h6v1.5h-6zM889.5,2062h1.5v1.5h-1.5zM900,2062h6v1.5h-6zM918,2062h6v1.5h-6zM931.5,2062h1.5v1.5h-1.5zM991.5,2062h3v1.5h-3zM999,2062h4.5v1.5h-4.5zM1005,2062h3v1.5h-3zM1012.5,2062h6v1.5h-6zM1045.5,2062h3v1.5h-3zM1050,2062h6v1.5h-6zM1060.5,2062h1.5v1.5h-1.5zM1065,2062h13.5v1.5h-13.5zM1086,2062h3v1.5h-3zM1098,2062h7.5v1.5h-7.5zM1108.5,2062h3v1.5h-3zM1117.5,2062h3v1.5h-3zM1126.5,2062h3v1.5h-3zM1132.5,2062h1.5v1.5h-1.5zM1143,2062h3v1.5h-3zM1153.5,2062h1.5v1.5h-1.5zM1159.5,2062h1.5v1.5h-1.5zM1177.5,2062h6v1.5h-6zM1191,2062h7.5v1.5h-7.5zM1206,2062h3v1.5h-3zM1234.5,2062h3v1.5h-3zM1245,2062h3v1.5h-3zM1266,2062h4.5v1.5h-4.5zM1276.5,2062h1.5v1.5h-1.5zM1291.5,2062h1.5v1.5h-1.5zM1299,2062h3v1.5h-3zM1308,2062h7.5v1.5h-7.5zM1321.5,2062h3v1.5h-3zM415.5,2063.5h4.5v1.5h-4.5zM435,2063.5h1.5v1.5h-1.5zM448.5,2063.5h1.5v1.5h-1.5zM466.5,2063.5h1.5v1.5h-1.5zM471,2063.5h7.5v1.5h-7.5zM480,2063.5h4.5v1.5h-4.5zM490.5,2063.5h3v1.5h-3zM502.5,2063.5h3v1.5h-3zM511.5,2063.5h4.5v1.5h-4.5zM520.5,2063.5h4.5v1.5h-4.5zM528,2063.5h1.5v1.5h-1.5zM540,2063.5h4.5v1.5h-4.5zM585,2063.5h3v1.5h-3zM594,2063.5h4.5v1.5h-4.5zM603,2063.5h9v1.5h-9zM630,2063.5h6v1.5h-6zM646.5,2063.5h1.5v1.5h-1.5zM660,2063.5h1.5v1.5h-1.5zM667.5,2063.5h4.5v1.5h-4.5zM721.5,2063.5h9v1.5h-9zM739.5,2063.5h3v1.5h-3zM747,2063.5h9v1.5h-9zM763.5,2063.5h7.5v1.5h-7.5zM774,2063.5h18v1.5h-18zM793.5,2063.5h9v1.5h-9zM814.5,2063.5h3v1.5h-3zM834,2063.5h3v1.5h-3zM840,2063.5h7.5v1.5h-7.5zM862.5,2063.5h1.5v1.5h-1.5zM876,2063.5h6v1.5h-6zM889.5,2063.5h6v1.5h-6zM900,2063.5h1.5v1.5h-1.5zM903,2063.5h3v1.5h-3zM910.5,2063.5h3v1.5h-3zM918,2063.5h7.5v1.5h-7.5zM931.5,2063.5h3v1.5h-3zM937.5,2063.5h3v1.5h-3zM990,2063.5h4.5v1.5h-4.5zM999,2063.5h3v1.5h-3zM1005,2063.5h3v1.5h-3zM1012.5,2063.5h3v1.5h-3zM1017,2063.5h1.5v1.5h-1.5zM1045.5,2063.5h3v1.5h-3zM1051.5,2063.5h4.5v1.5h-4.5zM1066.5,2063.5h9v1.5h-9zM1098,2063.5h7.5v1.5h-7.5zM1108.5,2063.5h4.5v1.5h-4.5zM1116,2063.5h4.5v1.5h-4.5zM1128,2063.5h6v1.5h-6zM1138.5,2063.5h1.5v1.5h-1.5zM1149,2063.5h6v1.5h-6zM1158,2063.5h4.5v1.5h-4.5zM1177.5,2063.5h6v1.5h-6zM1191,2063.5h7.5v1.5h-7.5zM1246.5,2063.5h1.5v1.5h-1.5zM1252.5,2063.5h3v1.5h-3zM1266,2063.5h3v1.5h-3zM1302,2063.5h1.5v1.5h-1.5zM1306.5,2063.5h9v1.5h-9zM379.5,2065h1.5v1.5h-1.5zM429,2065h3v1.5h-3zM433.5,2065h3v1.5h-3zM456,2065h3v1.5h-3zM474,2065h4.5v1.5h-4.5zM486,2065h3v1.5h-3zM501,2065h6v1.5h-6zM513,2065h4.5v1.5h-4.5zM550.5,2065h1.5v1.5h-1.5zM565.5,2065h3v1.5h-3zM585,2065h3v1.5h-3zM589.5,2065h10.5v1.5h-10.5zM630,2065h3v1.5h-3zM645,2065h3v1.5h-3zM667.5,2065h4.5v1.5h-4.5zM685.5,2065h1.5v1.5h-1.5zM690,2065h3v1.5h-3zM697.5,2065h3v1.5h-3zM702,2065h1.5v1.5h-1.5zM711,2065h7.5v1.5h-7.5zM721.5,2065h7.5v1.5h-7.5zM736.5,2065h19.5v1.5h-19.5zM759,2065h1.5v1.5h-1.5zM763.5,2065h1.5v1.5h-1.5zM768,2065h4.5v1.5h-4.5zM774,2065h4.5v1.5h-4.5zM781.5,2065h21v1.5h-21zM814.5,2065h1.5v1.5h-1.5zM834,2065h3v1.5h-3zM840,2065h9v1.5h-9zM876,2065h3v1.5h-3zM889.5,2065h7.5v1.5h-7.5zM904.5,2065h3v1.5h-3zM909,2065h3v1.5h-3zM918,2065h7.5v1.5h-7.5zM931.5,2065h4.5v1.5h-4.5zM972,2065h3v1.5h-3zM987,2065h1.5v1.5h-1.5zM994.5,2065h3v1.5h-3zM999,2065h3v1.5h-3zM1006.5,2065h1.5v1.5h-1.5zM1012.5,2065h3v1.5h-3zM1027.5,2065h1.5v1.5h-1.5zM1038,2065h1.5v1.5h-1.5zM1044,2065h4.5v1.5h-4.5zM1051.5,2065h3v1.5h-3zM1069.5,2065h6v1.5h-6zM1099.5,2065h13.5v1.5h-13.5zM1116,2065h3v1.5h-3zM1131,2065h1.5v1.5h-1.5zM1138.5,2065h3v1.5h-3zM1149,2065h4.5v1.5h-4.5zM1159.5,2065h3v1.5h-3zM1170,2065h1.5v1.5h-1.5zM1179,2065h4.5v1.5h-4.5zM1192.5,2065h3v1.5h-3zM1246.5,2065h3v1.5h-3zM1282.5,2065h1.5v1.5h-1.5zM1302,2065h1.5v1.5h-1.5zM1306.5,2065h6v1.5h-6zM429,2066.5h6v1.5h-6zM442.5,2066.5h1.5v1.5h-1.5zM456,2066.5h1.5v1.5h-1.5zM462,2066.5h4.5v1.5h-4.5zM474,2066.5h4.5v1.5h-4.5zM486,2066.5h3v1.5h-3zM501,2066.5h6v1.5h-6zM514.5,2066.5h1.5v1.5h-1.5zM549,2066.5h3v1.5h-3zM564,2066.5h4.5v1.5h-4.5zM585,2066.5h18v1.5h-18zM642,2066.5h6v1.5h-6zM652.5,2066.5h1.5v1.5h-1.5zM667.5,2066.5h4.5v1.5h-4.5zM684,2066.5h3v1.5h-3zM690,2066.5h4.5v1.5h-4.5zM699,2066.5h6v1.5h-6zM712.5,2066.5h6v1.5h-6zM723,2066.5h3v1.5h-3zM727.5,2066.5h3v1.5h-3zM733.5,2066.5h31.5v1.5h-31.5zM768,2066.5h10.5v1.5h-10.5zM781.5,2066.5h1.5v1.5h-1.5zM784.5,2066.5h18v1.5h-18zM814.5,2066.5h1.5v1.5h-1.5zM820.5,2066.5h1.5v1.5h-1.5zM828,2066.5h9v1.5h-9zM840,2066.5h6v1.5h-6zM859.5,2066.5h3v1.5h-3zM870,2066.5h1.5v1.5h-1.5zM876,2066.5h3v1.5h-3zM889.5,2066.5h1.5v1.5h-1.5zM894,2066.5h1.5v1.5h-1.5zM904.5,2066.5h3v1.5h-3zM910.5,2066.5h1.5v1.5h-1.5zM918,2066.5h7.5v1.5h-7.5zM928.5,2066.5h1.5v1.5h-1.5zM933,2066.5h4.5v1.5h-4.5zM969,2066.5h3v1.5h-3zM981,2066.5h7.5v1.5h-7.5zM994.5,2066.5h3v1.5h-3zM999,2066.5h1.5v1.5h-1.5zM1003.5,2066.5h1.5v1.5h-1.5zM1012.5,2066.5h3v1.5h-3zM1021.5,2066.5h3v1.5h-3zM1042.5,2066.5h4.5v1.5h-4.5zM1050,2066.5h3v1.5h-3zM1071,2066.5h7.5v1.5h-7.5zM1099.5,2066.5h12v1.5h-12zM1123.5,2066.5h1.5v1.5h-1.5zM1138.5,2066.5h3v1.5h-3zM1162.5,2066.5h1.5v1.5h-1.5zM1168.5,2066.5h4.5v1.5h-4.5zM1203,2066.5h3v1.5h-3zM1221,2066.5h1.5v1.5h-1.5zM1227,2066.5h4.5v1.5h-4.5zM1248,2066.5h1.5v1.5h-1.5zM1275,2066.5h1.5v1.5h-1.5zM1306.5,2066.5h4.5v1.5h-4.5zM429,2068h6v1.5h-6zM441,2068h6v1.5h-6zM457.5,2068h9v1.5h-9zM471,2068h4.5v1.5h-4.5zM478.5,2068h1.5v1.5h-1.5zM486,2068h4.5v1.5h-4.5zM502.5,2068h4.5v1.5h-4.5zM549,2068h3v1.5h-3zM561,2068h6v1.5h-6zM574.5,2068h1.5v1.5h-1.5zM586.5,2068h6v1.5h-6zM598.5,2068h4.5v1.5h-4.5zM610.5,2068h3v1.5h-3zM618,2068h1.5v1.5h-1.5zM636,2068h1.5v1.5h-1.5zM642,2068h1.5v1.5h-1.5zM651,2068h4.5v1.5h-4.5zM681,2068h6v1.5h-6zM688.5,2068h7.5v1.5h-7.5zM703.5,2068h1.5v1.5h-1.5zM712.5,2068h12v1.5h-12zM727.5,2068h12v1.5h-12zM742.5,2068h19.5v1.5h-19.5zM768,2068h10.5v1.5h-10.5zM780,2068h7.5v1.5h-7.5zM789,2068h1.5v1.5h-1.5zM796.5,2068h4.5v1.5h-4.5zM810,2068h7.5v1.5h-7.5zM819,2068h3v1.5h-3zM825,2068h12v1.5h-12zM841.5,2068h3v1.5h-3zM859.5,2068h3v1.5h-3zM868.5,2068h6v1.5h-6zM876,2068h6v1.5h-6zM888,2068h1.5v1.5h-1.5zM903,2068h3v1.5h-3zM919.5,2068h3v1.5h-3zM934.5,2068h3v1.5h-3zM969,2068h3v1.5h-3zM982.5,2068h3v1.5h-3zM987,2068h3v1.5h-3zM994.5,2068h9v1.5h-9zM1008,2068h6v1.5h-6zM1020,2068h7.5v1.5h-7.5zM1030.5,2068h1.5v1.5h-1.5zM1041,2068h6v1.5h-6zM1051.5,2068h1.5v1.5h-1.5zM1063.5,2068h1.5v1.5h-1.5zM1075.5,2068h3v1.5h-3zM1104,2068h4.5v1.5h-4.5zM1122,2068h3v1.5h-3zM1140,2068h3v1.5h-3zM1162.5,2068h1.5v1.5h-1.5zM1168.5,2068h6v1.5h-6zM1177.5,2068h1.5v1.5h-1.5zM1201.5,2068h4.5v1.5h-4.5zM1215,2068h3v1.5h-3zM1228.5,2068h3v1.5h-3zM1275,2068h1.5v1.5h-1.5zM1297.5,2068h3v1.5h-3zM1303.5,2068h1.5v1.5h-1.5zM432,2069.5h4.5v1.5h-4.5zM441,2069.5h6v1.5h-6zM459,2069.5h16.5v1.5h-16.5zM478.5,2069.5h4.5v1.5h-4.5zM486,2069.5h6v1.5h-6zM504,2069.5h1.5v1.5h-1.5zM535.5,2069.5h1.5v1.5h-1.5zM546,2069.5h9v1.5h-9zM561,2069.5h1.5v1.5h-1.5zM564,2069.5h1.5v1.5h-1.5zM586.5,2069.5h6v1.5h-6zM607.5,2069.5h16.5v1.5h-16.5zM634.5,2069.5h3v1.5h-3zM651,2069.5h6v1.5h-6zM663,2069.5h1.5v1.5h-1.5zM672,2069.5h1.5v1.5h-1.5zM682.5,2069.5h4.5v1.5h-4.5zM690,2069.5h6v1.5h-6zM697.5,2069.5h3v1.5h-3zM705,2069.5h6v1.5h-6zM712.5,2069.5h12v1.5h-12zM727.5,2069.5h24v1.5h-24zM753,2069.5h7.5v1.5h-7.5zM769.5,2069.5h6v1.5h-6zM777,2069.5h10.5v1.5h-10.5zM796.5,2069.5h3v1.5h-3zM810,2069.5h4.5v1.5h-4.5zM817.5,2069.5h4.5v1.5h-4.5zM825,2069.5h3v1.5h-3zM829.5,2069.5h6v1.5h-6zM850.5,2069.5h3v1.5h-3zM859.5,2069.5h1.5v1.5h-1.5zM865.5,2069.5h10.5v1.5h-10.5zM877.5,2069.5h12v1.5h-12zM897,2069.5h3v1.5h-3zM901.5,2069.5h4.5v1.5h-4.5zM910.5,2069.5h3v1.5h-3zM921,2069.5h1.5v1.5h-1.5zM934.5,2069.5h4.5v1.5h-4.5zM967.5,2069.5h4.5v1.5h-4.5zM987,2069.5h3v1.5h-3zM993,2069.5h4.5v1.5h-4.5zM999,2069.5h1.5v1.5h-1.5zM1008,2069.5h6v1.5h-6zM1023,2069.5h9v1.5h-9zM1042.5,2069.5h4.5v1.5h-4.5zM1051.5,2069.5h1.5v1.5h-1.5zM1059,2069.5h3v1.5h-3zM1096.5,2069.5h1.5v1.5h-1.5zM1104,2069.5h3v1.5h-3zM1113,2069.5h3v1.5h-3zM1122,2069.5h1.5v1.5h-1.5zM1132.5,2069.5h1.5v1.5h-1.5zM1140,2069.5h9v1.5h-9zM1161,2069.5h4.5v1.5h-4.5zM1167,2069.5h7.5v1.5h-7.5zM1176,2069.5h3v1.5h-3zM1194,2069.5h3v1.5h-3zM1213.5,2069.5h4.5v1.5h-4.5zM1228.5,2069.5h1.5v1.5h-1.5zM1297.5,2069.5h3v1.5h-3zM1317,2069.5h1.5v1.5h-1.5zM363,2071h3v1.5h-3zM433.5,2071h4.5v1.5h-4.5zM462,2071h3v1.5h-3zM466.5,2071h9v1.5h-9zM480,2071h1.5v1.5h-1.5zM486,2071h6v1.5h-6zM504,2071h1.5v1.5h-1.5zM534,2071h4.5v1.5h-4.5zM546,2071h3v1.5h-3zM552,2071h3v1.5h-3zM564,2071h3v1.5h-3zM588,2071h4.5v1.5h-4.5zM610.5,2071h13.5v1.5h-13.5zM627,2071h1.5v1.5h-1.5zM670.5,2071h3v1.5h-3zM684,2071h1.5v1.5h-1.5zM690,2071h6v1.5h-6zM706.5,2071h4.5v1.5h-4.5zM712.5,2071h10.5v1.5h-10.5zM727.5,2071h22.5v1.5h-22.5zM754.5,2071h7.5v1.5h-7.5zM769.5,2071h18v1.5h-18zM789,2071h3v1.5h-3zM795,2071h3v1.5h-3zM807,2071h6v1.5h-6zM817.5,2071h9v1.5h-9zM829.5,2071h6v1.5h-6zM843,2071h3v1.5h-3zM849,2071h7.5v1.5h-7.5zM870,2071h1.5v1.5h-1.5zM874.5,2071h13.5v1.5h-13.5zM895.5,2071h3v1.5h-3zM900,2071h7.5v1.5h-7.5zM912,2071h4.5v1.5h-4.5zM933,2071h6v1.5h-6zM940.5,2071h1.5v1.5h-1.5zM948,2071h3v1.5h-3zM964.5,2071h4.5v1.5h-4.5zM988.5,2071h6v1.5h-6zM1008,2071h6v1.5h-6zM1024.5,2071h7.5v1.5h-7.5zM1045.5,2071h3v1.5h-3zM1057.5,2071h4.5v1.5h-4.5zM1074,2071h3v1.5h-3zM1084.5,2071h4.5v1.5h-4.5zM1096.5,2071h3v1.5h-3zM1104,2071h1.5v1.5h-1.5zM1111.5,2071h4.5v1.5h-4.5zM1144.5,2071h9v1.5h-9zM1158,2071h1.5v1.5h-1.5zM1162.5,2071h16.5v1.5h-16.5zM1194,2071h3v1.5h-3zM1215,2071h3v1.5h-3zM1267.5,2071h1.5v1.5h-1.5zM1276.5,2071h3v1.5h-3zM1291.5,2071h1.5v1.5h-1.5zM1299,2071h3v1.5h-3zM1309.5,2071h1.5v1.5h-1.5zM1317,2071h1.5v1.5h-1.5zM435,2072.5h1.5v1.5h-1.5zM463.5,2072.5h1.5v1.5h-1.5zM468,2072.5h1.5v1.5h-1.5zM472.5,2072.5h4.5v1.5h-4.5zM486,2072.5h6v1.5h-6zM508.5,2072.5h1.5v1.5h-1.5zM532.5,2072.5h7.5v1.5h-7.5zM544.5,2072.5h4.5v1.5h-4.5zM552,2072.5h4.5v1.5h-4.5zM564,2072.5h9v1.5h-9zM576,2072.5h3v1.5h-3zM586.5,2072.5h4.5v1.5h-4.5zM615,2072.5h7.5v1.5h-7.5zM625.5,2072.5h6v1.5h-6zM643.5,2072.5h3v1.5h-3zM648,2072.5h6v1.5h-6zM655.5,2072.5h1.5v1.5h-1.5zM669,2072.5h3v1.5h-3zM690,2072.5h6v1.5h-6zM706.5,2072.5h4.5v1.5h-4.5zM712.5,2072.5h12v1.5h-12zM727.5,2072.5h10.5v1.5h-10.5zM741,2072.5h9v1.5h-9zM754.5,2072.5h9v1.5h-9zM768,2072.5h1.5v1.5h-1.5zM771,2072.5h21v1.5h-21zM795,2072.5h3v1.5h-3zM801,2072.5h1.5v1.5h-1.5zM807,2072.5h7.5v1.5h-7.5zM816,2072.5h12v1.5h-12zM829.5,2072.5h9v1.5h-9zM843,2072.5h1.5v1.5h-1.5zM850.5,2072.5h9v1.5h-9zM874.5,2072.5h4.5v1.5h-4.5zM883.5,2072.5h3v1.5h-3zM891,2072.5h7.5v1.5h-7.5zM900,2072.5h1.5v1.5h-1.5zM913.5,2072.5h3v1.5h-3zM933,2072.5h1.5v1.5h-1.5zM936,2072.5h1.5v1.5h-1.5zM948,2072.5h3v1.5h-3zM981,2072.5h3v1.5h-3zM991.5,2072.5h3v1.5h-3zM997.5,2072.5h3v1.5h-3zM1012.5,2072.5h3v1.5h-3zM1026,2072.5h10.5v1.5h-10.5zM1047,2072.5h1.5v1.5h-1.5zM1056,2072.5h7.5v1.5h-7.5zM1072.5,2072.5h4.5v1.5h-4.5zM1081.5,2072.5h9v1.5h-9zM1096.5,2072.5h3v1.5h-3zM1114.5,2072.5h4.5v1.5h-4.5zM1135.5,2072.5h1.5v1.5h-1.5zM1146,2072.5h7.5v1.5h-7.5zM1165.5,2072.5h15v1.5h-15zM1195.5,2072.5h1.5v1.5h-1.5zM1228.5,2072.5h3v1.5h-3zM1276.5,2072.5h4.5v1.5h-4.5zM1290,2072.5h3v1.5h-3zM1299,2072.5h3v1.5h-3zM1308,2072.5h3v1.5h-3zM450,2074h4.5v1.5h-4.5zM474,2074h3v1.5h-3zM483,2074h3v1.5h-3zM489,2074h4.5v1.5h-4.5zM496.5,2074h6v1.5h-6zM508.5,2074h1.5v1.5h-1.5zM528,2074h1.5v1.5h-1.5zM537,2074h4.5v1.5h-4.5zM543,2074h6v1.5h-6zM552,2074h21v1.5h-21zM574.5,2074h4.5v1.5h-4.5zM616.5,2074h6v1.5h-6zM625.5,2074h12v1.5h-12zM643.5,2074h6v1.5h-6zM651,2074h4.5v1.5h-4.5zM667.5,2074h6v1.5h-6zM682.5,2074h1.5v1.5h-1.5zM688.5,2074h6v1.5h-6zM708,2074h1.5v1.5h-1.5zM712.5,2074h13.5v1.5h-13.5zM727.5,2074h10.5v1.5h-10.5zM741,2074h6v1.5h-6zM751.5,2074h1.5v1.5h-1.5zM754.5,2074h9v1.5h-9zM765,2074h15v1.5h-15zM781.5,2074h9v1.5h-9zM799.5,2074h18v1.5h-18zM820.5,2074h15v1.5h-15zM837,2074h7.5v1.5h-7.5zM850.5,2074h6v1.5h-6zM874.5,2074h3v1.5h-3zM883.5,2074h3v1.5h-3zM891,2074h12v1.5h-12zM913.5,2074h3v1.5h-3zM946.5,2074h6v1.5h-6zM981,2074h4.5v1.5h-4.5zM996,2074h9v1.5h-9zM1012.5,2074h3v1.5h-3zM1026,2074h10.5v1.5h-10.5zM1051.5,2074h1.5v1.5h-1.5zM1056,2074h7.5v1.5h-7.5zM1072.5,2074h18v1.5h-18zM1096.5,2074h4.5v1.5h-4.5zM1116,2074h4.5v1.5h-4.5zM1146,2074h7.5v1.5h-7.5zM1165.5,2074h6v1.5h-6zM1173,2074h6v1.5h-6zM1210.5,2074h6v1.5h-6zM1255.5,2074h3v1.5h-3zM1278,2074h1.5v1.5h-1.5zM1300.5,2074h1.5v1.5h-1.5zM448.5,2075.5h6v1.5h-6zM483,2075.5h3v1.5h-3zM489,2075.5h6v1.5h-6zM496.5,2075.5h6v1.5h-6zM508.5,2075.5h7.5v1.5h-7.5zM537,2075.5h4.5v1.5h-4.5zM543,2075.5h6v1.5h-6zM555,2075.5h4.5v1.5h-4.5zM562.5,2075.5h9v1.5h-9zM576,2075.5h3v1.5h-3zM589.5,2075.5h1.5v1.5h-1.5zM601.5,2075.5h1.5v1.5h-1.5zM612,2075.5h3v1.5h-3zM618,2075.5h4.5v1.5h-4.5zM627,2075.5h12v1.5h-12zM642,2075.5h6v1.5h-6zM667.5,2075.5h6v1.5h-6zM687,2075.5h4.5v1.5h-4.5zM714,2075.5h24v1.5h-24zM742.5,2075.5h3v1.5h-3zM751.5,2075.5h9v1.5h-9zM763.5,2075.5h16.5v1.5h-16.5zM783,2075.5h7.5v1.5h-7.5zM792,2075.5h1.5v1.5h-1.5zM799.5,2075.5h9v1.5h-9zM814.5,2075.5h3v1.5h-3zM822,2075.5h13.5v1.5h-13.5zM837,2075.5h7.5v1.5h-7.5zM852,2075.5h1.5v1.5h-1.5zM870,2075.5h3v1.5h-3zM883.5,2075.5h4.5v1.5h-4.5zM891,2075.5h6v1.5h-6zM898.5,2075.5h6v1.5h-6zM912,2075.5h6v1.5h-6zM931.5,2075.5h3v1.5h-3zM946.5,2075.5h4.5v1.5h-4.5zM982.5,2075.5h1.5v1.5h-1.5zM996,2075.5h10.5v1.5h-10.5zM1011,2075.5h4.5v1.5h-4.5zM1026,2075.5h3v1.5h-3zM1041,2075.5h1.5v1.5h-1.5zM1051.5,2075.5h1.5v1.5h-1.5zM1060.5,2075.5h1.5v1.5h-1.5zM1066.5,2075.5h3v1.5h-3zM1075.5,2075.5h3v1.5h-3zM1095,2075.5h1.5v1.5h-1.5zM1114.5,2075.5h3v1.5h-3zM1146,2075.5h3v1.5h-3zM1159.5,2075.5h1.5v1.5h-1.5zM1168.5,2075.5h3v1.5h-3zM1180.5,2075.5h3v1.5h-3zM1210.5,2075.5h4.5v1.5h-4.5zM1255.5,2075.5h3v1.5h-3zM427.5,2077h1.5v1.5h-1.5zM448.5,2077h4.5v1.5h-4.5zM459,2077h3v1.5h-3zM469.5,2077h3v1.5h-3zM484.5,2077h3v1.5h-3zM489,2077h1.5v1.5h-1.5zM495,2077h7.5v1.5h-7.5zM510,2077h4.5v1.5h-4.5zM516,2077h3v1.5h-3zM523.5,2077h1.5v1.5h-1.5zM537,2077h3v1.5h-3zM562.5,2077h3v1.5h-3zM570,2077h1.5v1.5h-1.5zM576,2077h3v1.5h-3zM582,2077h6v1.5h-6zM589.5,2077h3v1.5h-3zM601.5,2077h1.5v1.5h-1.5zM610.5,2077h4.5v1.5h-4.5zM627,2077h3v1.5h-3zM631.5,2077h7.5v1.5h-7.5zM643.5,2077h3v1.5h-3zM669,2077h4.5v1.5h-4.5zM679.5,2077h4.5v1.5h-4.5zM694.5,2077h1.5v1.5h-1.5zM708,2077h4.5v1.5h-4.5zM718.5,2077h7.5v1.5h-7.5zM729,2077h9v1.5h-9zM739.5,2077h4.5v1.5h-4.5zM745.5,2077h3v1.5h-3zM751.5,2077h28.5v1.5h-28.5zM783,2077h6v1.5h-6zM793.5,2077h1.5v1.5h-1.5zM799.5,2077h9v1.5h-9zM814.5,2077h3v1.5h-3zM826.5,2077h9v1.5h-9zM838.5,2077h9v1.5h-9zM858,2077h9v1.5h-9zM870,2077h1.5v1.5h-1.5zM874.5,2077h3v1.5h-3zM883.5,2077h4.5v1.5h-4.5zM894,2077h1.5v1.5h-1.5zM898.5,2077h10.5v1.5h-10.5zM912,2077h6v1.5h-6zM931.5,2077h1.5v1.5h-1.5zM948,2077h3v1.5h-3zM964.5,2077h1.5v1.5h-1.5zM976.5,2077h1.5v1.5h-1.5zM981,2077h1.5v1.5h-1.5zM996,2077h4.5v1.5h-4.5zM1003.5,2077h12v1.5h-12zM1026,2077h3v1.5h-3zM1045.5,2077h3v1.5h-3zM1075.5,2077h1.5v1.5h-1.5zM1101,2077h3v1.5h-3zM1113,2077h3v1.5h-3zM1158,2077h4.5v1.5h-4.5zM1182,2077h1.5v1.5h-1.5zM1192.5,2077h3v1.5h-3zM1203,2077h1.5v1.5h-1.5zM1210.5,2077h3v1.5h-3zM1254,2077h3v1.5h-3zM1309.5,2077h3v1.5h-3zM420,2078.5h1.5v1.5h-1.5zM442.5,2078.5h4.5v1.5h-4.5zM448.5,2078.5h1.5v1.5h-1.5zM469.5,2078.5h1.5v1.5h-1.5zM480,2078.5h3v1.5h-3zM487.5,2078.5h3v1.5h-3zM510,2078.5h3v1.5h-3zM570,2078.5h3v1.5h-3zM577.5,2078.5h9v1.5h-9zM591,2078.5h1.5v1.5h-1.5zM610.5,2078.5h4.5v1.5h-4.5zM627,2078.5h1.5v1.5h-1.5zM634.5,2078.5h4.5v1.5h-4.5zM678,2078.5h6v1.5h-6zM693,2078.5h3v1.5h-3zM699,2078.5h1.5v1.5h-1.5zM708,2078.5h6v1.5h-6zM718.5,2078.5h7.5v1.5h-7.5zM729,2078.5h45v1.5h-45zM775.5,2078.5h4.5v1.5h-4.5zM783,2078.5h13.5v1.5h-13.5zM801,2078.5h9v1.5h-9zM814.5,2078.5h3v1.5h-3zM820.5,2078.5h1.5v1.5h-1.5zM826.5,2078.5h7.5v1.5h-7.5zM838.5,2078.5h1.5v1.5h-1.5zM841.5,2078.5h7.5v1.5h-7.5zM850.5,2078.5h3v1.5h-3zM858,2078.5h9v1.5h-9zM874.5,2078.5h4.5v1.5h-4.5zM885,2078.5h1.5v1.5h-1.5zM894,2078.5h10.5v1.5h-10.5zM906,2078.5h3v1.5h-3zM912,2078.5h4.5v1.5h-4.5zM943.5,2078.5h4.5v1.5h-4.5zM976.5,2078.5h3v1.5h-3zM985.5,2078.5h1.5v1.5h-1.5zM996,2078.5h4.5v1.5h-4.5zM1003.5,2078.5h7.5v1.5h-7.5zM1015.5,2078.5h1.5v1.5h-1.5zM1027.5,2078.5h1.5v1.5h-1.5zM1045.5,2078.5h3v1.5h-3zM1057.5,2078.5h3v1.5h-3zM1107,2078.5h1.5v1.5h-1.5zM1113,2078.5h1.5v1.5h-1.5zM1128,2078.5h1.5v1.5h-1.5zM1140,2078.5h3v1.5h-3zM1155,2078.5h7.5v1.5h-7.5zM1174.5,2078.5h1.5v1.5h-1.5zM1192.5,2078.5h3v1.5h-3zM1213.5,2078.5h3v1.5h-3zM1219.5,2078.5h3v1.5h-3zM1252.5,2078.5h4.5v1.5h-4.5zM1311,2078.5h1.5v1.5h-1.5zM442.5,2080h4.5v1.5h-4.5zM471,2080h1.5v1.5h-1.5zM480,2080h4.5v1.5h-4.5zM489,2080h3v1.5h-3zM496.5,2080h3v1.5h-3zM510,2080h1.5v1.5h-1.5zM546,2080h1.5v1.5h-1.5zM570,2080h3v1.5h-3zM579,2080h6v1.5h-6zM591,2080h1.5v1.5h-1.5zM607.5,2080h9v1.5h-9zM624,2080h4.5v1.5h-4.5zM636,2080h3v1.5h-3zM651,2080h1.5v1.5h-1.5zM678,2080h4.5v1.5h-4.5zM691.5,2080h4.5v1.5h-4.5zM706.5,2080h9v1.5h-9zM718.5,2080h4.5v1.5h-4.5zM724.5,2080h1.5v1.5h-1.5zM729,2080h19.5v1.5h-19.5zM750,2080h12v1.5h-12zM763.5,2080h9v1.5h-9zM775.5,2080h6v1.5h-6zM783,2080h15v1.5h-15zM808.5,2080h9v1.5h-9zM828,2080h6v1.5h-6zM838.5,2080h6v1.5h-6zM849,2080h4.5v1.5h-4.5zM858,2080h7.5v1.5h-7.5zM871.5,2080h9v1.5h-9zM892.5,2080h7.5v1.5h-7.5zM919.5,2080h1.5v1.5h-1.5zM928.5,2080h3v1.5h-3zM934.5,2080h1.5v1.5h-1.5zM945,2080h1.5v1.5h-1.5zM970.5,2080h1.5v1.5h-1.5zM976.5,2080h3v1.5h-3zM985.5,2080h1.5v1.5h-1.5zM996,2080h4.5v1.5h-4.5zM1002,2080h6v1.5h-6zM1015.5,2080h1.5v1.5h-1.5zM1027.5,2080h1.5v1.5h-1.5zM1033.5,2080h1.5v1.5h-1.5zM1054.5,2080h7.5v1.5h-7.5zM1105.5,2080h3v1.5h-3zM1113,2080h9v1.5h-9zM1128,2080h1.5v1.5h-1.5zM1132.5,2080h4.5v1.5h-4.5zM1141.5,2080h1.5v1.5h-1.5zM1152,2080h1.5v1.5h-1.5zM1159.5,2080h1.5v1.5h-1.5zM1191,2080h6v1.5h-6zM1212,2080h12v1.5h-12zM1249.5,2080h1.5v1.5h-1.5zM1254,2080h3v1.5h-3zM1294.5,2080h3v1.5h-3zM442.5,2081.5h4.5v1.5h-4.5zM453,2081.5h3v1.5h-3zM471,2081.5h1.5v1.5h-1.5zM483,2081.5h1.5v1.5h-1.5zM490.5,2081.5h3v1.5h-3zM496.5,2081.5h4.5v1.5h-4.5zM528,2081.5h1.5v1.5h-1.5zM549,2081.5h3v1.5h-3zM570,2081.5h4.5v1.5h-4.5zM591,2081.5h3v1.5h-3zM600,2081.5h3v1.5h-3zM607.5,2081.5h4.5v1.5h-4.5zM613.5,2081.5h1.5v1.5h-1.5zM624,2081.5h3v1.5h-3zM639,2081.5h1.5v1.5h-1.5zM649.5,2081.5h4.5v1.5h-4.5zM657,2081.5h3v1.5h-3zM673.5,2081.5h9v1.5h-9zM691.5,2081.5h4.5v1.5h-4.5zM705,2081.5h4.5v1.5h-4.5zM712.5,2081.5h3v1.5h-3zM718.5,2081.5h6v1.5h-6zM733.5,2081.5h4.5v1.5h-4.5zM741,2081.5h7.5v1.5h-7.5zM750,2081.5h7.5v1.5h-7.5zM759,2081.5h4.5v1.5h-4.5zM768,2081.5h4.5v1.5h-4.5zM775.5,2081.5h4.5v1.5h-4.5zM781.5,2081.5h6v1.5h-6zM790.5,2081.5h7.5v1.5h-7.5zM799.5,2081.5h1.5v1.5h-1.5zM810,2081.5h7.5v1.5h-7.5zM826.5,2081.5h7.5v1.5h-7.5zM838.5,2081.5h6v1.5h-6zM849,2081.5h6v1.5h-6zM859.5,2081.5h3v1.5h-3zM871.5,2081.5h4.5v1.5h-4.5zM879,2081.5h3v1.5h-3zM891,2081.5h9v1.5h-9zM903,2081.5h1.5v1.5h-1.5zM928.5,2081.5h3v1.5h-3zM949.5,2081.5h1.5v1.5h-1.5zM990,2081.5h3v1.5h-3zM996,2081.5h12v1.5h-12zM1027.5,2081.5h1.5v1.5h-1.5zM1032,2081.5h3v1.5h-3zM1056,2081.5h7.5v1.5h-7.5zM1083,2081.5h6v1.5h-6zM1098,2081.5h1.5v1.5h-1.5zM1102.5,2081.5h19.5v1.5h-19.5zM1132.5,2081.5h4.5v1.5h-4.5zM1164,2081.5h7.5v1.5h-7.5zM1179,2081.5h1.5v1.5h-1.5zM1189.5,2081.5h7.5v1.5h-7.5zM1212,2081.5h10.5v1.5h-10.5zM1249.5,2081.5h1.5v1.5h-1.5zM403.5,2083h3v1.5h-3zM442.5,2083h1.5v1.5h-1.5zM445.5,2083h9v1.5h-9zM460.5,2083h1.5v1.5h-1.5zM492,2083h3v1.5h-3zM507,2083h1.5v1.5h-1.5zM528,2083h1.5v1.5h-1.5zM549,2083h4.5v1.5h-4.5zM565.5,2083h10.5v1.5h-10.5zM591,2083h6v1.5h-6zM601.5,2083h3v1.5h-3zM607.5,2083h3v1.5h-3zM649.5,2083h4.5v1.5h-4.5zM666,2083h1.5v1.5h-1.5zM679.5,2083h3v1.5h-3zM690,2083h6v1.5h-6zM705,2083h4.5v1.5h-4.5zM718.5,2083h6v1.5h-6zM732,2083h6v1.5h-6zM741,2083h6v1.5h-6zM750,2083h6v1.5h-6zM768,2083h4.5v1.5h-4.5zM781.5,2083h15v1.5h-15zM798,2083h4.5v1.5h-4.5zM808.5,2083h6v1.5h-6zM828,2083h6v1.5h-6zM838.5,2083h7.5v1.5h-7.5zM849,2083h3v1.5h-3zM853.5,2083h4.5v1.5h-4.5zM871.5,2083h4.5v1.5h-4.5zM879,2083h3v1.5h-3zM891,2083h3v1.5h-3zM897,2083h9v1.5h-9zM928.5,2083h3v1.5h-3zM957,2083h1.5v1.5h-1.5zM990,2083h6v1.5h-6zM997.5,2083h10.5v1.5h-10.5zM1012.5,2083h3v1.5h-3zM1042.5,2083h1.5v1.5h-1.5zM1081.5,2083h7.5v1.5h-7.5zM1105.5,2083h6v1.5h-6zM1113,2083h6v1.5h-6zM1120.5,2083h3v1.5h-3zM1132.5,2083h4.5v1.5h-4.5zM1143,2083h1.5v1.5h-1.5zM1164,2083h3v1.5h-3zM1168.5,2083h3v1.5h-3zM1179,2083h1.5v1.5h-1.5zM1188,2083h7.5v1.5h-7.5zM1213.5,2083h6v1.5h-6zM1290,2083h3v1.5h-3zM447,2084.5h7.5v1.5h-7.5zM459,2084.5h3v1.5h-3zM477,2084.5h4.5v1.5h-4.5zM492,2084.5h4.5v1.5h-4.5zM507,2084.5h7.5v1.5h-7.5zM526.5,2084.5h1.5v1.5h-1.5zM549,2084.5h4.5v1.5h-4.5zM564,2084.5h4.5v1.5h-4.5zM574.5,2084.5h6v1.5h-6zM594,2084.5h3v1.5h-3zM607.5,2084.5h6v1.5h-6zM615,2084.5h4.5v1.5h-4.5zM621,2084.5h3v1.5h-3zM636,2084.5h1.5v1.5h-1.5zM648,2084.5h3v1.5h-3zM667.5,2084.5h1.5v1.5h-1.5zM685.5,2084.5h12v1.5h-12zM709.5,2084.5h3v1.5h-3zM717,2084.5h9v1.5h-9zM732,2084.5h6v1.5h-6zM741,2084.5h6v1.5h-6zM763.5,2084.5h13.5v1.5h-13.5zM783,2084.5h10.5v1.5h-10.5zM799.5,2084.5h3v1.5h-3zM807,2084.5h7.5v1.5h-7.5zM820.5,2084.5h3v1.5h-3zM841.5,2084.5h10.5v1.5h-10.5zM853.5,2084.5h4.5v1.5h-4.5zM879,2084.5h3v1.5h-3zM885,2084.5h1.5v1.5h-1.5zM897,2084.5h4.5v1.5h-4.5zM906,2084.5h4.5v1.5h-4.5zM925.5,2084.5h9v1.5h-9zM957,2084.5h1.5v1.5h-1.5zM984,2084.5h3v1.5h-3zM990,2084.5h4.5v1.5h-4.5zM997.5,2084.5h9v1.5h-9zM1012.5,2084.5h4.5v1.5h-4.5zM1042.5,2084.5h1.5v1.5h-1.5zM1081.5,2084.5h4.5v1.5h-4.5zM1110,2084.5h1.5v1.5h-1.5zM1113,2084.5h4.5v1.5h-4.5zM1120.5,2084.5h4.5v1.5h-4.5zM1134,2084.5h1.5v1.5h-1.5zM1141.5,2084.5h4.5v1.5h-4.5zM1165.5,2084.5h6v1.5h-6zM1188,2084.5h4.5v1.5h-4.5zM1215,2084.5h4.5v1.5h-4.5zM1243.5,2084.5h4.5v1.5h-4.5zM1252.5,2084.5h1.5v1.5h-1.5zM1303.5,2084.5h1.5v1.5h-1.5zM411,2086h1.5v1.5h-1.5zM447,2086h1.5v1.5h-1.5zM460.5,2086h1.5v1.5h-1.5zM471,2086h1.5v1.5h-1.5zM475.5,2086h6v1.5h-6zM492,2086h4.5v1.5h-4.5zM507,2086h7.5v1.5h-7.5zM525,2086h3v1.5h-3zM547.5,2086h4.5v1.5h-4.5zM559.5,2086h1.5v1.5h-1.5zM564,2086h3v1.5h-3zM568.5,2086h3v1.5h-3zM580.5,2086h1.5v1.5h-1.5zM586.5,2086h3v1.5h-3zM604.5,2086h4.5v1.5h-4.5zM610.5,2086h7.5v1.5h-7.5zM621,2086h1.5v1.5h-1.5zM634.5,2086h4.5v1.5h-4.5zM646.5,2086h4.5v1.5h-4.5zM685.5,2086h16.5v1.5h-16.5zM703.5,2086h3v1.5h-3zM709.5,2086h4.5v1.5h-4.5zM717,2086h31.5v1.5h-31.5zM759,2086h19.5v1.5h-19.5zM784.5,2086h7.5v1.5h-7.5zM810,2086h4.5v1.5h-4.5zM820.5,2086h3v1.5h-3zM843,2086h4.5v1.5h-4.5zM855,2086h1.5v1.5h-1.5zM874.5,2086h6v1.5h-6zM885,2086h4.5v1.5h-4.5zM897,2086h1.5v1.5h-1.5zM906,2086h1.5v1.5h-1.5zM925.5,2086h9v1.5h-9zM945,2086h1.5v1.5h-1.5zM984,2086h3v1.5h-3zM990,2086h4.5v1.5h-4.5zM996,2086h10.5v1.5h-10.5zM1012.5,2086h3v1.5h-3zM1029,2086h1.5v1.5h-1.5zM1038,2086h1.5v1.5h-1.5zM1042.5,2086h4.5v1.5h-4.5zM1051.5,2086h6v1.5h-6zM1069.5,2086h4.5v1.5h-4.5zM1081.5,2086h3v1.5h-3zM1090.5,2086h6v1.5h-6zM1108.5,2086h3v1.5h-3zM1113,2086h1.5v1.5h-1.5zM1120.5,2086h4.5v1.5h-4.5zM1141.5,2086h4.5v1.5h-4.5zM1165.5,2086h4.5v1.5h-4.5zM1188,2086h3v1.5h-3zM1207.5,2086h1.5v1.5h-1.5zM1228.5,2086h1.5v1.5h-1.5zM1237.5,2086h1.5v1.5h-1.5zM1245,2086h1.5v1.5h-1.5zM1252.5,2086h1.5v1.5h-1.5zM1309.5,2086h3v1.5h-3zM363,2087.5h1.5v1.5h-1.5zM400.5,2087.5h1.5v1.5h-1.5zM411,2087.5h1.5v1.5h-1.5zM429,2087.5h3v1.5h-3zM445.5,2087.5h1.5v1.5h-1.5zM459,2087.5h3v1.5h-3zM469.5,2087.5h12v1.5h-12zM492,2087.5h4.5v1.5h-4.5zM508.5,2087.5h6v1.5h-6zM538.5,2087.5h1.5v1.5h-1.5zM549,2087.5h1.5v1.5h-1.5zM567,2087.5h6v1.5h-6zM585,2087.5h3v1.5h-3zM604.5,2087.5h9v1.5h-9zM634.5,2087.5h1.5v1.5h-1.5zM639,2087.5h1.5v1.5h-1.5zM646.5,2087.5h3v1.5h-3zM669,2087.5h1.5v1.5h-1.5zM684,2087.5h4.5v1.5h-4.5zM690,2087.5h12v1.5h-12zM703.5,2087.5h1.5v1.5h-1.5zM711,2087.5h3v1.5h-3zM717,2087.5h12v1.5h-12zM732,2087.5h18v1.5h-18zM759,2087.5h10.5v1.5h-10.5zM771,2087.5h9v1.5h-9zM783,2087.5h9v1.5h-9zM799.5,2087.5h3v1.5h-3zM810,2087.5h6v1.5h-6zM820.5,2087.5h3v1.5h-3zM829.5,2087.5h6v1.5h-6zM843,2087.5h4.5v1.5h-4.5zM855,2087.5h3v1.5h-3zM874.5,2087.5h6v1.5h-6zM886.5,2087.5h3v1.5h-3zM903,2087.5h1.5v1.5h-1.5zM934.5,2087.5h3v1.5h-3zM939,2087.5h1.5v1.5h-1.5zM943.5,2087.5h9v1.5h-9zM985.5,2087.5h4.5v1.5h-4.5zM996,2087.5h3v1.5h-3zM1003.5,2087.5h1.5v1.5h-1.5zM1011,2087.5h3v1.5h-3zM1018.5,2087.5h3v1.5h-3zM1029,2087.5h3v1.5h-3zM1035,2087.5h4.5v1.5h-4.5zM1051.5,2087.5h6v1.5h-6zM1066.5,2087.5h6v1.5h-6zM1075.5,2087.5h4.5v1.5h-4.5zM1090.5,2087.5h6v1.5h-6zM1107,2087.5h7.5v1.5h-7.5zM1120.5,2087.5h3v1.5h-3zM1138.5,2087.5h7.5v1.5h-7.5zM1179,2087.5h1.5v1.5h-1.5zM1201.5,2087.5h1.5v1.5h-1.5zM1236,2087.5h3v1.5h-3zM1258.5,2087.5h3v1.5h-3zM1285.5,2087.5h3v1.5h-3zM1308,2087.5h4.5v1.5h-4.5zM429,2089h3v1.5h-3zM444,2089h3v1.5h-3zM468,2089h7.5v1.5h-7.5zM478.5,2089h4.5v1.5h-4.5zM538.5,2089h1.5v1.5h-1.5zM567,2089h4.5v1.5h-4.5zM585,2089h3v1.5h-3zM604.5,2089h9v1.5h-9zM615,2089h6v1.5h-6zM640.5,2089h9v1.5h-9zM652.5,2089h6v1.5h-6zM667.5,2089h4.5v1.5h-4.5zM682.5,2089h6v1.5h-6zM691.5,2089h4.5v1.5h-4.5zM699,2089h1.5v1.5h-1.5zM711,2089h13.5v1.5h-13.5zM726,2089h1.5v1.5h-1.5zM732,2089h6v1.5h-6zM741,2089h10.5v1.5h-10.5zM754.5,2089h3v1.5h-3zM762,2089h7.5v1.5h-7.5zM772.5,2089h6v1.5h-6zM783,2089h9v1.5h-9zM795,2089h6v1.5h-6zM810,2089h6v1.5h-6zM822,2089h1.5v1.5h-1.5zM828,2089h7.5v1.5h-7.5zM843,2089h4.5v1.5h-4.5zM855,2089h12v1.5h-12zM901.5,2089h1.5v1.5h-1.5zM907.5,2089h1.5v1.5h-1.5zM912,2089h3v1.5h-3zM934.5,2089h6v1.5h-6zM942,2089h9v1.5h-9zM975,2089h1.5v1.5h-1.5zM987,2089h3v1.5h-3zM996,2089h4.5v1.5h-4.5zM1009.5,2089h3v1.5h-3zM1018.5,2089h3v1.5h-3zM1029,2089h1.5v1.5h-1.5zM1035,2089h4.5v1.5h-4.5zM1047,2089h1.5v1.5h-1.5zM1051.5,2089h6v1.5h-6zM1062,2089h9v1.5h-9zM1074,2089h6v1.5h-6zM1090.5,2089h4.5v1.5h-4.5zM1102.5,2089h1.5v1.5h-1.5zM1108.5,2089h6v1.5h-6zM1120.5,2089h3v1.5h-3zM1131,2089h3v1.5h-3zM1138.5,2089h4.5v1.5h-4.5zM1153.5,2089h3v1.5h-3zM1162.5,2089h1.5v1.5h-1.5zM1179,2089h1.5v1.5h-1.5zM1201.5,2089h3v1.5h-3zM1213.5,2089h1.5v1.5h-1.5zM1225.5,2089h1.5v1.5h-1.5zM1233,2089h6v1.5h-6zM1251,2089h1.5v1.5h-1.5zM1260,2089h1.5v1.5h-1.5zM1285.5,2089h4.5v1.5h-4.5zM1308,2089h4.5v1.5h-4.5zM463.5,2090.5h1.5v1.5h-1.5zM468,2090.5h4.5v1.5h-4.5zM474,2090.5h1.5v1.5h-1.5zM478.5,2090.5h4.5v1.5h-4.5zM487.5,2090.5h3v1.5h-3zM537,2090.5h3v1.5h-3zM606,2090.5h1.5v1.5h-1.5zM609,2090.5h13.5v1.5h-13.5zM642,2090.5h3v1.5h-3zM654,2090.5h3v1.5h-3zM666,2090.5h9v1.5h-9zM676.5,2090.5h3v1.5h-3zM684,2090.5h4.5v1.5h-4.5zM693,2090.5h1.5v1.5h-1.5zM699,2090.5h4.5v1.5h-4.5zM711,2090.5h6v1.5h-6zM720,2090.5h3v1.5h-3zM735,2090.5h1.5v1.5h-1.5zM741,2090.5h4.5v1.5h-4.5zM747,2090.5h10.5v1.5h-10.5zM762,2090.5h7.5v1.5h-7.5zM772.5,2090.5h6v1.5h-6zM783,2090.5h18v1.5h-18zM810,2090.5h7.5v1.5h-7.5zM828,2090.5h9v1.5h-9zM843,2090.5h4.5v1.5h-4.5zM855,2090.5h10.5v1.5h-10.5zM891,2090.5h3v1.5h-3zM901.5,2090.5h1.5v1.5h-1.5zM907.5,2090.5h7.5v1.5h-7.5zM936,2090.5h10.5v1.5h-10.5zM975,2090.5h1.5v1.5h-1.5zM996,2090.5h4.5v1.5h-4.5zM1008,2090.5h1.5v1.5h-1.5zM1015.5,2090.5h9v1.5h-9zM1036.5,2090.5h3v1.5h-3zM1060.5,2090.5h7.5v1.5h-7.5zM1074,2090.5h3v1.5h-3zM1102.5,2090.5h3v1.5h-3zM1108.5,2090.5h4.5v1.5h-4.5zM1120.5,2090.5h3v1.5h-3zM1131,2090.5h4.5v1.5h-4.5zM1153.5,2090.5h1.5v1.5h-1.5zM1162.5,2090.5h1.5v1.5h-1.5zM1168.5,2090.5h1.5v1.5h-1.5zM1191,2090.5h1.5v1.5h-1.5zM1201.5,2090.5h3v1.5h-3zM1233,2090.5h4.5v1.5h-4.5zM1251,2090.5h1.5v1.5h-1.5zM1285.5,2090.5h3v1.5h-3zM1311,2090.5h1.5v1.5h-1.5zM363,2092h1.5v1.5h-1.5zM462,2092h3v1.5h-3zM469.5,2092h3v1.5h-3zM477,2092h6v1.5h-6zM489,2092h3v1.5h-3zM502.5,2092h6v1.5h-6zM511.5,2092h3v1.5h-3zM537,2092h3v1.5h-3zM549,2092h1.5v1.5h-1.5zM564,2092h3v1.5h-3zM573,2092h1.5v1.5h-1.5zM600,2092h1.5v1.5h-1.5zM609,2092h18v1.5h-18zM643.5,2092h1.5v1.5h-1.5zM658.5,2092h15v1.5h-15zM676.5,2092h3v1.5h-3zM685.5,2092h3v1.5h-3zM697.5,2092h6v1.5h-6zM720,2092h3v1.5h-3zM726,2092h3v1.5h-3zM739.5,2092h4.5v1.5h-4.5zM748.5,2092h3v1.5h-3zM754.5,2092h1.5v1.5h-1.5zM762,2092h9v1.5h-9zM775.5,2092h3v1.5h-3zM783,2092h13.5v1.5h-13.5zM798,2092h6v1.5h-6zM807,2092h1.5v1.5h-1.5zM811.5,2092h6v1.5h-6zM826.5,2092h3v1.5h-3zM835.5,2092h1.5v1.5h-1.5zM843,2092h3v1.5h-3zM855,2092h9v1.5h-9zM885,2092h3v1.5h-3zM891,2092h1.5v1.5h-1.5zM898.5,2092h3v1.5h-3zM904.5,2092h9v1.5h-9zM918,2092h3v1.5h-3zM937.5,2092h3v1.5h-3zM996,2092h4.5v1.5h-4.5zM1015.5,2092h10.5v1.5h-10.5zM1027.5,2092h1.5v1.5h-1.5zM1038,2092h1.5v1.5h-1.5zM1060.5,2092h6v1.5h-6zM1072.5,2092h4.5v1.5h-4.5zM1102.5,2092h3v1.5h-3zM1107,2092h7.5v1.5h-7.5zM1122,2092h1.5v1.5h-1.5zM1126.5,2092h3v1.5h-3zM1132.5,2092h7.5v1.5h-7.5zM1167,2092h4.5v1.5h-4.5zM1176,2092h4.5v1.5h-4.5zM1200,2092h3v1.5h-3zM1233,2092h3v1.5h-3zM1272,2092h1.5v1.5h-1.5zM1303.5,2092h1.5v1.5h-1.5zM1308,2092h3v1.5h-3zM435,2093.5h1.5v1.5h-1.5zM447,2093.5h1.5v1.5h-1.5zM465,2093.5h3v1.5h-3zM471,2093.5h1.5v1.5h-1.5zM477,2093.5h3v1.5h-3zM502.5,2093.5h6v1.5h-6zM510,2093.5h4.5v1.5h-4.5zM537,2093.5h3v1.5h-3zM546,2093.5h4.5v1.5h-4.5zM565.5,2093.5h1.5v1.5h-1.5zM573,2093.5h6v1.5h-6zM598.5,2093.5h3v1.5h-3zM609,2093.5h18v1.5h-18zM628.5,2093.5h4.5v1.5h-4.5zM658.5,2093.5h6v1.5h-6zM667.5,2093.5h3v1.5h-3zM684,2093.5h3v1.5h-3zM691.5,2093.5h1.5v1.5h-1.5zM697.5,2093.5h6v1.5h-6zM706.5,2093.5h1.5v1.5h-1.5zM717,2093.5h9v1.5h-9zM729,2093.5h4.5v1.5h-4.5zM735,2093.5h3v1.5h-3zM739.5,2093.5h3v1.5h-3zM756,2093.5h1.5v1.5h-1.5zM763.5,2093.5h7.5v1.5h-7.5zM775.5,2093.5h3v1.5h-3zM787.5,2093.5h16.5v1.5h-16.5zM811.5,2093.5h3v1.5h-3zM828,2093.5h3v1.5h-3zM835.5,2093.5h1.5v1.5h-1.5zM841.5,2093.5h3v1.5h-3zM855,2093.5h9v1.5h-9zM880.5,2093.5h7.5v1.5h-7.5zM897,2093.5h3v1.5h-3zM904.5,2093.5h9v1.5h-9zM918,2093.5h3v1.5h-3zM982.5,2093.5h1.5v1.5h-1.5zM993,2093.5h6v1.5h-6zM1015.5,2093.5h6v1.5h-6zM1023,2093.5h7.5v1.5h-7.5zM1038,2093.5h7.5v1.5h-7.5zM1051.5,2093.5h1.5v1.5h-1.5zM1059,2093.5h4.5v1.5h-4.5zM1072.5,2093.5h6v1.5h-6zM1107,2093.5h1.5v1.5h-1.5zM1122,2093.5h3v1.5h-3zM1140,2093.5h1.5v1.5h-1.5zM1153.5,2093.5h1.5v1.5h-1.5zM1168.5,2093.5h1.5v1.5h-1.5zM1177.5,2093.5h3v1.5h-3zM1198.5,2093.5h4.5v1.5h-4.5zM1270.5,2093.5h4.5v1.5h-4.5zM1302,2093.5h7.5v1.5h-7.5zM378,2095h1.5v1.5h-1.5zM403.5,2095h1.5v1.5h-1.5zM426,2095h1.5v1.5h-1.5zM445.5,2095h3v1.5h-3zM463.5,2095h4.5v1.5h-4.5zM471,2095h1.5v1.5h-1.5zM477,2095h3v1.5h-3zM492,2095h3v1.5h-3zM501,2095h6v1.5h-6zM510,2095h4.5v1.5h-4.5zM537,2095h3v1.5h-3zM546,2095h4.5v1.5h-4.5zM574.5,2095h4.5v1.5h-4.5zM598.5,2095h3v1.5h-3zM612,2095h4.5v1.5h-4.5zM619.5,2095h13.5v1.5h-13.5zM649.5,2095h13.5v1.5h-13.5zM669,2095h1.5v1.5h-1.5zM682.5,2095h3v1.5h-3zM690,2095h7.5v1.5h-7.5zM699,2095h3v1.5h-3zM706.5,2095h1.5v1.5h-1.5zM717,2095h9v1.5h-9zM729,2095h15v1.5h-15zM754.5,2095h3v1.5h-3zM765,2095h4.5v1.5h-4.5zM775.5,2095h3v1.5h-3zM787.5,2095h9v1.5h-9zM814.5,2095h3v1.5h-3zM829.5,2095h1.5v1.5h-1.5zM835.5,2095h9v1.5h-9zM846,2095h1.5v1.5h-1.5zM852,2095h3v1.5h-3zM864,2095h1.5v1.5h-1.5zM867,2095h3v1.5h-3zM879,2095h9v1.5h-9zM895.5,2095h4.5v1.5h-4.5zM903,2095h18v1.5h-18zM928.5,2095h4.5v1.5h-4.5zM952.5,2095h1.5v1.5h-1.5zM957,2095h3v1.5h-3zM981,2095h4.5v1.5h-4.5zM993,2095h3v1.5h-3zM1015.5,2095h4.5v1.5h-4.5zM1026,2095h9v1.5h-9zM1038,2095h6v1.5h-6zM1048.5,2095h4.5v1.5h-4.5zM1059,2095h3v1.5h-3zM1093.5,2095h3v1.5h-3zM1122,2095h3v1.5h-3zM1141.5,2095h1.5v1.5h-1.5zM1150.5,2095h6v1.5h-6zM1162.5,2095h3v1.5h-3zM1186.5,2095h1.5v1.5h-1.5zM1201.5,2095h1.5v1.5h-1.5zM1269,2095h4.5v1.5h-4.5zM1288.5,2095h3v1.5h-3zM1299,2095h9v1.5h-9zM1318.5,2095h3v1.5h-3zM426,2096.5h1.5v1.5h-1.5zM462,2096.5h3v1.5h-3zM477,2096.5h3v1.5h-3zM492,2096.5h1.5v1.5h-1.5zM501,2096.5h3v1.5h-3zM511.5,2096.5h3v1.5h-3zM538.5,2096.5h1.5v1.5h-1.5zM550.5,2096.5h6v1.5h-6zM567,2096.5h3v1.5h-3zM612,2096.5h3v1.5h-3zM627,2096.5h4.5v1.5h-4.5zM649.5,2096.5h15v1.5h-15zM669,2096.5h3v1.5h-3zM682.5,2096.5h3v1.5h-3zM688.5,2096.5h4.5v1.5h-4.5zM694.5,2096.5h1.5v1.5h-1.5zM700.5,2096.5h7.5v1.5h-7.5zM720,2096.5h6v1.5h-6zM730.5,2096.5h6v1.5h-6zM738,2096.5h13.5v1.5h-13.5zM754.5,2096.5h1.5v1.5h-1.5zM763.5,2096.5h6v1.5h-6zM775.5,2096.5h4.5v1.5h-4.5zM789,2096.5h7.5v1.5h-7.5zM816,2096.5h1.5v1.5h-1.5zM838.5,2096.5h4.5v1.5h-4.5zM852,2096.5h1.5v1.5h-1.5zM862.5,2096.5h7.5v1.5h-7.5zM877.5,2096.5h4.5v1.5h-4.5zM883.5,2096.5h3v1.5h-3zM892.5,2096.5h3v1.5h-3zM903,2096.5h9v1.5h-9zM913.5,2096.5h9v1.5h-9zM925.5,2096.5h4.5v1.5h-4.5zM952.5,2096.5h1.5v1.5h-1.5zM958.5,2096.5h1.5v1.5h-1.5zM979.5,2096.5h4.5v1.5h-4.5zM993,2096.5h3v1.5h-3zM1002,2096.5h1.5v1.5h-1.5zM1015.5,2096.5h4.5v1.5h-4.5zM1027.5,2096.5h3v1.5h-3zM1032,2096.5h3v1.5h-3zM1038,2096.5h1.5v1.5h-1.5zM1050,2096.5h3v1.5h-3zM1059,2096.5h3v1.5h-3zM1080,2096.5h1.5v1.5h-1.5zM1092,2096.5h4.5v1.5h-4.5zM1122,2096.5h3v1.5h-3zM1141.5,2096.5h1.5v1.5h-1.5zM1152,2096.5h4.5v1.5h-4.5zM1162.5,2096.5h4.5v1.5h-4.5zM1195.5,2096.5h1.5v1.5h-1.5zM1201.5,2096.5h1.5v1.5h-1.5zM1212,2096.5h3v1.5h-3zM1258.5,2096.5h3v1.5h-3zM1269,2096.5h1.5v1.5h-1.5zM1288.5,2096.5h3v1.5h-3zM1299,2096.5h4.5v1.5h-4.5zM1317,2096.5h4.5v1.5h-4.5zM402,2098h3v1.5h-3zM462,2098h3v1.5h-3zM475.5,2098h3v1.5h-3zM490.5,2098h3v1.5h-3zM511.5,2098h1.5v1.5h-1.5zM552,2098h4.5v1.5h-4.5zM607.5,2098h3v1.5h-3zM619.5,2098h1.5v1.5h-1.5zM628.5,2098h1.5v1.5h-1.5zM639,2098h3v1.5h-3zM654,2098h4.5v1.5h-4.5zM661.5,2098h3v1.5h-3zM669,2098h3v1.5h-3zM688.5,2098h3v1.5h-3zM700.5,2098h7.5v1.5h-7.5zM721.5,2098h4.5v1.5h-4.5zM730.5,2098h4.5v1.5h-4.5zM739.5,2098h12v1.5h-12zM753,2098h15v1.5h-15zM774,2098h1.5v1.5h-1.5zM781.5,2098h3v1.5h-3zM793.5,2098h3v1.5h-3zM807,2098h1.5v1.5h-1.5zM816,2098h1.5v1.5h-1.5zM825,2098h1.5v1.5h-1.5zM834,2098h1.5v1.5h-1.5zM850.5,2098h1.5v1.5h-1.5zM861,2098h3v1.5h-3zM877.5,2098h4.5v1.5h-4.5zM892.5,2098h1.5v1.5h-1.5zM903,2098h6v1.5h-6zM915,2098h7.5v1.5h-7.5zM925.5,2098h4.5v1.5h-4.5zM937.5,2098h1.5v1.5h-1.5zM993,2098h3v1.5h-3zM1002,2098h1.5v1.5h-1.5zM1006.5,2098h1.5v1.5h-1.5zM1015.5,2098h6v1.5h-6zM1038,2098h1.5v1.5h-1.5zM1051.5,2098h1.5v1.5h-1.5zM1057.5,2098h6v1.5h-6zM1075.5,2098h3v1.5h-3zM1090.5,2098h6v1.5h-6zM1120.5,2098h6v1.5h-6zM1152,2098h6v1.5h-6zM1162.5,2098h4.5v1.5h-4.5zM1194,2098h4.5v1.5h-4.5zM1203,2098h4.5v1.5h-4.5zM1212,2098h4.5v1.5h-4.5zM1258.5,2098h3v1.5h-3zM1267.5,2098h4.5v1.5h-4.5zM1282.5,2098h1.5v1.5h-1.5zM1299,2098h3v1.5h-3zM402,2099.5h4.5v1.5h-4.5zM490.5,2099.5h3v1.5h-3zM519,2099.5h1.5v1.5h-1.5zM525,2099.5h1.5v1.5h-1.5zM535.5,2099.5h3v1.5h-3zM604.5,2099.5h6v1.5h-6zM618,2099.5h4.5v1.5h-4.5zM628.5,2099.5h1.5v1.5h-1.5zM639,2099.5h3v1.5h-3zM654,2099.5h4.5v1.5h-4.5zM669,2099.5h3v1.5h-3zM681,2099.5h1.5v1.5h-1.5zM688.5,2099.5h3v1.5h-3zM700.5,2099.5h7.5v1.5h-7.5zM721.5,2099.5h4.5v1.5h-4.5zM730.5,2099.5h4.5v1.5h-4.5zM742.5,2099.5h9v1.5h-9zM753,2099.5h3v1.5h-3zM757.5,2099.5h9v1.5h-9zM781.5,2099.5h3v1.5h-3zM814.5,2099.5h3v1.5h-3zM820.5,2099.5h6v1.5h-6zM834,2099.5h3v1.5h-3zM850.5,2099.5h3v1.5h-3zM856.5,2099.5h6v1.5h-6zM879,2099.5h3v1.5h-3zM898.5,2099.5h3v1.5h-3zM906,2099.5h3v1.5h-3zM915,2099.5h4.5v1.5h-4.5zM925.5,2099.5h7.5v1.5h-7.5zM937.5,2099.5h3v1.5h-3zM955.5,2099.5h1.5v1.5h-1.5zM1005,2099.5h4.5v1.5h-4.5zM1015.5,2099.5h4.5v1.5h-4.5zM1026,2099.5h1.5v1.5h-1.5zM1032,2099.5h3v1.5h-3zM1051.5,2099.5h1.5v1.5h-1.5zM1059,2099.5h4.5v1.5h-4.5zM1077,2099.5h1.5v1.5h-1.5zM1086,2099.5h3v1.5h-3zM1092,2099.5h3v1.5h-3zM1120.5,2099.5h4.5v1.5h-4.5zM1153.5,2099.5h4.5v1.5h-4.5zM1162.5,2099.5h7.5v1.5h-7.5zM1180.5,2099.5h3v1.5h-3zM1195.5,2099.5h3v1.5h-3zM1203,2099.5h4.5v1.5h-4.5zM1212,2099.5h7.5v1.5h-7.5zM1227,2099.5h1.5v1.5h-1.5zM1249.5,2099.5h1.5v1.5h-1.5zM1267.5,2099.5h3v1.5h-3zM1282.5,2099.5h1.5v1.5h-1.5zM1293,2099.5h4.5v1.5h-4.5zM1299,2099.5h3v1.5h-3zM1305,2099.5h1.5v1.5h-1.5zM1323,2099.5h1.5v1.5h-1.5zM403.5,2101h4.5v1.5h-4.5zM414,2101h1.5v1.5h-1.5zM463.5,2101h1.5v1.5h-1.5zM487.5,2101h4.5v1.5h-4.5zM493.5,2101h3v1.5h-3zM519,2101h1.5v1.5h-1.5zM604.5,2101h4.5v1.5h-4.5zM613.5,2101h9v1.5h-9zM634.5,2101h1.5v1.5h-1.5zM651,2101h6v1.5h-6zM672,2101h3v1.5h-3zM681,2101h1.5v1.5h-1.5zM700.5,2101h3v1.5h-3zM706.5,2101h3v1.5h-3zM721.5,2101h4.5v1.5h-4.5zM729,2101h4.5v1.5h-4.5zM742.5,2101h4.5v1.5h-4.5zM753,2101h1.5v1.5h-1.5zM756,2101h12v1.5h-12zM774,2101h1.5v1.5h-1.5zM780,2101h6v1.5h-6zM804,2101h12v1.5h-12zM820.5,2101h4.5v1.5h-4.5zM834,2101h3v1.5h-3zM850.5,2101h3v1.5h-3zM856.5,2101h6v1.5h-6zM898.5,2101h3v1.5h-3zM915,2101h6v1.5h-6zM927,2101h4.5v1.5h-4.5zM937.5,2101h3v1.5h-3zM999,2101h1.5v1.5h-1.5zM1005,2101h7.5v1.5h-7.5zM1024.5,2101h4.5v1.5h-4.5zM1032,2101h1.5v1.5h-1.5zM1060.5,2101h3v1.5h-3zM1090.5,2101h4.5v1.5h-4.5zM1120.5,2101h3v1.5h-3zM1162.5,2101h7.5v1.5h-7.5zM1180.5,2101h3v1.5h-3zM1201.5,2101h6v1.5h-6zM1212,2101h1.5v1.5h-1.5zM1215,2101h4.5v1.5h-4.5zM1225.5,2101h4.5v1.5h-4.5zM1281,2101h3v1.5h-3zM1294.5,2101h1.5v1.5h-1.5zM1305,2101h1.5v1.5h-1.5zM1323,2101h1.5v1.5h-1.5zM403.5,2102.5h4.5v1.5h-4.5zM414,2102.5h4.5v1.5h-4.5zM424.5,2102.5h3v1.5h-3zM436.5,2102.5h1.5v1.5h-1.5zM462,2102.5h4.5v1.5h-4.5zM489,2102.5h3v1.5h-3zM493.5,2102.5h3v1.5h-3zM511.5,2102.5h1.5v1.5h-1.5zM613.5,2102.5h9v1.5h-9zM631.5,2102.5h7.5v1.5h-7.5zM652.5,2102.5h4.5v1.5h-4.5zM673.5,2102.5h1.5v1.5h-1.5zM699,2102.5h1.5v1.5h-1.5zM729,2102.5h3v1.5h-3zM742.5,2102.5h3v1.5h-3zM757.5,2102.5h10.5v1.5h-10.5zM780,2102.5h6v1.5h-6zM792,2102.5h1.5v1.5h-1.5zM804,2102.5h7.5v1.5h-7.5zM813,2102.5h1.5v1.5h-1.5zM837,2102.5h3v1.5h-3zM852,2102.5h3v1.5h-3zM856.5,2102.5h6v1.5h-6zM898.5,2102.5h4.5v1.5h-4.5zM915,2102.5h6v1.5h-6zM999,2102.5h6v1.5h-6zM1006.5,2102.5h10.5v1.5h-10.5zM1026,2102.5h3v1.5h-3zM1032,2102.5h1.5v1.5h-1.5zM1089,2102.5h4.5v1.5h-4.5zM1105.5,2102.5h1.5v1.5h-1.5zM1140,2102.5h3v1.5h-3zM1162.5,2102.5h3v1.5h-3zM1180.5,2102.5h1.5v1.5h-1.5zM1200,2102.5h4.5v1.5h-4.5zM1210.5,2102.5h3v1.5h-3zM1215,2102.5h3v1.5h-3zM1227,2102.5h1.5v1.5h-1.5zM1248,2102.5h1.5v1.5h-1.5zM1279.5,2102.5h4.5v1.5h-4.5zM1293,2102.5h1.5v1.5h-1.5zM1305,2102.5h3v1.5h-3zM402,2104h6v1.5h-6zM415.5,2104h3v1.5h-3zM424.5,2104h4.5v1.5h-4.5zM460.5,2104h7.5v1.5h-7.5zM489,2104h3v1.5h-3zM511.5,2104h3v1.5h-3zM547.5,2104h1.5v1.5h-1.5zM592.5,2104h1.5v1.5h-1.5zM618,2104h4.5v1.5h-4.5zM636,2104h1.5v1.5h-1.5zM645,2104h4.5v1.5h-4.5zM654,2104h1.5v1.5h-1.5zM693,2104h1.5v1.5h-1.5zM708,2104h3v1.5h-3zM757.5,2104h3v1.5h-3zM765,2104h3v1.5h-3zM823.5,2104h3v1.5h-3zM852,2104h3v1.5h-3zM856.5,2104h4.5v1.5h-4.5zM877.5,2104h1.5v1.5h-1.5zM900,2104h3v1.5h-3zM918,2104h1.5v1.5h-1.5zM931.5,2104h1.5v1.5h-1.5zM990,2104h1.5v1.5h-1.5zM999,2104h7.5v1.5h-7.5zM1008,2104h9v1.5h-9zM1026,2104h1.5v1.5h-1.5zM1032,2104h1.5v1.5h-1.5zM1068,2104h3v1.5h-3zM1075.5,2104h3v1.5h-3zM1084.5,2104h1.5v1.5h-1.5zM1128,2104h1.5v1.5h-1.5zM1140,2104h4.5v1.5h-4.5zM1170,2104h3v1.5h-3zM1201.5,2104h3v1.5h-3zM1210.5,2104h3v1.5h-3zM1221,2104h1.5v1.5h-1.5zM1246.5,2104h3v1.5h-3zM1288.5,2104h1.5v1.5h-1.5zM1293,2104h3v1.5h-3zM402,2105.5h4.5v1.5h-4.5zM459,2105.5h7.5v1.5h-7.5zM489,2105.5h3v1.5h-3zM546,2105.5h1.5v1.5h-1.5zM577.5,2105.5h3v1.5h-3zM592.5,2105.5h1.5v1.5h-1.5zM612,2105.5h4.5v1.5h-4.5zM621,2105.5h3v1.5h-3zM645,2105.5h6v1.5h-6zM681,2105.5h3v1.5h-3zM705,2105.5h7.5v1.5h-7.5zM729,2105.5h1.5v1.5h-1.5zM801,2105.5h1.5v1.5h-1.5zM825,2105.5h1.5v1.5h-1.5zM862.5,2105.5h3v1.5h-3zM879,2105.5h3v1.5h-3zM885,2105.5h1.5v1.5h-1.5zM901.5,2105.5h1.5v1.5h-1.5zM985.5,2105.5h7.5v1.5h-7.5zM996,2105.5h3v1.5h-3zM1002,2105.5h4.5v1.5h-4.5zM1026,2105.5h1.5v1.5h-1.5zM1030.5,2105.5h3v1.5h-3zM1063.5,2105.5h7.5v1.5h-7.5zM1074,2105.5h4.5v1.5h-4.5zM1084.5,2105.5h3v1.5h-3zM1093.5,2105.5h4.5v1.5h-4.5zM1116,2105.5h4.5v1.5h-4.5zM1126.5,2105.5h4.5v1.5h-4.5zM1141.5,2105.5h1.5v1.5h-1.5zM1144.5,2105.5h1.5v1.5h-1.5zM1158,2105.5h1.5v1.5h-1.5zM1170,2105.5h3v1.5h-3zM1209,2105.5h3v1.5h-3zM1246.5,2105.5h3v1.5h-3zM1287,2105.5h1.5v1.5h-1.5zM1293,2105.5h1.5v1.5h-1.5zM1317,2105.5h3v1.5h-3zM403.5,2107h9v1.5h-9zM451.5,2107h4.5v1.5h-4.5zM459,2107h6v1.5h-6zM466.5,2107h1.5v1.5h-1.5zM483,2107h3v1.5h-3zM489,2107h3v1.5h-3zM576,2107h4.5v1.5h-4.5zM612,2107h6v1.5h-6zM622.5,2107h3v1.5h-3zM645,2107h9v1.5h-9zM655.5,2107h3v1.5h-3zM666,2107h7.5v1.5h-7.5zM705,2107h1.5v1.5h-1.5zM729,2107h3v1.5h-3zM760.5,2107h6v1.5h-6zM861,2107h6v1.5h-6zM880.5,2107h1.5v1.5h-1.5zM885,2107h3v1.5h-3zM919.5,2107h1.5v1.5h-1.5zM987,2107h1.5v1.5h-1.5zM991.5,2107h6v1.5h-6zM1002,2107h6v1.5h-6zM1024.5,2107h3v1.5h-3zM1032,2107h1.5v1.5h-1.5zM1074,2107h1.5v1.5h-1.5zM1083,2107h3v1.5h-3zM1093.5,2107h4.5v1.5h-4.5zM1105.5,2107h3v1.5h-3zM1126.5,2107h4.5v1.5h-4.5zM1170,2107h3v1.5h-3zM1176,2107h3v1.5h-3zM1197,2107h1.5v1.5h-1.5zM1206,2107h4.5v1.5h-4.5zM1246.5,2107h4.5v1.5h-4.5zM1252.5,2107h3v1.5h-3zM1257,2107h3v1.5h-3zM1317,2107h1.5v1.5h-1.5zM403.5,2108.5h7.5v1.5h-7.5zM451.5,2108.5h4.5v1.5h-4.5zM459,2108.5h4.5v1.5h-4.5zM466.5,2108.5h3v1.5h-3zM474,2108.5h1.5v1.5h-1.5zM483,2108.5h3v1.5h-3zM577.5,2108.5h3v1.5h-3zM598.5,2108.5h1.5v1.5h-1.5zM613.5,2108.5h4.5v1.5h-4.5zM621,2108.5h3v1.5h-3zM643.5,2108.5h15v1.5h-15zM667.5,2108.5h4.5v1.5h-4.5zM687,2108.5h1.5v1.5h-1.5zM729,2108.5h1.5v1.5h-1.5zM757.5,2108.5h15v1.5h-15zM786,2108.5h3v1.5h-3zM861,2108.5h1.5v1.5h-1.5zM886.5,2108.5h1.5v1.5h-1.5zM993,2108.5h4.5v1.5h-4.5zM1002,2108.5h3v1.5h-3zM1024.5,2108.5h9v1.5h-9zM1056,2108.5h3v1.5h-3zM1075.5,2108.5h1.5v1.5h-1.5zM1081.5,2108.5h4.5v1.5h-4.5zM1126.5,2108.5h6v1.5h-6zM1167,2108.5h1.5v1.5h-1.5zM1177.5,2108.5h4.5v1.5h-4.5zM1195.5,2108.5h3v1.5h-3zM1212,2108.5h1.5v1.5h-1.5zM1246.5,2108.5h3v1.5h-3zM1252.5,2108.5h1.5v1.5h-1.5zM1257,2108.5h4.5v1.5h-4.5zM405,2110h3v1.5h-3zM423,2110h1.5v1.5h-1.5zM468,2110h3v1.5h-3zM472.5,2110h1.5v1.5h-1.5zM481.5,2110h3v1.5h-3zM507,2110h1.5v1.5h-1.5zM559.5,2110h1.5v1.5h-1.5zM598.5,2110h3v1.5h-3zM618,2110h4.5v1.5h-4.5zM643.5,2110h3v1.5h-3zM651,2110h7.5v1.5h-7.5zM678,2110h1.5v1.5h-1.5zM687,2110h3v1.5h-3zM715.5,2110h1.5v1.5h-1.5zM754.5,2110h12v1.5h-12zM769.5,2110h4.5v1.5h-4.5zM786,2110h4.5v1.5h-4.5zM792,2110h4.5v1.5h-4.5zM880.5,2110h1.5v1.5h-1.5zM993,2110h4.5v1.5h-4.5zM1023,2110h3v1.5h-3zM1027.5,2110h7.5v1.5h-7.5zM1060.5,2110h1.5v1.5h-1.5zM1081.5,2110h4.5v1.5h-4.5zM1099.5,2110h3v1.5h-3zM1129.5,2110h3v1.5h-3zM1153.5,2110h10.5v1.5h-10.5zM1167,2110h3v1.5h-3zM1177.5,2110h9v1.5h-9zM1195.5,2110h3v1.5h-3zM1221,2110h1.5v1.5h-1.5zM1228.5,2110h1.5v1.5h-1.5zM1285.5,2110h1.5v1.5h-1.5zM406.5,2111.5h1.5v1.5h-1.5zM462,2111.5h3v1.5h-3zM481.5,2111.5h1.5v1.5h-1.5zM486,2111.5h6v1.5h-6zM531,2111.5h1.5v1.5h-1.5zM549,2111.5h1.5v1.5h-1.5zM598.5,2111.5h3v1.5h-3zM618,2111.5h4.5v1.5h-4.5zM651,2111.5h6v1.5h-6zM664.5,2111.5h3v1.5h-3zM669,2111.5h1.5v1.5h-1.5zM676.5,2111.5h4.5v1.5h-4.5zM697.5,2111.5h1.5v1.5h-1.5zM715.5,2111.5h1.5v1.5h-1.5zM754.5,2111.5h4.5v1.5h-4.5zM762,2111.5h3v1.5h-3zM769.5,2111.5h3v1.5h-3zM778.5,2111.5h3v1.5h-3zM787.5,2111.5h13.5v1.5h-13.5zM829.5,2111.5h4.5v1.5h-4.5zM847.5,2111.5h1.5v1.5h-1.5zM871.5,2111.5h1.5v1.5h-1.5zM874.5,2111.5h1.5v1.5h-1.5zM882,2111.5h1.5v1.5h-1.5zM904.5,2111.5h1.5v1.5h-1.5zM994.5,2111.5h1.5v1.5h-1.5zM1023,2111.5h12v1.5h-12zM1060.5,2111.5h3v1.5h-3zM1083,2111.5h1.5v1.5h-1.5zM1116,2111.5h1.5v1.5h-1.5zM1129.5,2111.5h1.5v1.5h-1.5zM1153.5,2111.5h1.5v1.5h-1.5zM1158,2111.5h1.5v1.5h-1.5zM1162.5,2111.5h7.5v1.5h-7.5zM1179,2111.5h3v1.5h-3zM1185,2111.5h4.5v1.5h-4.5zM1201.5,2111.5h6v1.5h-6zM1221,2111.5h3v1.5h-3zM1228.5,2111.5h3v1.5h-3zM1257,2111.5h3v1.5h-3zM1303.5,2111.5h1.5v1.5h-1.5zM429,2113h3v1.5h-3zM460.5,2113h6v1.5h-6zM480,2113h3v1.5h-3zM486,2113h6v1.5h-6zM508.5,2113h3v1.5h-3zM616.5,2113h6v1.5h-6zM648,2113h9v1.5h-9zM664.5,2113h3v1.5h-3zM669,2113h1.5v1.5h-1.5zM675,2113h6v1.5h-6zM688.5,2113h1.5v1.5h-1.5zM729,2113h1.5v1.5h-1.5zM741,2113h6v1.5h-6zM769.5,2113h4.5v1.5h-4.5zM778.5,2113h1.5v1.5h-1.5zM789,2113h6v1.5h-6zM798,2113h3v1.5h-3zM804,2113h4.5v1.5h-4.5zM829.5,2113h4.5v1.5h-4.5zM870,2113h1.5v1.5h-1.5zM877.5,2113h1.5v1.5h-1.5zM882,2113h3v1.5h-3zM904.5,2113h1.5v1.5h-1.5zM1023,2113h7.5v1.5h-7.5zM1032,2113h4.5v1.5h-4.5zM1086,2113h3v1.5h-3zM1116,2113h3v1.5h-3zM1131,2113h1.5v1.5h-1.5zM1152,2113h3v1.5h-3zM1164,2113h1.5v1.5h-1.5zM1177.5,2113h1.5v1.5h-1.5zM1186.5,2113h4.5v1.5h-4.5zM1203,2113h4.5v1.5h-4.5zM1221,2113h3v1.5h-3zM1228.5,2113h1.5v1.5h-1.5zM1257,2113h3v1.5h-3zM1303.5,2113h3v1.5h-3zM1321.5,2113h1.5v1.5h-1.5zM420,2114.5h3v1.5h-3zM426,2114.5h6v1.5h-6zM465,2114.5h4.5v1.5h-4.5zM481.5,2114.5h3v1.5h-3zM487.5,2114.5h1.5v1.5h-1.5zM499.5,2114.5h1.5v1.5h-1.5zM508.5,2114.5h3v1.5h-3zM603,2114.5h1.5v1.5h-1.5zM616.5,2114.5h7.5v1.5h-7.5zM628.5,2114.5h1.5v1.5h-1.5zM646.5,2114.5h7.5v1.5h-7.5zM655.5,2114.5h3v1.5h-3zM675,2114.5h19.5v1.5h-19.5zM741,2114.5h3v1.5h-3zM757.5,2114.5h1.5v1.5h-1.5zM771,2114.5h3v1.5h-3zM777,2114.5h4.5v1.5h-4.5zM790.5,2114.5h3v1.5h-3zM805.5,2114.5h1.5v1.5h-1.5zM814.5,2114.5h1.5v1.5h-1.5zM825,2114.5h1.5v1.5h-1.5zM829.5,2114.5h4.5v1.5h-4.5zM861,2114.5h1.5v1.5h-1.5zM867,2114.5h4.5v1.5h-4.5zM877.5,2114.5h1.5v1.5h-1.5zM883.5,2114.5h3v1.5h-3zM894,2114.5h4.5v1.5h-4.5zM933,2114.5h1.5v1.5h-1.5zM1006.5,2114.5h1.5v1.5h-1.5zM1023,2114.5h7.5v1.5h-7.5zM1084.5,2114.5h4.5v1.5h-4.5zM1152,2114.5h1.5v1.5h-1.5zM1164,2114.5h4.5v1.5h-4.5zM1176,2114.5h3v1.5h-3zM1188,2114.5h3v1.5h-3zM1195.5,2114.5h3v1.5h-3zM1203,2114.5h3v1.5h-3zM1218,2114.5h3v1.5h-3zM1222.5,2114.5h1.5v1.5h-1.5zM1287,2114.5h3v1.5h-3zM1303.5,2114.5h3v1.5h-3zM1320,2114.5h4.5v1.5h-4.5zM406.5,2116h1.5v1.5h-1.5zM418.5,2116h4.5v1.5h-4.5zM426,2116h4.5v1.5h-4.5zM466.5,2116h3v1.5h-3zM475.5,2116h1.5v1.5h-1.5zM481.5,2116h3v1.5h-3zM511.5,2116h3v1.5h-3zM603,2116h1.5v1.5h-1.5zM616.5,2116h3v1.5h-3zM622.5,2116h1.5v1.5h-1.5zM628.5,2116h1.5v1.5h-1.5zM640.5,2116h10.5v1.5h-10.5zM655.5,2116h3v1.5h-3zM663,2116h3v1.5h-3zM675,2116h4.5v1.5h-4.5zM681,2116h6v1.5h-6zM690,2116h3v1.5h-3zM726,2116h3v1.5h-3zM751.5,2116h1.5v1.5h-1.5zM756,2116h4.5v1.5h-4.5zM771,2116h3v1.5h-3zM780,2116h3v1.5h-3zM790.5,2116h1.5v1.5h-1.5zM814.5,2116h3v1.5h-3zM831,2116h3v1.5h-3zM862.5,2116h9v1.5h-9zM876,2116h1.5v1.5h-1.5zM922.5,2116h1.5v1.5h-1.5zM981,2116h1.5v1.5h-1.5zM1011,2116h4.5v1.5h-4.5zM1018.5,2116h1.5v1.5h-1.5zM1023,2116h7.5v1.5h-7.5zM1059,2116h1.5v1.5h-1.5zM1113,2116h1.5v1.5h-1.5zM1164,2116h6v1.5h-6zM1177.5,2116h3v1.5h-3zM1189.5,2116h1.5v1.5h-1.5zM1197,2116h1.5v1.5h-1.5zM1203,2116h3v1.5h-3zM1218,2116h3v1.5h-3zM1234.5,2116h1.5v1.5h-1.5zM1287,2116h3v1.5h-3zM1303.5,2116h1.5v1.5h-1.5zM1320,2116h4.5v1.5h-4.5zM417,2117.5h4.5v1.5h-4.5zM466.5,2117.5h3v1.5h-3zM471,2117.5h7.5v1.5h-7.5zM612,2117.5h1.5v1.5h-1.5zM618,2117.5h1.5v1.5h-1.5zM640.5,2117.5h18v1.5h-18zM663,2117.5h3v1.5h-3zM682.5,2117.5h3v1.5h-3zM699,2117.5h3v1.5h-3zM724.5,2117.5h3v1.5h-3zM748.5,2117.5h4.5v1.5h-4.5zM757.5,2117.5h1.5v1.5h-1.5zM765,2117.5h1.5v1.5h-1.5zM772.5,2117.5h1.5v1.5h-1.5zM781.5,2117.5h1.5v1.5h-1.5zM790.5,2117.5h1.5v1.5h-1.5zM814.5,2117.5h1.5v1.5h-1.5zM828,2117.5h1.5v1.5h-1.5zM843,2117.5h1.5v1.5h-1.5zM862.5,2117.5h4.5v1.5h-4.5zM868.5,2117.5h3v1.5h-3zM1008,2117.5h7.5v1.5h-7.5zM1027.5,2117.5h1.5v1.5h-1.5zM1033.5,2117.5h1.5v1.5h-1.5zM1050,2117.5h1.5v1.5h-1.5zM1164,2117.5h10.5v1.5h-10.5zM1177.5,2117.5h3v1.5h-3zM1182,2117.5h4.5v1.5h-4.5zM1201.5,2117.5h3v1.5h-3zM1218,2117.5h4.5v1.5h-4.5zM1234.5,2117.5h1.5v1.5h-1.5zM1288.5,2117.5h1.5v1.5h-1.5zM414,2119h7.5v1.5h-7.5zM448.5,2119h1.5v1.5h-1.5zM468,2119h6v1.5h-6zM475.5,2119h4.5v1.5h-4.5zM606,2119h3v1.5h-3zM640.5,2119h3v1.5h-3zM649.5,2119h9v1.5h-9zM663,2119h7.5v1.5h-7.5zM678,2119h3v1.5h-3zM697.5,2119h4.5v1.5h-4.5zM712.5,2119h1.5v1.5h-1.5zM730.5,2119h1.5v1.5h-1.5zM744,2119h3v1.5h-3zM772.5,2119h1.5v1.5h-1.5zM853.5,2119h1.5v1.5h-1.5zM862.5,2119h1.5v1.5h-1.5zM1008,2119h6v1.5h-6zM1032,2119h3v1.5h-3zM1060.5,2119h1.5v1.5h-1.5zM1084.5,2119h3v1.5h-3zM1089,2119h4.5v1.5h-4.5zM1153.5,2119h1.5v1.5h-1.5zM1165.5,2119h7.5v1.5h-7.5zM1179,2119h6v1.5h-6zM1200,2119h6v1.5h-6zM1221,2119h1.5v1.5h-1.5zM1234.5,2119h6v1.5h-6zM1288.5,2119h1.5v1.5h-1.5zM412.5,2120.5h3v1.5h-3zM468,2120.5h4.5v1.5h-4.5zM489,2120.5h1.5v1.5h-1.5zM606,2120.5h1.5v1.5h-1.5zM634.5,2120.5h3v1.5h-3zM651,2120.5h9v1.5h-9zM666,2120.5h6v1.5h-6zM678,2120.5h7.5v1.5h-7.5zM697.5,2120.5h3v1.5h-3zM711,2120.5h3v1.5h-3zM730.5,2120.5h3v1.5h-3zM741,2120.5h6v1.5h-6zM771,2120.5h3v1.5h-3zM780,2120.5h4.5v1.5h-4.5zM810,2120.5h1.5v1.5h-1.5zM861,2120.5h1.5v1.5h-1.5zM883.5,2120.5h1.5v1.5h-1.5zM892.5,2120.5h1.5v1.5h-1.5zM987,2120.5h1.5v1.5h-1.5zM1003.5,2120.5h1.5v1.5h-1.5zM1008,2120.5h6v1.5h-6zM1080,2120.5h7.5v1.5h-7.5zM1090.5,2120.5h3v1.5h-3zM1102.5,2120.5h1.5v1.5h-1.5zM1153.5,2120.5h3v1.5h-3zM1168.5,2120.5h4.5v1.5h-4.5zM1180.5,2120.5h3v1.5h-3zM1200,2120.5h1.5v1.5h-1.5zM1203,2120.5h3v1.5h-3zM1221,2120.5h3v1.5h-3zM1236,2120.5h6v1.5h-6zM1282.5,2120.5h1.5v1.5h-1.5zM1291.5,2120.5h1.5v1.5h-1.5zM1306.5,2120.5h4.5v1.5h-4.5zM412.5,2122h1.5v1.5h-1.5zM466.5,2122h4.5v1.5h-4.5zM498,2122h4.5v1.5h-4.5zM634.5,2122h4.5v1.5h-4.5zM651,2122h9v1.5h-9zM669,2122h3v1.5h-3zM679.5,2122h7.5v1.5h-7.5zM694.5,2122h1.5v1.5h-1.5zM711,2122h1.5v1.5h-1.5zM730.5,2122h3v1.5h-3zM741,2122h4.5v1.5h-4.5zM771,2122h10.5v1.5h-10.5zM787.5,2122h4.5v1.5h-4.5zM793.5,2122h1.5v1.5h-1.5zM805.5,2122h1.5v1.5h-1.5zM822,2122h3v1.5h-3zM834,2122h3v1.5h-3zM892.5,2122h1.5v1.5h-1.5zM1008,2122h6v1.5h-6zM1075.5,2122h1.5v1.5h-1.5zM1101,2122h4.5v1.5h-4.5zM1140,2122h1.5v1.5h-1.5zM1153.5,2122h3v1.5h-3zM1168.5,2122h4.5v1.5h-4.5zM1182,2122h1.5v1.5h-1.5zM1188,2122h3v1.5h-3zM1192.5,2122h3v1.5h-3zM1215,2122h1.5v1.5h-1.5zM1219.5,2122h9v1.5h-9zM1239,2122h4.5v1.5h-4.5zM1249.5,2122h4.5v1.5h-4.5zM1306.5,2122h4.5v1.5h-4.5zM414,2123.5h1.5v1.5h-1.5zM463.5,2123.5h6v1.5h-6zM484.5,2123.5h4.5v1.5h-4.5zM496.5,2123.5h3v1.5h-3zM612,2123.5h4.5v1.5h-4.5zM669,2123.5h3v1.5h-3zM679.5,2123.5h3v1.5h-3zM685.5,2123.5h3v1.5h-3zM730.5,2123.5h3v1.5h-3zM742.5,2123.5h1.5v1.5h-1.5zM772.5,2123.5h9v1.5h-9zM787.5,2123.5h9v1.5h-9zM805.5,2123.5h3v1.5h-3zM834,2123.5h6v1.5h-6zM879,2123.5h3v1.5h-3zM892.5,2123.5h3v1.5h-3zM903,2123.5h1.5v1.5h-1.5zM993,2123.5h4.5v1.5h-4.5zM1008,2123.5h6v1.5h-6zM1038,2123.5h3v1.5h-3zM1056,2123.5h3v1.5h-3zM1095,2123.5h1.5v1.5h-1.5zM1114.5,2123.5h1.5v1.5h-1.5zM1140,2123.5h1.5v1.5h-1.5zM1152,2123.5h3v1.5h-3zM1164,2123.5h10.5v1.5h-10.5zM1180.5,2123.5h3v1.5h-3zM1186.5,2123.5h10.5v1.5h-10.5zM1213.5,2123.5h7.5v1.5h-7.5zM1224,2123.5h3v1.5h-3zM1239,2123.5h6v1.5h-6zM1249.5,2123.5h4.5v1.5h-4.5zM1306.5,2123.5h3v1.5h-3zM480,2125h3v1.5h-3zM486,2125h3v1.5h-3zM612,2125h4.5v1.5h-4.5zM669,2125h1.5v1.5h-1.5zM685.5,2125h3v1.5h-3zM730.5,2125h4.5v1.5h-4.5zM772.5,2125h7.5v1.5h-7.5zM783,2125h1.5v1.5h-1.5zM787.5,2125h12v1.5h-12zM805.5,2125h1.5v1.5h-1.5zM834,2125h4.5v1.5h-4.5zM846,2125h9v1.5h-9zM876,2125h7.5v1.5h-7.5zM892.5,2125h3v1.5h-3zM934.5,2125h1.5v1.5h-1.5zM993,2125h4.5v1.5h-4.5zM1008,2125h6v1.5h-6zM1029,2125h3v1.5h-3zM1036.5,2125h3v1.5h-3zM1095,2125h1.5v1.5h-1.5zM1132.5,2125h1.5v1.5h-1.5zM1150.5,2125h3v1.5h-3zM1164,2125h3v1.5h-3zM1170,2125h4.5v1.5h-4.5zM1176,2125h6v1.5h-6zM1188,2125h1.5v1.5h-1.5zM1191,2125h1.5v1.5h-1.5zM1195.5,2125h3v1.5h-3zM1206,2125h1.5v1.5h-1.5zM1213.5,2125h3v1.5h-3zM1218,2125h3v1.5h-3zM1231.5,2125h1.5v1.5h-1.5zM1261.5,2125h3v1.5h-3zM1278,2125h1.5v1.5h-1.5zM1285.5,2125h1.5v1.5h-1.5zM1305,2125h1.5v1.5h-1.5zM1315.5,2125h1.5v1.5h-1.5zM441,2126.5h3v1.5h-3zM478.5,2126.5h6v1.5h-6zM607.5,2126.5h3v1.5h-3zM612,2126.5h4.5v1.5h-4.5zM627,2126.5h1.5v1.5h-1.5zM654,2126.5h1.5v1.5h-1.5zM669,2126.5h3v1.5h-3zM687,2126.5h3v1.5h-3zM739.5,2126.5h1.5v1.5h-1.5zM742.5,2126.5h9v1.5h-9zM768,2126.5h10.5v1.5h-10.5zM789,2126.5h9v1.5h-9zM834,2126.5h1.5v1.5h-1.5zM844.5,2126.5h12v1.5h-12zM876,2126.5h1.5v1.5h-1.5zM988.5,2126.5h3v1.5h-3zM994.5,2126.5h3v1.5h-3zM1009.5,2126.5h3v1.5h-3zM1027.5,2126.5h3v1.5h-3zM1062,2126.5h1.5v1.5h-1.5zM1096.5,2126.5h4.5v1.5h-4.5zM1131,2126.5h3v1.5h-3zM1156.5,2126.5h3v1.5h-3zM1164,2126.5h1.5v1.5h-1.5zM1197,2126.5h1.5v1.5h-1.5zM1206,2126.5h1.5v1.5h-1.5zM1216.5,2126.5h4.5v1.5h-4.5zM1230,2126.5h3v1.5h-3zM1261.5,2126.5h4.5v1.5h-4.5zM1276.5,2126.5h3v1.5h-3zM1284,2126.5h4.5v1.5h-4.5zM1303.5,2126.5h3v1.5h-3zM1314,2126.5h6v1.5h-6zM441,2128h1.5v1.5h-1.5zM448.5,2128h1.5v1.5h-1.5zM478.5,2128h4.5v1.5h-4.5zM495,2128h1.5v1.5h-1.5zM607.5,2128h9v1.5h-9zM625.5,2128h3v1.5h-3zM634.5,2128h1.5v1.5h-1.5zM654,2128h1.5v1.5h-1.5zM669,2128h4.5v1.5h-4.5zM687,2128h3v1.5h-3zM738,2128h7.5v1.5h-7.5zM750,2128h3v1.5h-3zM769.5,2128h9v1.5h-9zM841.5,2128h7.5v1.5h-7.5zM850.5,2128h4.5v1.5h-4.5zM858,2128h4.5v1.5h-4.5zM871.5,2128h1.5v1.5h-1.5zM925.5,2128h3v1.5h-3zM988.5,2128h1.5v1.5h-1.5zM994.5,2128h3v1.5h-3zM1029,2128h1.5v1.5h-1.5zM1098,2128h1.5v1.5h-1.5zM1117.5,2128h4.5v1.5h-4.5zM1126.5,2128h3v1.5h-3zM1212,2128h7.5v1.5h-7.5zM1228.5,2128h3v1.5h-3zM1270.5,2128h3v1.5h-3zM1284,2128h3v1.5h-3zM1312.5,2128h7.5v1.5h-7.5zM436.5,2129.5h3v1.5h-3zM444,2129.5h1.5v1.5h-1.5zM448.5,2129.5h1.5v1.5h-1.5zM490.5,2129.5h4.5v1.5h-4.5zM609,2129.5h4.5v1.5h-4.5zM624,2129.5h4.5v1.5h-4.5zM634.5,2129.5h1.5v1.5h-1.5zM666,2129.5h3v1.5h-3zM687,2129.5h1.5v1.5h-1.5zM750,2129.5h3v1.5h-3zM756,2129.5h1.5v1.5h-1.5zM762,2129.5h1.5v1.5h-1.5zM769.5,2129.5h4.5v1.5h-4.5zM775.5,2129.5h3v1.5h-3zM792,2129.5h1.5v1.5h-1.5zM841.5,2129.5h3v1.5h-3zM870,2129.5h3v1.5h-3zM993,2129.5h4.5v1.5h-4.5zM1015.5,2129.5h3v1.5h-3zM1029,2129.5h1.5v1.5h-1.5zM1114.5,2129.5h15v1.5h-15zM1167,2129.5h3v1.5h-3zM1173,2129.5h3v1.5h-3zM1212,2129.5h7.5v1.5h-7.5zM1228.5,2129.5h4.5v1.5h-4.5zM1270.5,2129.5h3v1.5h-3zM1285.5,2129.5h1.5v1.5h-1.5zM1294.5,2129.5h1.5v1.5h-1.5zM1297.5,2129.5h1.5v1.5h-1.5zM1317,2129.5h1.5v1.5h-1.5zM415.5,2131h1.5v1.5h-1.5zM435,2131h4.5v1.5h-4.5zM444,2131h3v1.5h-3zM472.5,2131h1.5v1.5h-1.5zM492,2131h1.5v1.5h-1.5zM600,2131h4.5v1.5h-4.5zM622.5,2131h6v1.5h-6zM666,2131h3v1.5h-3zM711,2131h3v1.5h-3zM750,2131h3v1.5h-3zM756,2131h1.5v1.5h-1.5zM769.5,2131h4.5v1.5h-4.5zM775.5,2131h1.5v1.5h-1.5zM840,2131h3v1.5h-3zM870,2131h3v1.5h-3zM993,2131h1.5v1.5h-1.5zM1012.5,2131h9v1.5h-9zM1029,2131h1.5v1.5h-1.5zM1038,2131h1.5v1.5h-1.5zM1090.5,2131h1.5v1.5h-1.5zM1093.5,2131h1.5v1.5h-1.5zM1110,2131h4.5v1.5h-4.5zM1119,2131h9v1.5h-9zM1150.5,2131h3v1.5h-3zM1167,2131h3v1.5h-3zM1200,2131h3v1.5h-3zM1215,2131h3v1.5h-3zM1230,2131h1.5v1.5h-1.5zM1254,2131h3v1.5h-3zM1270.5,2131h3v1.5h-3zM1275,2131h3v1.5h-3zM1287,2131h1.5v1.5h-1.5zM1294.5,2131h1.5v1.5h-1.5zM444,2132.5h3v1.5h-3zM493.5,2132.5h1.5v1.5h-1.5zM600,2132.5h7.5v1.5h-7.5zM666,2132.5h4.5v1.5h-4.5zM711,2132.5h3v1.5h-3zM744,2132.5h1.5v1.5h-1.5zM750,2132.5h3v1.5h-3zM756,2132.5h3v1.5h-3zM769.5,2132.5h4.5v1.5h-4.5zM870,2132.5h3v1.5h-3zM876,2132.5h3v1.5h-3zM895.5,2132.5h1.5v1.5h-1.5zM997.5,2132.5h3v1.5h-3zM1011,2132.5h10.5v1.5h-10.5zM1029,2132.5h1.5v1.5h-1.5zM1036.5,2132.5h4.5v1.5h-4.5zM1065,2132.5h3v1.5h-3zM1093.5,2132.5h3v1.5h-3zM1104,2132.5h1.5v1.5h-1.5zM1111.5,2132.5h1.5v1.5h-1.5zM1120.5,2132.5h1.5v1.5h-1.5zM1152,2132.5h1.5v1.5h-1.5zM1165.5,2132.5h3v1.5h-3zM1188,2132.5h1.5v1.5h-1.5zM1200,2132.5h3v1.5h-3zM1204.5,2132.5h4.5v1.5h-4.5zM1216.5,2132.5h1.5v1.5h-1.5zM1252.5,2132.5h3v1.5h-3zM1273.5,2132.5h4.5v1.5h-4.5zM417,2134h1.5v1.5h-1.5zM474,2134h4.5v1.5h-4.5zM598.5,2134h3v1.5h-3zM604.5,2134h3v1.5h-3zM661.5,2134h3v1.5h-3zM666,2134h12v1.5h-12zM751.5,2134h1.5v1.5h-1.5zM861,2134h1.5v1.5h-1.5zM870,2134h1.5v1.5h-1.5zM876,2134h1.5v1.5h-1.5zM885,2134h3v1.5h-3zM990,2134h1.5v1.5h-1.5zM993,2134h7.5v1.5h-7.5zM1012.5,2134h4.5v1.5h-4.5zM1162.5,2134h6v1.5h-6zM1179,2134h1.5v1.5h-1.5zM1204.5,2134h4.5v1.5h-4.5zM1252.5,2134h1.5v1.5h-1.5zM1273.5,2134h1.5v1.5h-1.5zM1282.5,2134h1.5v1.5h-1.5zM414,2135.5h1.5v1.5h-1.5zM417,2135.5h1.5v1.5h-1.5zM435,2135.5h3v1.5h-3zM598.5,2135.5h1.5v1.5h-1.5zM661.5,2135.5h3v1.5h-3zM667.5,2135.5h3v1.5h-3zM676.5,2135.5h3v1.5h-3zM694.5,2135.5h1.5v1.5h-1.5zM751.5,2135.5h1.5v1.5h-1.5zM828,2135.5h3v1.5h-3zM886.5,2135.5h1.5v1.5h-1.5zM994.5,2135.5h6v1.5h-6zM1029,2135.5h3v1.5h-3zM1203,2135.5h3v1.5h-3zM1282.5,2135.5h1.5v1.5h-1.5zM1309.5,2135.5h1.5v1.5h-1.5zM669,2137h1.5v1.5h-1.5zM678,2137h3v1.5h-3zM694.5,2137h1.5v1.5h-1.5zM828,2137h3v1.5h-3zM996,2137h3v1.5h-3zM1029,2137h4.5v1.5h-4.5zM1111.5,2137h1.5v1.5h-1.5zM1195.5,2137h1.5v1.5h-1.5zM1203,2137h3v1.5h-3zM1240.5,2137h3v1.5h-3zM676.5,2138.5h4.5v1.5h-4.5zM687,2138.5h1.5v1.5h-1.5zM694.5,2138.5h3v1.5h-3zM769.5,2138.5h3v1.5h-3zM786,2138.5h1.5v1.5h-1.5zM802.5,2138.5h1.5v1.5h-1.5zM852,2138.5h1.5v1.5h-1.5zM994.5,2138.5h1.5v1.5h-1.5zM1029,2138.5h4.5v1.5h-4.5zM1120.5,2138.5h3v1.5h-3zM1203,2138.5h3v1.5h-3zM1213.5,2138.5h4.5v1.5h-4.5zM1240.5,2138.5h3v1.5h-3zM1294.5,2138.5h3v1.5h-3zM1321.5,2138.5h1.5v1.5h-1.5zM466.5,2140h1.5v1.5h-1.5zM594,2140h1.5v1.5h-1.5zM675,2140h6v1.5h-6zM687,2140h1.5v1.5h-1.5zM694.5,2140h3v1.5h-3zM720,2140h1.5v1.5h-1.5zM766.5,2140h6v1.5h-6zM792,2140h3v1.5h-3zM838.5,2140h1.5v1.5h-1.5zM852,2140h6v1.5h-6zM994.5,2140h3v1.5h-3zM1030.5,2140h3v1.5h-3zM1120.5,2140h3v1.5h-3zM1153.5,2140h1.5v1.5h-1.5zM1218,2140h1.5v1.5h-1.5zM1240.5,2140h1.5v1.5h-1.5zM1287,2140h10.5v1.5h-10.5zM414,2141.5h1.5v1.5h-1.5zM676.5,2141.5h3v1.5h-3zM694.5,2141.5h3v1.5h-3zM766.5,2141.5h6v1.5h-6zM792,2141.5h4.5v1.5h-4.5zM850.5,2141.5h7.5v1.5h-7.5zM993,2141.5h4.5v1.5h-4.5zM1285.5,2141.5h7.5v1.5h-7.5zM1302,2141.5h1.5v1.5h-1.5zM463.5,2143h1.5v1.5h-1.5zM615,2143h3v1.5h-3zM622.5,2143h1.5v1.5h-1.5zM687,2143h1.5v1.5h-1.5zM766.5,2143h4.5v1.5h-4.5zM792,2143h4.5v1.5h-4.5zM801,2143h3v1.5h-3zM1014,2143h1.5v1.5h-1.5zM1285.5,2143h6v1.5h-6zM1297.5,2143h3v1.5h-3zM651,2144.5h3v1.5h-3zM687,2144.5h1.5v1.5h-1.5zM708,2144.5h1.5v1.5h-1.5zM801,2144.5h1.5v1.5h-1.5zM1246.5,2144.5h3v1.5h-3zM1276.5,2144.5h3v1.5h-3zM1285.5,2144.5h3v1.5h-3zM444,2146h1.5v1.5h-1.5zM747,2146h3v1.5h-3zM1248,2146h3v1.5h-3zM1276.5,2146h3v1.5h-3zM1285.5,2146h3v1.5h-3zM639,2147.5h1.5v1.5h-1.5zM1132.5,2147.5h1.5v1.5h-1.5zM1249.5,2147.5h1.5v1.5h-1.5zM1278,2147.5h3v1.5h-3zM1285.5,2147.5h3v1.5h-3zM1294.5,2147.5h4.5v1.5h-4.5zM1323,2147.5h1.5v1.5h-1.5zM798,2149h1.5v1.5h-1.5zM1201.5,2149h1.5v1.5h-1.5zM1219.5,2149h1.5v1.5h-1.5zM1285.5,2149h3v1.5h-3zM1294.5,2149h6v1.5h-6zM1323,2149h1.5v1.5h-1.5zM1200,2150.5h3v1.5h-3zM1218,2150.5h4.5v1.5h-4.5zM1285.5,2150.5h3v1.5h-3zM1198.5,2152h4.5v1.5h-4.5zM1219.5,2152h3v1.5h-3zM1198.5,2153.5h1.5v1.5h-1.5zM1210.5,2153.5h3v1.5h-3zM1219.5,2153.5h1.5v1.5h-1.5zM1317,2153.5h1.5v1.5h-1.5zM1197,2155h3v1.5h-3zM1207.5,2155h1.5v1.5h-1.5zM1212,2155h1.5v1.5h-1.5zM1308,2155h3v1.5h-3zM789,2156.5h1.5v1.5h-1.5zM1197,2156.5h1.5v1.5h-1.5zM1212,2156.5h3v1.5h-3zM1309.5,2156.5h1.5v1.5h-1.5zM787.5,2158h3v1.5h-3zM1314,2158h1.5v1.5h-1.5zM787.5,2159.5h1.5v1.5h-1.5zM1221,2159.5h3v1.5h-3zM1320,2159.5h3v1.5h-3zM1221,2161h3v1.5h-3zM1267.5,2161h1.5v1.5h-1.5zM1320,2161h1.5v1.5h-1.5zM1222.5,2162.5h3v1.5h-3zM1255.5,2162.5h4.5v1.5h-4.5zM1294.5,2162.5h1.5v1.5h-1.5zM1224,2164h1.5v1.5h-1.5zM1230,2165.5h1.5v1.5h-1.5zM768,2167h1.5v1.5h-1.5zM1228.5,2167h4.5v1.5h-4.5zM1239,2167h1.5v1.5h-1.5zM768,2168.5h3v1.5h-3zM1215,2168.5h1.5v1.5h-1.5zM1228.5,2168.5h3v1.5h-3zM1267.5,2168.5h1.5v1.5h-1.5zM768,2170h3v1.5h-3zM1267.5,2170h1.5v1.5h-1.5zM1213.5,2171.5h1.5v1.5h-1.5zM1234.5,2171.5h1.5v1.5h-1.5zM1212,2173h3v1.5h-3zM1180.5,2174.5h3v1.5h-3zM1210.5,2174.5h3v1.5h-3zM1300.5,2174.5h1.5v1.5h-1.5zM1180.5,2176h3v1.5h-3zM1210.5,2176h3v1.5h-3zM1318.5,2176h3v1.5h-3zM1212,2177.5h1.5v1.5h-1.5zM1239,2179h1.5v1.5h-1.5zM783,2180.5h1.5v1.5h-1.5zM781.5,2182h4.5v1.5h-4.5zM1191,2182h3v1.5h-3zM781.5,2183.5h3v1.5h-3zM1191,2183.5h3v1.5h-3zM1203,2183.5h1.5v1.5h-1.5zM1303.5,2183.5h1.5v1.5h-1.5zM1179,2185h1.5v1.5h-1.5zM1195.5,2185h1.5v1.5h-1.5zM1203,2185h1.5v1.5h-1.5zM1296,2185h3v1.5h-3zM1303.5,2185h4.5v1.5h-4.5zM1179,2186.5h1.5v1.5h-1.5zM1296,2186.5h3v1.5h-3zM1306.5,2186.5h1.5v1.5h-1.5zM1296,2188h3v1.5h-3zM1300.5,2189.5h1.5v1.5h-1.5zM775.5,2191h1.5v1.5h-1.5zM778.5,2191h1.5v1.5h-1.5zM1206,2191h3v1.5h-3zM1299,2191h1.5v1.5h-1.5zM1303.5,2191h1.5v1.5h-1.5zM1206,2192.5h1.5v1.5h-1.5zM1218,2192.5h1.5v1.5h-1.5zM1222.5,2192.5h1.5v1.5h-1.5zM1251,2192.5h1.5v1.5h-1.5zM1260,2192.5h3v1.5h-3zM1302,2192.5h4.5v1.5h-4.5zM1201.5,2194h1.5v1.5h-1.5zM1218,2194h7.5v1.5h-7.5zM1251,2194h3v1.5h-3zM1302,2194h3v1.5h-3zM1183.5,2195.5h1.5v1.5h-1.5zM1201.5,2195.5h3v1.5h-3zM1222.5,2195.5h4.5v1.5h-4.5zM1302,2195.5h1.5v1.5h-1.5zM1315.5,2195.5h1.5v1.5h-1.5zM787.5,2197h1.5v1.5h-1.5zM1200,2197h1.5v1.5h-1.5zM1222.5,2197h3v1.5h-3zM1306.5,2197h1.5v1.5h-1.5zM745.5,2198.5h3v1.5h-3zM1197,2198.5h4.5v1.5h-4.5zM1206,2198.5h3v1.5h-3zM1239,2198.5h3v1.5h-3zM1263,2198.5h1.5v1.5h-1.5zM744,2200h3v1.5h-3zM1195.5,2200h6v1.5h-6zM1206,2200h1.5v1.5h-1.5zM1212,2200h3v1.5h-3zM1236,2200h6v1.5h-6zM1249.5,2200h1.5v1.5h-1.5zM1261.5,2200h3v1.5h-3zM1279.5,2200h1.5v1.5h-1.5z" fill="#b2afa8"/>
<g filter="url(#b3)" fill="none" stroke-linejoin="round">
<path d="M941,1618.3 L952.9,1639.7 L967.7,1660.5 L985.5,1681.3 L994.4,1696.1 L1018.2,1702.1" stroke="#f03818" stroke-width="7"/>
<path d="M1018.2,1702.1 L1036,1711 L1046.7,1720 L1053.3,1733.3 L1064,1749.3 L1070.7,1760 L1077.3,1769.3 L1084,1776" stroke="#f8c020" stroke-width="5" stroke-opacity="0.8"/>
<path d="M1152,1797.3 L1156,1805.3 L1168,1813.3 L1172,1821.3 L1174.7,1829.3 L1184,1834.7 L1193.3,1837.3 L1206.7,1846.7 L1216,1856 L1226.7,1866.7 L1232,1876 L1236,1886.7 L1238.7,1900 L1240,1907 L1248,1915 L1260,1925 L1290,1940 L1324,1957 L1330,1957" stroke="#f06018" stroke-width="6" stroke-opacity="0.9"/>
<path d="M1330,1957 L1330,1610 L940,1610" stroke="#c8e020" stroke-width="5" stroke-opacity="0.7"/>
</g>
<path d="M941,1618.3 L952.9,1639.7 L967.7,1660.5 L985.5,1681.3 L994.4,1696.1 L1018.2,1702.1 L1036,1711 L1046.7,1720 L1053.3,1733.3 L1064,1749.3 L1070.7,1760 L1077.3,1769.3 L1084,1776 L1090.7,1780 L1085,1784 L1078.7,1789.3 L1090.7,1798.7 L1104,1808 L1114.7,1813.3 L1125.3,1821.3 L1129.3,1834.7 L1133.3,1842.7 L1144,1848 L1153.3,1853.3 L1162.7,1866.7 L1172,1861.3 L1160,1846.7 L1156,1842.7 L1149.3,1837.3 L1144,1830.7 L1137.3,1821.3 L1133.3,1810.7 L1125.3,1802.7 L1118.7,1792 L1112,1784 L1101.3,1773.3 L1090.7,1764 L1086,1753.3 L1085.3,1737.3 L1086.7,1736 L1100,1742.7 L1112,1746.7 L1114.7,1754.7 L1120,1764 L1126.7,1778.7 L1136,1786.7 L1144,1792 L1152,1797.3 L1156,1805.3 L1168,1813.3 L1172,1821.3 L1174.7,1829.3 L1184,1834.7 L1193.3,1837.3 L1206.7,1846.7 L1216,1856 L1226.7,1866.7 L1232,1876 L1236,1886.7 L1238.7,1900 L1240,1907 L1248,1915 L1260,1925 L1290,1940 L1324,1957 L1330,1957 L1330,1610 L940,1610 Z" fill="#333333" fill-opacity="1.0" />
<path d="M1199.3,1858.7h4.4v1.5h-4.8zM1301.9,1829.4h4.7v1.5h-2.3zM1150.1,1702.7h3.6v1.5h-3.7zM1245,1675.3h4.4v1.5h-2.4zM1197.6,1664.9h2v1.5h-4.6zM1067,1692.9h4.9v1.5h-4.6zM1286,1719.1h3.1v1.5h-2.5zM1046.6,1645.5h2.9v1.5h-3.8zM1108.1,1722.6h4.5v1.5h-3.4zM1225.5,1643h4.9v1.5h-2.1zM1239.9,1891.1h2.1v1.5h-4.4zM1002.9,1639.7h2.5v1.5h-4.9zM1297.5,1921.7h3v1.5h-3.1zM1255.1,1895.8h2.1v1.5h-4.8zM1174.4,1723.4h3v1.5h-2.5zM1025,1671.9h4.1v1.5h-5zM1051.7,1640.3h5v1.5h-3.6zM1129.9,1699.8h3.8v1.5h-4.5zM1145.8,1757.9h2.2v1.5h-4.7zM1268.3,1666.1h4.2v1.5h-4.8zM1319.8,1893.5h4.9v1.5h-3.4zM1153.3,1716.7h3.2v1.5h-2.4z" fill="#8a8a8a"/>
<path d="M1032,1670 l12,-8 M1040,1665 l8,-4" stroke="#bbb" stroke-width="1.5"/>
<circle cx="435.7" cy="1914.8" r="6" fill="#5a2010"/>
<circle cx="423" cy="1908" r="2.5" fill="#503020"/><circle cx="397" cy="1899" r="2.5" fill="#503020"/><circle cx="372" cy="1881" r="2" fill="#503020"/>
</g>
<path d="M1013.7,2006 H1035.1 V2024.7 H1057.7 V2040.2 H1013.7 Z" fill="none" stroke="#111" stroke-width="2"/>
<rect x="363" y="1618" width="961" height="583" fill="none" stroke="#111" stroke-width="1.6"/>
<path d="M684,1612 v6 M1003.5,1612 v6 M684,2201 v6 M1003.5,2201 v6 M357,1765 h6 M357,1981 h6 M1324,1765 h6 M1324,1981 h6" stroke="#333" stroke-width="1.2"/>
<path d="M684,2120 V2201 M1003.5,2100 V2201" stroke="#000" stroke-width="0.8" stroke-opacity="0.1"/>
<text x="685" y="1603.5" font-size="31" text-anchor="middle" textLength="90" lengthAdjust="spacingAndGlyphs">140°W</text>
<text x="1004.5" y="1603.5" font-size="31" text-anchor="middle" textLength="91" lengthAdjust="spacingAndGlyphs">120°W</text>
<text x="350" y="1776" font-size="31" text-anchor="end" textLength="67.5" lengthAdjust="spacingAndGlyphs">30°N</text>
<text x="350" y="1992" font-size="31" text-anchor="end" textLength="67.5" lengthAdjust="spacingAndGlyphs">15°N</text>
<text x="80" y="1662.5" font-size="36" textLength="160" lengthAdjust="spacingAndGlyphs">November</text>
<text x="122.5" y="1707.5" font-size="36" textLength="72.5" lengthAdjust="spacingAndGlyphs">2018</text>
<text x="80" y="2127.5" font-size="31" textLength="197.5" lengthAdjust="spacingAndGlyphs">Chla (mg·m<tspan dy="-11" font-size="18">-3</tspan><tspan dy="11">)</tspan></text>
<rect x="34" y="2147.5" width="295" height="15.5" fill="url(#cbar)"/>
<text x="16" y="2181.5" font-size="18" textLength="34" lengthAdjust="spacingAndGlyphs">0.01</text>
<text x="82.5" y="2181.5" font-size="18" textLength="46.5" lengthAdjust="spacingAndGlyphs">0.067</text>
<text x="162.5" y="2181.5" font-size="18" textLength="36" lengthAdjust="spacingAndGlyphs">0.45</text>
<text x="236.5" y="2181.5" font-size="18" textLength="37.5" lengthAdjust="spacingAndGlyphs">2.99</text>
<text x="316.5" y="2181.5" font-size="18" textLength="22" lengthAdjust="spacingAndGlyphs">20</text>
<path d="M4.2,5.3 H1645 V2209 H4.2 Z" fill="none" stroke="#000" stroke-width="3.8"/>
<path d="M1000.7,5 V1539.5 M4,1539.5 H1645" stroke="#000" stroke-width="3.4"/>
</svg></body></html>
